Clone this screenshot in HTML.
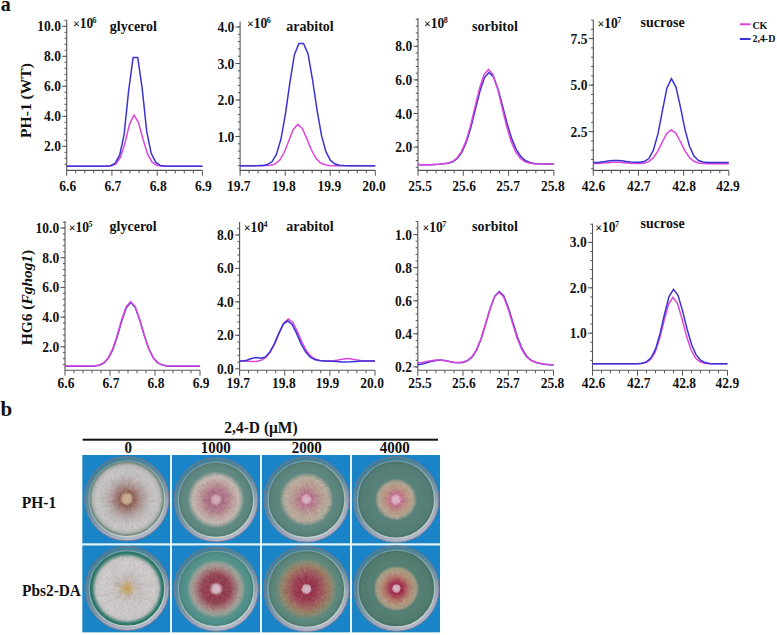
<!DOCTYPE html>
<html><head><meta charset="utf-8"><style>html,body{margin:0;padding:0;background:#fff;width:777px;height:635px;overflow:hidden}</style></head>
<body>
<svg width="777" height="635" viewBox="0 0 777 635" style="position:absolute;left:0;top:0">
<rect width="777" height="635" fill="#fff"/>
<text x="0.8" y="10.6" font-family="Liberation Serif" font-weight="bold" font-size="20" fill="#111">a</text>
<text x="0.6" y="415.9" font-family="Liberation Serif" font-weight="bold" font-size="21" fill="#111">b</text>
<path d="M66.7 20.3V170.4H202.4" stroke="#555" stroke-width="1.1" fill="none"/>
<text x="60.9" y="151.4" transform="matrix(1 0 0 1.08 0 -12.11)" font-family="Liberation Serif" font-weight="bold" font-size="13.5" text-anchor="end" fill="#111">2.0</text>
<text x="60.9" y="121.4" transform="matrix(1 0 0 1.08 0 -9.71)" font-family="Liberation Serif" font-weight="bold" font-size="13.5" text-anchor="end" fill="#111">4.0</text>
<text x="60.9" y="91.4" transform="matrix(1 0 0 1.08 0 -7.31)" font-family="Liberation Serif" font-weight="bold" font-size="13.5" text-anchor="end" fill="#111">6.0</text>
<text x="60.9" y="61.4" transform="matrix(1 0 0 1.08 0 -4.91)" font-family="Liberation Serif" font-weight="bold" font-size="13.5" text-anchor="end" fill="#111">8.0</text>
<text x="60.9" y="31.4" transform="matrix(1 0 0 1.08 0 -2.51)" font-family="Liberation Serif" font-weight="bold" font-size="13.5" text-anchor="end" fill="#111">10.0</text>
<text x="67.7" y="191.0" transform="matrix(1 0 0 1.08 0 -15.28)" font-family="Liberation Serif" font-weight="bold" font-size="13.5" text-anchor="middle" fill="#111">6.6</text>
<text x="112.9" y="191.0" transform="matrix(1 0 0 1.08 0 -15.28)" font-family="Liberation Serif" font-weight="bold" font-size="13.5" text-anchor="middle" fill="#111">6.7</text>
<text x="158.2" y="191.0" transform="matrix(1 0 0 1.08 0 -15.28)" font-family="Liberation Serif" font-weight="bold" font-size="13.5" text-anchor="middle" fill="#111">6.8</text>
<text x="203.4" y="191.0" transform="matrix(1 0 0 1.08 0 -15.28)" font-family="Liberation Serif" font-weight="bold" font-size="13.5" text-anchor="middle" fill="#111">6.9</text>
<path d="M62.1 146.3H66.7 M62.1 116.3H66.7 M62.1 86.3H66.7 M62.1 56.3H66.7 M62.1 26.3H66.7 M64.5 164.3H66.7 M64.5 158.3H66.7 M64.5 152.3H66.7 M64.5 146.3H66.7 M64.5 140.3H66.7 M64.5 134.3H66.7 M64.5 128.3H66.7 M64.5 122.3H66.7 M64.5 116.3H66.7 M64.5 110.3H66.7 M64.5 104.3H66.7 M64.5 98.3H66.7 M64.5 92.3H66.7 M64.5 86.3H66.7 M64.5 80.3H66.7 M64.5 74.3H66.7 M64.5 68.3H66.7 M64.5 62.3H66.7 M64.5 56.3H66.7 M64.5 50.3H66.7 M64.5 44.3H66.7 M64.5 38.3H66.7 M64.5 32.3H66.7 M64.5 26.3H66.7 M64.5 20.3H66.7 M66.7 170.4V175.8 M75.7 170.4V173.4 M84.8 170.4V173.4 M93.8 170.4V173.4 M102.9 170.4V173.4 M111.9 170.4V175.8 M121.0 170.4V173.4 M130.0 170.4V173.4 M139.1 170.4V173.4 M148.1 170.4V173.4 M157.2 170.4V175.8 M166.2 170.4V173.4 M175.3 170.4V173.4 M184.3 170.4V173.4 M193.4 170.4V173.4 M202.4 170.4V175.8" stroke="#555" stroke-width="1" fill="none"/>
<text x="109.8" y="30.6" transform="matrix(1 0 0 1.08 0 -2.45)" font-family="Liberation Serif" font-weight="bold" font-size="14" fill="#111">glycerol</text>
<text x="72.9" y="28.4" transform="matrix(1 0 0 1.08 0 -2.27)" font-family="Liberation Serif" font-weight="bold" font-size="12.5" fill="#111"><tspan font-size="12" dy="-0.8">×</tspan><tspan dy="0.8" dx="-0.1" font-size="13.5">10</tspan><tspan font-size="8" dy="-4.8" dx="-0.5">6</tspan></text>
<polyline points="66.7,166.2 70.7,166.2 75.2,166.2 79.7,166.2 84.2,166.2 88.8,166.2 93.3,166.2 97.8,166.2 102.3,166.2 106.9,166.2 111.4,165.8 115.9,164.0 120.4,157.5 125.0,143.0 129.5,124.3 134.0,115.1 138.5,122.6 143.0,139.2 147.6,154.1 152.1,162.2 156.6,165.3 161.1,166.0 165.7,166.2 170.2,166.2 174.7,166.2 179.2,166.2 183.8,166.2 188.3,166.2 192.8,166.2 197.3,166.2 201.8,166.2 202.4,166.2" fill="none" stroke="#dc46dc" stroke-width="1.5" stroke-linejoin="miter"/>
<polyline points="66.7,166.2 69.8,166.2 74.3,166.2 78.9,166.2 83.4,166.2 87.9,166.2 92.4,166.2 97.0,166.2 101.5,166.2 106.0,166.1 110.5,165.7 115.0,163.4 119.6,155.4 124.1,134.7 128.6,91.0 133.1,57.5 137.7,57.5 142.2,88.5 146.7,131.4 151.2,153.3 155.8,162.4 160.3,165.4 164.8,166.1 169.3,166.2 173.9,166.2 178.4,166.2 182.9,166.2 187.4,166.2 191.9,166.2 196.5,166.2 201.0,166.2 202.4,166.2" fill="none" stroke="#3a32d2" stroke-width="1.5" stroke-linejoin="miter"/>
<path d="M240.1 21.4V170.4H375.3" stroke="#555" stroke-width="1.1" fill="none"/>
<text x="234.3" y="141.6" transform="matrix(1 0 0 1.08 0 -11.33)" font-family="Liberation Serif" font-weight="bold" font-size="13.5" text-anchor="end" fill="#111">1.0</text>
<text x="234.3" y="105.1" transform="matrix(1 0 0 1.08 0 -8.41)" font-family="Liberation Serif" font-weight="bold" font-size="13.5" text-anchor="end" fill="#111">2.0</text>
<text x="234.3" y="68.6" transform="matrix(1 0 0 1.08 0 -5.49)" font-family="Liberation Serif" font-weight="bold" font-size="13.5" text-anchor="end" fill="#111">3.0</text>
<text x="234.3" y="32.1" transform="matrix(1 0 0 1.08 0 -2.57)" font-family="Liberation Serif" font-weight="bold" font-size="13.5" text-anchor="end" fill="#111">4.0</text>
<text x="238.8" y="191.0" transform="matrix(1 0 0 1.08 0 -15.28)" font-family="Liberation Serif" font-weight="bold" font-size="13.5" text-anchor="middle" fill="#111">19.7</text>
<text x="283.9" y="191.0" transform="matrix(1 0 0 1.08 0 -15.28)" font-family="Liberation Serif" font-weight="bold" font-size="13.5" text-anchor="middle" fill="#111">19.8</text>
<text x="329.4" y="191.0" transform="matrix(1 0 0 1.08 0 -15.28)" font-family="Liberation Serif" font-weight="bold" font-size="13.5" text-anchor="middle" fill="#111">19.9</text>
<text x="374.0" y="191.0" transform="matrix(1 0 0 1.08 0 -15.28)" font-family="Liberation Serif" font-weight="bold" font-size="13.5" text-anchor="middle" fill="#111">20.0</text>
<path d="M235.5 136.5H240.1 M235.5 100.0H240.1 M235.5 63.5H240.1 M235.5 27.0H240.1 M237.9 165.7H240.1 M237.9 158.4H240.1 M237.9 151.1H240.1 M237.9 143.8H240.1 M237.9 136.5H240.1 M237.9 129.2H240.1 M237.9 121.9H240.1 M237.9 114.6H240.1 M237.9 107.3H240.1 M237.9 100.0H240.1 M237.9 92.7H240.1 M237.9 85.4H240.1 M237.9 78.1H240.1 M237.9 70.8H240.1 M237.9 63.5H240.1 M237.9 56.2H240.1 M237.9 48.9H240.1 M237.9 41.6H240.1 M237.9 34.3H240.1 M237.9 27.0H240.1 M240.1 170.4V175.8 M249.1 170.4V173.4 M258.1 170.4V173.4 M267.1 170.4V173.4 M276.2 170.4V173.4 M285.2 170.4V175.8 M294.2 170.4V173.4 M303.2 170.4V173.4 M312.2 170.4V173.4 M321.2 170.4V173.4 M330.2 170.4V175.8 M339.2 170.4V173.4 M348.3 170.4V173.4 M357.3 170.4V173.4 M366.3 170.4V173.4 M375.3 170.4V175.8" stroke="#555" stroke-width="1" fill="none"/>
<text x="286.3" y="30.6" transform="matrix(1 0 0 1.08 0 -2.45)" font-family="Liberation Serif" font-weight="bold" font-size="14" fill="#111">arabitol</text>
<text x="247" y="28.4" transform="matrix(1 0 0 1.08 0 -2.27)" font-family="Liberation Serif" font-weight="bold" font-size="12.5" fill="#111"><tspan font-size="12" dy="-0.8">×</tspan><tspan dy="0.8" dx="-0.1" font-size="13.5">10</tspan><tspan font-size="8" dy="-4.8" dx="-0.5">6</tspan></text>
<polyline points="240.1,165.7 243.7,165.7 248.2,165.7 252.7,165.7 257.2,165.7 261.7,165.7 266.3,165.6 270.8,165.2 275.3,163.9 279.8,160.1 284.3,152.3 288.8,140.7 293.3,129.3 297.8,124.4 302.3,128.5 306.8,138.6 311.3,149.8 315.8,158.1 320.3,162.8 324.8,164.8 329.3,165.5 333.9,165.7 338.4,165.7 342.9,165.7 347.4,165.7 351.9,165.7 356.4,165.7 360.9,165.7 365.4,165.7 369.9,165.7 374.4,165.7 375.3,165.7" fill="none" stroke="#dc46dc" stroke-width="1.5" stroke-linejoin="miter"/>
<polyline points="240.1,165.7 240.4,165.7 244.9,165.7 249.4,165.7 253.9,165.7 258.4,165.6 262.9,165.4 267.4,164.6 271.9,161.8 276.4,154.5 280.9,139.3 285.4,114.1 289.9,82.4 294.4,54.7 298.9,43.5 303.5,43.5 308.0,53.7 312.5,79.5 317.0,109.9 321.5,135.4 326.0,151.9 330.5,160.4 335.0,164.0 339.5,165.2 344.0,165.6 348.5,165.7 353.0,165.7 357.5,165.7 362.0,165.7 366.6,165.7 371.1,165.7 375.3,165.7" fill="none" stroke="#3a32d2" stroke-width="1.5" stroke-linejoin="miter"/>
<path d="M418 18.2V170.4H553.9" stroke="#555" stroke-width="1.1" fill="none"/>
<text x="412.2" y="152.2" transform="matrix(1 0 0 1.08 0 -12.18)" font-family="Liberation Serif" font-weight="bold" font-size="13.5" text-anchor="end" fill="#111">2.0</text>
<text x="412.2" y="118.6" transform="matrix(1 0 0 1.08 0 -9.49)" font-family="Liberation Serif" font-weight="bold" font-size="13.5" text-anchor="end" fill="#111">4.0</text>
<text x="412.2" y="85.0" transform="matrix(1 0 0 1.08 0 -6.80)" font-family="Liberation Serif" font-weight="bold" font-size="13.5" text-anchor="end" fill="#111">6.0</text>
<text x="412.2" y="51.4" transform="matrix(1 0 0 1.08 0 -4.11)" font-family="Liberation Serif" font-weight="bold" font-size="13.5" text-anchor="end" fill="#111">8.0</text>
<text x="420.1" y="191.0" transform="matrix(1 0 0 1.08 0 -15.28)" font-family="Liberation Serif" font-weight="bold" font-size="13.5" text-anchor="middle" fill="#111">25.5</text>
<text x="464.1" y="191.0" transform="matrix(1 0 0 1.08 0 -15.28)" font-family="Liberation Serif" font-weight="bold" font-size="13.5" text-anchor="middle" fill="#111">25.6</text>
<text x="508.1" y="191.0" transform="matrix(1 0 0 1.08 0 -15.28)" font-family="Liberation Serif" font-weight="bold" font-size="13.5" text-anchor="middle" fill="#111">25.7</text>
<text x="552.9" y="191.0" transform="matrix(1 0 0 1.08 0 -15.28)" font-family="Liberation Serif" font-weight="bold" font-size="13.5" text-anchor="middle" fill="#111">25.8</text>
<path d="M413.4 147.1H418 M413.4 113.5H418 M413.4 79.9H418 M413.4 46.3H418 M415.8 167.3H418 M415.8 160.5H418 M415.8 153.8H418 M415.8 147.1H418 M415.8 140.4H418 M415.8 133.7H418 M415.8 126.9H418 M415.8 120.2H418 M415.8 113.5H418 M415.8 106.8H418 M415.8 100.1H418 M415.8 93.3H418 M415.8 86.6H418 M415.8 79.9H418 M415.8 73.2H418 M415.8 66.5H418 M415.8 59.7H418 M415.8 53.0H418 M415.8 46.3H418 M415.8 39.6H418 M415.8 32.9H418 M415.8 26.1H418 M415.8 19.4H418 M418.0 170.4V175.8 M427.1 170.4V173.4 M436.1 170.4V173.4 M445.2 170.4V173.4 M454.2 170.4V173.4 M463.3 170.4V175.8 M472.4 170.4V173.4 M481.4 170.4V173.4 M490.5 170.4V173.4 M499.5 170.4V173.4 M508.6 170.4V175.8 M517.7 170.4V173.4 M526.7 170.4V173.4 M535.8 170.4V173.4 M544.8 170.4V173.4 M553.9 170.4V175.8" stroke="#555" stroke-width="1" fill="none"/>
<text x="472" y="30.6" transform="matrix(1 0 0 1.08 0 -2.45)" font-family="Liberation Serif" font-weight="bold" font-size="14" fill="#111">sorbitol</text>
<text x="424" y="28.4" transform="matrix(1 0 0 1.08 0 -2.27)" font-family="Liberation Serif" font-weight="bold" font-size="12.5" fill="#111"><tspan font-size="12" dy="-0.8">×</tspan><tspan dy="0.8" dx="-0.1" font-size="13.5">10</tspan><tspan font-size="8" dy="-4.8" dx="-0.5">8</tspan></text>
<polyline points="418.0,164.6 421.1,164.7 425.6,164.8 430.1,164.7 434.6,164.5 439.2,164.2 443.7,163.8 448.2,163.2 452.8,161.7 457.3,158.4 461.8,152.3 466.4,142.1 470.9,127.3 475.4,109.3 479.9,91.2 484.5,77.6 489.0,72.5 493.5,77.0 498.1,89.4 502.6,106.1 507.1,123.5 511.6,138.4 516.2,149.3 520.7,156.4 525.2,160.5 529.8,162.5 534.3,163.4 538.8,163.8 543.4,163.9 547.9,164.0 552.4,164.0 553.9,164.0" fill="none" stroke="#3a32d2" stroke-width="1.5" stroke-linejoin="miter"/>
<polyline points="418.0,164.6 420.6,164.7 425.1,164.8 429.6,164.7 434.1,164.5 438.7,164.2 443.2,163.8 447.7,163.1 452.3,161.6 456.8,158.3 461.3,151.9 465.9,141.4 470.4,126.1 474.9,107.5 479.4,88.8 484.0,74.7 488.5,69.5 493.0,74.7 497.6,88.8 502.1,107.5 506.6,126.1 511.1,141.4 515.7,151.9 520.2,158.3 524.7,161.6 529.3,163.1 533.8,163.7 538.3,163.9 542.9,164.0 547.4,164.0 551.9,164.0 553.9,164.0" fill="none" stroke="#dc46dc" stroke-width="1.5" stroke-linejoin="miter"/>
<path d="M593.3 20.1V170.4H728.8" stroke="#555" stroke-width="1.1" fill="none"/>
<text x="587.5" y="136.7" transform="matrix(1 0 0 1.08 0 -10.94)" font-family="Liberation Serif" font-weight="bold" font-size="13.5" text-anchor="end" fill="#111">2.5</text>
<text x="587.5" y="90.2" transform="matrix(1 0 0 1.08 0 -7.22)" font-family="Liberation Serif" font-weight="bold" font-size="13.5" text-anchor="end" fill="#111">5.0</text>
<text x="587.5" y="43.7" transform="matrix(1 0 0 1.08 0 -3.50)" font-family="Liberation Serif" font-weight="bold" font-size="13.5" text-anchor="end" fill="#111">7.5</text>
<text x="593.5" y="191.0" transform="matrix(1 0 0 1.08 0 -15.28)" font-family="Liberation Serif" font-weight="bold" font-size="13.5" text-anchor="middle" fill="#111">42.6</text>
<text x="638.7" y="191.0" transform="matrix(1 0 0 1.08 0 -15.28)" font-family="Liberation Serif" font-weight="bold" font-size="13.5" text-anchor="middle" fill="#111">42.7</text>
<text x="684.1" y="191.0" transform="matrix(1 0 0 1.08 0 -15.28)" font-family="Liberation Serif" font-weight="bold" font-size="13.5" text-anchor="middle" fill="#111">42.8</text>
<text x="728.0" y="191.0" transform="matrix(1 0 0 1.08 0 -15.28)" font-family="Liberation Serif" font-weight="bold" font-size="13.5" text-anchor="middle" fill="#111">42.9</text>
<path d="M588.7 131.6H593.3 M588.7 85.1H593.3 M588.7 38.6H593.3 M591.1 168.8H593.3 M591.1 159.5H593.3 M591.1 150.2H593.3 M591.1 140.9H593.3 M591.1 131.6H593.3 M591.1 122.3H593.3 M591.1 113.0H593.3 M591.1 103.7H593.3 M591.1 94.4H593.3 M591.1 85.1H593.3 M591.1 75.8H593.3 M591.1 66.5H593.3 M591.1 57.2H593.3 M591.1 47.9H593.3 M591.1 38.6H593.3 M591.1 29.3H593.3 M591.1 20.0H593.3 M593.3 170.4V175.8 M602.3 170.4V173.4 M611.4 170.4V173.4 M620.4 170.4V173.4 M629.4 170.4V173.4 M638.5 170.4V175.8 M647.5 170.4V173.4 M656.5 170.4V173.4 M665.6 170.4V173.4 M674.6 170.4V173.4 M683.6 170.4V175.8 M692.7 170.4V173.4 M701.7 170.4V173.4 M710.7 170.4V173.4 M719.8 170.4V173.4 M728.8 170.4V175.8" stroke="#555" stroke-width="1" fill="none"/>
<text x="640.6" y="27.4" transform="matrix(1 0 0 1.08 0 -2.19)" font-family="Liberation Serif" font-weight="bold" font-size="14" fill="#111">sucrose</text>
<text x="597.5" y="28.4" transform="matrix(1 0 0 1.08 0 -2.27)" font-family="Liberation Serif" font-weight="bold" font-size="12.5" fill="#111"><tspan font-size="12" dy="-0.8">×</tspan><tspan dy="0.8" dx="-0.1" font-size="13.5">10</tspan><tspan font-size="8" dy="-4.8" dx="-0.5">7</tspan></text>
<polyline points="593.3,163.6 594.5,163.6 599.0,163.4 603.5,163.1 608.1,162.7 612.6,162.3 617.1,162.2 621.6,162.5 626.1,162.9 630.6,163.3 635.2,163.5 639.7,163.5 644.2,163.1 648.7,161.6 653.2,157.9 657.8,151.2 662.3,141.9 666.8,133.4 671.3,129.8 675.8,133.2 680.3,141.5 684.8,150.7 689.4,157.5 693.9,161.3 698.4,163.0 702.9,163.5 707.4,163.7 711.9,163.7 716.5,163.7 721.0,163.7 725.5,163.7 728.8,163.7" fill="none" stroke="#dc46dc" stroke-width="1.5" stroke-linejoin="miter"/>
<polyline points="593.3,162.5 594.6,162.5 599.1,162.2 603.6,161.7 608.2,161.1 612.7,160.5 617.2,160.4 621.7,160.8 626.2,161.4 630.8,162.0 635.3,162.3 639.8,162.3 644.3,161.5 648.8,158.5 653.3,150.4 657.9,134.2 662.4,110.8 666.9,88.2 671.4,78.7 675.9,86.8 680.4,106.8 684.9,129.1 689.5,146.2 694.0,156.0 698.5,160.5 703.0,162.0 707.5,162.5 712.0,162.6 716.6,162.6 721.1,162.6 725.6,162.6 728.8,162.6" fill="none" stroke="#3a32d2" stroke-width="1.5" stroke-linejoin="miter"/>
<path d="M65 221V370.3H200" stroke="#555" stroke-width="1.1" fill="none"/>
<text x="59.2" y="351.9" transform="matrix(1 0 0 1.08 0 -28.15)" font-family="Liberation Serif" font-weight="bold" font-size="13.5" text-anchor="end" fill="#111">2.0</text>
<text x="59.2" y="322.2" transform="matrix(1 0 0 1.08 0 -25.78)" font-family="Liberation Serif" font-weight="bold" font-size="13.5" text-anchor="end" fill="#111">4.0</text>
<text x="59.2" y="292.5" transform="matrix(1 0 0 1.08 0 -23.40)" font-family="Liberation Serif" font-weight="bold" font-size="13.5" text-anchor="end" fill="#111">6.0</text>
<text x="59.2" y="262.8" transform="matrix(1 0 0 1.08 0 -21.02)" font-family="Liberation Serif" font-weight="bold" font-size="13.5" text-anchor="end" fill="#111">8.0</text>
<text x="59.2" y="233.1" transform="matrix(1 0 0 1.08 0 -18.65)" font-family="Liberation Serif" font-weight="bold" font-size="13.5" text-anchor="end" fill="#111">10.0</text>
<text x="66.0" y="387.9" transform="matrix(1 0 0 1.08 0 -31.03)" font-family="Liberation Serif" font-weight="bold" font-size="13.5" text-anchor="middle" fill="#111">6.6</text>
<text x="111.0" y="387.9" transform="matrix(1 0 0 1.08 0 -31.03)" font-family="Liberation Serif" font-weight="bold" font-size="13.5" text-anchor="middle" fill="#111">6.7</text>
<text x="156.0" y="387.9" transform="matrix(1 0 0 1.08 0 -31.03)" font-family="Liberation Serif" font-weight="bold" font-size="13.5" text-anchor="middle" fill="#111">6.8</text>
<text x="201.2" y="387.9" transform="matrix(1 0 0 1.08 0 -31.03)" font-family="Liberation Serif" font-weight="bold" font-size="13.5" text-anchor="middle" fill="#111">6.9</text>
<path d="M60.4 346.8H65 M60.4 317.1H65 M60.4 287.4H65 M60.4 257.7H65 M60.4 228.0H65 M62.8 364.6H65 M62.8 358.7H65 M62.8 352.7H65 M62.8 346.8H65 M62.8 340.9H65 M62.8 334.9H65 M62.8 329.0H65 M62.8 323.0H65 M62.8 317.1H65 M62.8 311.2H65 M62.8 305.2H65 M62.8 299.3H65 M62.8 293.3H65 M62.8 287.4H65 M62.8 281.5H65 M62.8 275.5H65 M62.8 269.6H65 M62.8 263.6H65 M62.8 257.7H65 M62.8 251.8H65 M62.8 245.8H65 M62.8 239.9H65 M62.8 233.9H65 M62.8 228.0H65 M62.8 222.1H65 M65.0 370.3V375.7 M74.0 370.3V373.3 M83.0 370.3V373.3 M92.0 370.3V373.3 M101.0 370.3V373.3 M110.0 370.3V375.7 M119.0 370.3V373.3 M128.0 370.3V373.3 M137.0 370.3V373.3 M146.0 370.3V373.3 M155.0 370.3V375.7 M164.0 370.3V373.3 M173.0 370.3V373.3 M182.0 370.3V373.3 M191.0 370.3V373.3 M200.0 370.3V375.7" stroke="#555" stroke-width="1" fill="none"/>
<text x="109.6" y="231" transform="matrix(1 0 0 1.08 0 -18.48)" font-family="Liberation Serif" font-weight="bold" font-size="14" fill="#111">glycerol</text>
<text x="68.7" y="232.4" transform="matrix(1 0 0 1.08 0 -18.59)" font-family="Liberation Serif" font-weight="bold" font-size="12.5" fill="#111"><tspan font-size="12" dy="-0.8">×</tspan><tspan dy="0.8" dx="-0.1" font-size="13.5">10</tspan><tspan font-size="8" dy="-4.8" dx="-0.5">5</tspan></text>
<polyline points="65.0,366.3 67.8,366.3 72.3,366.3 76.8,366.3 81.3,366.3 85.8,366.3 90.3,366.2 94.8,366.0 99.3,365.2 103.8,363.2 108.3,358.4 112.8,349.6 117.3,336.3 121.8,320.7 126.3,307.7 130.8,302.6 135.3,307.5 139.8,320.2 144.3,335.5 148.8,348.8 153.3,357.8 157.8,362.8 162.3,365.1 166.8,365.9 171.3,366.2 175.8,366.3 180.3,366.3 184.8,366.3 189.3,366.3 193.8,366.3 198.3,366.3 200.0,366.3" fill="none" stroke="#3a32d2" stroke-width="1.5" stroke-linejoin="miter"/>
<polyline points="65.0,366.1 67.6,366.1 72.1,366.1 76.6,366.1 81.1,366.1 85.6,366.1 90.1,366.0 94.6,365.8 99.1,365.0 103.6,362.9 108.1,358.1 112.6,349.2 117.1,335.7 121.6,319.9 126.1,306.8 130.6,301.6 135.1,306.6 139.6,319.4 144.1,334.9 148.6,348.4 153.1,357.5 157.6,362.6 162.1,364.9 166.6,365.7 171.1,366.0 175.6,366.1 180.1,366.1 184.6,366.1 189.1,366.1 193.6,366.1 198.1,366.1 200.0,366.1" fill="none" stroke="#dc46dc" stroke-width="1.5" stroke-linejoin="miter"/>
<path d="M239.6 222.1V370.3H375" stroke="#555" stroke-width="1.1" fill="none"/>
<text x="233.8" y="373.9" transform="matrix(1 0 0 1.08 0 -29.91)" font-family="Liberation Serif" font-weight="bold" font-size="13.5" text-anchor="end" fill="#111">0.0</text>
<text x="233.8" y="340.4" transform="matrix(1 0 0 1.08 0 -27.23)" font-family="Liberation Serif" font-weight="bold" font-size="13.5" text-anchor="end" fill="#111">2.0</text>
<text x="233.8" y="307.0" transform="matrix(1 0 0 1.08 0 -24.56)" font-family="Liberation Serif" font-weight="bold" font-size="13.5" text-anchor="end" fill="#111">4.0</text>
<text x="233.8" y="273.5" transform="matrix(1 0 0 1.08 0 -21.88)" font-family="Liberation Serif" font-weight="bold" font-size="13.5" text-anchor="end" fill="#111">6.0</text>
<text x="233.8" y="240.1" transform="matrix(1 0 0 1.08 0 -19.21)" font-family="Liberation Serif" font-weight="bold" font-size="13.5" text-anchor="end" fill="#111">8.0</text>
<text x="238.2" y="387.9" transform="matrix(1 0 0 1.08 0 -31.03)" font-family="Liberation Serif" font-weight="bold" font-size="13.5" text-anchor="middle" fill="#111">19.7</text>
<text x="283.9" y="387.9" transform="matrix(1 0 0 1.08 0 -31.03)" font-family="Liberation Serif" font-weight="bold" font-size="13.5" text-anchor="middle" fill="#111">19.8</text>
<text x="327.5" y="387.9" transform="matrix(1 0 0 1.08 0 -31.03)" font-family="Liberation Serif" font-weight="bold" font-size="13.5" text-anchor="middle" fill="#111">19.9</text>
<text x="372.2" y="387.9" transform="matrix(1 0 0 1.08 0 -31.03)" font-family="Liberation Serif" font-weight="bold" font-size="13.5" text-anchor="middle" fill="#111">20.0</text>
<path d="M235.0 368.8H239.6 M235.0 335.3H239.6 M235.0 301.9H239.6 M235.0 268.4H239.6 M235.0 235.0H239.6 M237.4 362.1H239.6 M237.4 355.4H239.6 M237.4 348.7H239.6 M237.4 342.0H239.6 M237.4 335.3H239.6 M237.4 328.6H239.6 M237.4 322.0H239.6 M237.4 315.3H239.6 M237.4 308.6H239.6 M237.4 301.9H239.6 M237.4 295.2H239.6 M237.4 288.5H239.6 M237.4 281.8H239.6 M237.4 275.1H239.6 M237.4 268.4H239.6 M237.4 261.7H239.6 M237.4 255.0H239.6 M237.4 248.3H239.6 M237.4 241.7H239.6 M237.4 235.0H239.6 M237.4 228.3H239.6 M239.6 370.3V375.7 M248.6 370.3V373.3 M257.7 370.3V373.3 M266.7 370.3V373.3 M275.7 370.3V373.3 M284.7 370.3V375.7 M293.8 370.3V373.3 M302.8 370.3V373.3 M311.8 370.3V373.3 M320.8 370.3V373.3 M329.9 370.3V375.7 M338.9 370.3V373.3 M347.9 370.3V373.3 M356.9 370.3V373.3 M366.0 370.3V373.3 M375.0 370.3V375.7" stroke="#555" stroke-width="1" fill="none"/>
<text x="286.3" y="231" transform="matrix(1 0 0 1.08 0 -18.48)" font-family="Liberation Serif" font-weight="bold" font-size="14" fill="#111">arabitol</text>
<text x="243.8" y="232.4" transform="matrix(1 0 0 1.08 0 -18.59)" font-family="Liberation Serif" font-weight="bold" font-size="12.5" fill="#111"><tspan font-size="12" dy="-0.8">×</tspan><tspan dy="0.8" dx="-0.1" font-size="13.5">10</tspan><tspan font-size="8" dy="-4.8" dx="-0.5">4</tspan></text>
<polyline points="239.6,361.0 243.2,361.0 247.7,361.2 252.2,361.5 256.7,361.4 261.2,360.2 265.7,357.5 270.2,352.2 274.8,343.6 279.3,332.6 283.8,322.9 288.3,319.0 292.8,322.5 297.3,331.4 301.8,341.9 306.4,350.6 310.9,356.3 315.4,359.2 319.9,360.4 324.4,360.8 328.9,360.9 333.4,360.7 337.9,360.1 342.5,359.2 347.0,358.6 351.5,358.9 356.0,359.8 360.5,360.5 365.0,360.9 369.5,361.0 374.1,361.0 375.0,361.0" fill="none" stroke="#dc46dc" stroke-width="1.5" stroke-linejoin="miter"/>
<polyline points="239.6,361.0 242.5,360.9 247.0,360.3 251.5,358.5 256.0,357.4 260.5,358.3 265.0,357.2 269.5,352.6 274.1,344.3 278.6,333.8 283.1,324.5 287.6,320.8 292.1,324.4 296.6,333.4 301.1,343.8 305.7,352.1 310.2,357.2 314.7,359.6 319.2,360.6 323.7,360.9 328.2,361.1 332.7,361.3 337.2,361.6 341.8,361.9 346.3,362.0 350.8,361.8 355.3,361.4 359.8,361.2 364.3,361.1 368.8,361.0 373.4,361.0 375.0,361.0" fill="none" stroke="#3a32d2" stroke-width="1.5" stroke-linejoin="miter"/>
<path d="M417.8 221.1V370.3H553.5" stroke="#555" stroke-width="1.1" fill="none"/>
<text x="412.0" y="372.0" transform="matrix(1 0 0 1.08 0 -29.76)" font-family="Liberation Serif" font-weight="bold" font-size="13.5" text-anchor="end" fill="#111">0.2</text>
<text x="412.0" y="338.9" transform="matrix(1 0 0 1.08 0 -27.11)" font-family="Liberation Serif" font-weight="bold" font-size="13.5" text-anchor="end" fill="#111">0.4</text>
<text x="412.0" y="305.9" transform="matrix(1 0 0 1.08 0 -24.47)" font-family="Liberation Serif" font-weight="bold" font-size="13.5" text-anchor="end" fill="#111">0.6</text>
<text x="412.0" y="272.8" transform="matrix(1 0 0 1.08 0 -21.82)" font-family="Liberation Serif" font-weight="bold" font-size="13.5" text-anchor="end" fill="#111">0.8</text>
<text x="412.0" y="239.7" transform="matrix(1 0 0 1.08 0 -19.18)" font-family="Liberation Serif" font-weight="bold" font-size="13.5" text-anchor="end" fill="#111">1.0</text>
<text x="420.0" y="387.9" transform="matrix(1 0 0 1.08 0 -31.03)" font-family="Liberation Serif" font-weight="bold" font-size="13.5" text-anchor="middle" fill="#111">25.5</text>
<text x="463.9" y="387.9" transform="matrix(1 0 0 1.08 0 -31.03)" font-family="Liberation Serif" font-weight="bold" font-size="13.5" text-anchor="middle" fill="#111">25.6</text>
<text x="508.0" y="387.9" transform="matrix(1 0 0 1.08 0 -31.03)" font-family="Liberation Serif" font-weight="bold" font-size="13.5" text-anchor="middle" fill="#111">25.7</text>
<text x="552.5" y="387.9" transform="matrix(1 0 0 1.08 0 -31.03)" font-family="Liberation Serif" font-weight="bold" font-size="13.5" text-anchor="middle" fill="#111">25.8</text>
<path d="M413.2 366.9H417.8 M413.2 333.8H417.8 M413.2 300.8H417.8 M413.2 267.7H417.8 M413.2 234.6H417.8 M415.6 366.9H417.8 M415.6 360.3H417.8 M415.6 353.7H417.8 M415.6 347.1H417.8 M415.6 340.5H417.8 M415.6 333.8H417.8 M415.6 327.2H417.8 M415.6 320.6H417.8 M415.6 314.0H417.8 M415.6 307.4H417.8 M415.6 300.8H417.8 M415.6 294.1H417.8 M415.6 287.5H417.8 M415.6 280.9H417.8 M415.6 274.3H417.8 M415.6 267.7H417.8 M415.6 261.1H417.8 M415.6 254.4H417.8 M415.6 247.8H417.8 M415.6 241.2H417.8 M415.6 234.6H417.8 M415.6 228.0H417.8 M415.6 221.4H417.8 M417.8 370.3V375.7 M426.8 370.3V373.3 M435.9 370.3V373.3 M444.9 370.3V373.3 M454.0 370.3V373.3 M463.0 370.3V375.7 M472.1 370.3V373.3 M481.1 370.3V373.3 M490.2 370.3V373.3 M499.2 370.3V373.3 M508.3 370.3V375.7 M517.3 370.3V373.3 M526.4 370.3V373.3 M535.4 370.3V373.3 M544.5 370.3V373.3 M553.5 370.3V375.7" stroke="#555" stroke-width="1" fill="none"/>
<text x="472" y="231" transform="matrix(1 0 0 1.08 0 -18.48)" font-family="Liberation Serif" font-weight="bold" font-size="14" fill="#111">sorbitol</text>
<text x="422.5" y="232.4" transform="matrix(1 0 0 1.08 0 -18.59)" font-family="Liberation Serif" font-weight="bold" font-size="12.5" fill="#111"><tspan font-size="12" dy="-0.8">×</tspan><tspan dy="0.8" dx="-0.1" font-size="13.5">10</tspan><tspan font-size="8" dy="-4.8" dx="-0.5">7</tspan></text>
<polyline points="417.8,364.8 417.9,364.8 422.4,364.1 426.9,362.8 431.5,361.4 436.0,360.4 440.5,360.0 445.0,360.5 449.5,361.5 454.1,362.4 458.6,362.8 463.1,362.4 467.6,360.7 472.2,356.9 476.7,349.9 481.2,338.7 485.7,323.9 490.3,308.3 494.8,296.1 499.3,291.5 503.8,295.9 508.3,307.4 512.9,322.5 517.4,337.0 521.9,348.4 526.4,355.9 531.0,360.2 535.5,362.3 540.0,363.4 544.5,364.2 549.1,364.8 553.5,365.0" fill="none" stroke="#3a32d2" stroke-width="1.5" stroke-linejoin="miter"/>
<polyline points="417.8,362.9 422.1,362.4 426.6,361.6 431.1,360.7 435.7,360.1 440.2,360.1 444.7,360.7 449.2,361.5 453.8,362.3 458.3,362.6 462.8,362.1 467.3,360.5 471.9,356.8 476.4,349.8 480.9,338.8 485.4,324.2 490.0,308.8 494.5,296.8 499.0,292.2 503.5,296.6 508.0,308.4 512.6,323.5 517.1,337.9 521.6,349.1 526.1,356.3 530.7,360.3 535.2,362.3 539.7,363.3 544.2,364.0 548.8,364.6 553.3,364.8 553.5,364.8" fill="none" stroke="#dc46dc" stroke-width="1.5" stroke-linejoin="miter"/>
<path d="M592.5 223.7V370.3H727.5" stroke="#555" stroke-width="1.1" fill="none"/>
<text x="586.7" y="338.3" transform="matrix(1 0 0 1.08 0 -27.06)" font-family="Liberation Serif" font-weight="bold" font-size="13.5" text-anchor="end" fill="#111">1.0</text>
<text x="586.7" y="292.9" transform="matrix(1 0 0 1.08 0 -23.43)" font-family="Liberation Serif" font-weight="bold" font-size="13.5" text-anchor="end" fill="#111">2.0</text>
<text x="586.7" y="247.5" transform="matrix(1 0 0 1.08 0 -19.80)" font-family="Liberation Serif" font-weight="bold" font-size="13.5" text-anchor="end" fill="#111">3.0</text>
<text x="593.5" y="387.9" transform="matrix(1 0 0 1.08 0 -31.03)" font-family="Liberation Serif" font-weight="bold" font-size="13.5" text-anchor="middle" fill="#111">42.6</text>
<text x="638.7" y="387.9" transform="matrix(1 0 0 1.08 0 -31.03)" font-family="Liberation Serif" font-weight="bold" font-size="13.5" text-anchor="middle" fill="#111">42.7</text>
<text x="684.2" y="387.9" transform="matrix(1 0 0 1.08 0 -31.03)" font-family="Liberation Serif" font-weight="bold" font-size="13.5" text-anchor="middle" fill="#111">42.8</text>
<text x="727.4" y="387.9" transform="matrix(1 0 0 1.08 0 -31.03)" font-family="Liberation Serif" font-weight="bold" font-size="13.5" text-anchor="middle" fill="#111">42.9</text>
<path d="M587.9 333.2H592.5 M587.9 287.8H592.5 M587.9 242.4H592.5 M590.3 360.4H592.5 M590.3 351.4H592.5 M590.3 342.3H592.5 M590.3 333.2H592.5 M590.3 324.1H592.5 M590.3 315.0H592.5 M590.3 306.0H592.5 M590.3 296.9H592.5 M590.3 287.8H592.5 M590.3 278.7H592.5 M590.3 269.6H592.5 M590.3 260.6H592.5 M590.3 251.5H592.5 M590.3 242.4H592.5 M590.3 233.3H592.5 M590.3 224.2H592.5 M592.5 370.3V375.7 M601.5 370.3V373.3 M610.5 370.3V373.3 M619.5 370.3V373.3 M628.5 370.3V373.3 M637.5 370.3V375.7 M646.5 370.3V373.3 M655.5 370.3V373.3 M664.5 370.3V373.3 M673.5 370.3V373.3 M682.5 370.3V375.7 M691.5 370.3V373.3 M700.5 370.3V373.3 M709.5 370.3V373.3 M718.5 370.3V373.3 M727.5 370.3V375.7" stroke="#555" stroke-width="1" fill="none"/>
<text x="640.6" y="228.2" transform="matrix(1 0 0 1.08 0 -18.26)" font-family="Liberation Serif" font-weight="bold" font-size="14" fill="#111">sucrose</text>
<text x="595.3" y="232.4" transform="matrix(1 0 0 1.08 0 -18.59)" font-family="Liberation Serif" font-weight="bold" font-size="12.5" fill="#111"><tspan font-size="12" dy="-0.8">×</tspan><tspan dy="0.8" dx="-0.1" font-size="13.5">10</tspan><tspan font-size="8" dy="-4.8" dx="-0.5">7</tspan></text>
<polyline points="592.5,363.8 596.5,363.8 601.0,363.8 605.5,363.8 610.0,363.8 614.5,363.8 619.0,363.8 623.5,363.8 628.0,363.8 632.5,363.8 637.0,363.7 641.5,363.5 646.0,362.5 650.5,359.5 655.0,352.4 659.5,339.1 664.0,321.0 668.5,304.3 673.0,297.4 677.5,303.6 682.0,318.8 686.5,336.1 691.0,349.8 695.5,358.0 700.0,361.8 704.5,363.2 709.0,363.7 713.5,363.8 718.0,363.8 722.5,363.8 727.0,363.8 727.5,363.8" fill="none" stroke="#dc46dc" stroke-width="1.5" stroke-linejoin="miter"/>
<polyline points="592.5,363.8 597.0,363.8 601.5,363.8 606.0,363.8 610.5,363.8 615.0,363.8 619.5,363.8 624.0,363.8 628.5,363.8 633.0,363.8 637.5,363.7 642.0,363.3 646.5,361.9 651.0,357.9 655.5,349.1 660.0,333.9 664.5,314.2 669.0,296.6 673.5,289.4 678.0,295.4 682.5,310.6 687.0,328.8 691.5,344.3 696.0,354.6 700.5,360.1 705.0,362.6 709.5,363.4 714.0,363.7 718.5,363.8 723.0,363.8 727.5,363.8" fill="none" stroke="#3a32d2" stroke-width="1.5" stroke-linejoin="miter"/>
<text transform="translate(31.2,100.5) rotate(-90)" font-family="Liberation Serif" font-weight="bold" font-size="15.6" text-anchor="middle" fill="#111">PH-1 (WT)</text>
<text transform="translate(32.4,297.5) rotate(-90)" font-family="Liberation Serif" font-weight="bold" font-size="15.4" text-anchor="middle" fill="#111">HG6 (<tspan font-style="italic">Fghog1</tspan>)</text>
<path d="M739.8 24.3H750.6" stroke="#dc46dc" stroke-width="2"/><path d="M739.8 39H750.6" stroke="#3a32d2" stroke-width="2"/>
<text x="752.4" y="28.6" transform="matrix(1 0 0 1.08 0 -2.29)" font-family="Liberation Serif" font-weight="bold" font-size="10" fill="#111">CK</text>
<text x="752.4" y="42.4" transform="matrix(1 0 0 1.08 0 -3.39)" font-family="Liberation Serif" font-weight="bold" font-size="10" fill="#111">2,4-D</text>
<text x="261" y="433" transform="matrix(1 0 0 1.08 0 -34.64)" font-family="Liberation Serif" font-weight="bold" font-size="15.5" text-anchor="middle" fill="#111">2,4-D (μM)</text>
<rect x="82.6" y="438.7" width="355.4" height="2" fill="#111"/>
<text x="128.3" y="452.8" transform="matrix(1 0 0 1.08 0 -36.22)" font-family="Liberation Serif" font-weight="bold" font-size="15" text-anchor="middle" fill="#111">0</text>
<text x="215.8" y="452.8" transform="matrix(1 0 0 1.08 0 -36.22)" font-family="Liberation Serif" font-weight="bold" font-size="15" text-anchor="middle" fill="#111">1000</text>
<text x="306.8" y="452.8" transform="matrix(1 0 0 1.08 0 -36.22)" font-family="Liberation Serif" font-weight="bold" font-size="15" text-anchor="middle" fill="#111">2000</text>
<text x="394.8" y="452.8" transform="matrix(1 0 0 1.08 0 -36.22)" font-family="Liberation Serif" font-weight="bold" font-size="15" text-anchor="middle" fill="#111">4000</text>
<text x="21.8" y="508" transform="matrix(1 0 0 1.08 0 -40.64)" font-family="Liberation Serif" font-weight="bold" font-size="15.5" fill="#111">PH-1</text>
<text x="22" y="595.8" transform="matrix(1 0 0 1.08 0 -47.66)" font-family="Liberation Serif" font-weight="bold" font-size="15.4" fill="#111">Pbs2-DA</text>
<rect x="82.2" y="455" width="357.8" height="177.6" fill="#e4f4f4"/>
<defs><filter id="soft" x="-10%" y="-10%" width="120%" height="120%"><feGaussianBlur stdDeviation="0.45"/></filter></defs>
<svg x="82.2" y="455" width="87.8" height="88.6" overflow="hidden">
<rect width="100%" height="100%" fill="rgb(25,133,200)"/>
<g filter="url(#soft)">
<radialGradient id="ag0" gradientUnits="userSpaceOnUse" cx="44.6" cy="43.8" r="42.5"><stop offset="0" stop-color="rgb(95,123,114)"/><stop offset="0.906" stop-color="rgb(91,120,111)"/><stop offset="0.812" stop-color="rgb(85,115,105)"/><stop offset="0.878" stop-color="rgb(76,103,94)"/><stop offset="1" stop-color="rgb(76,103,94)"/></radialGradient>
<linearGradient id="rg0" gradientUnits="userSpaceOnUse" x1="23.3" y1="1.3" x2="65.8" y2="86.3"><stop offset="0" stop-color="rgb(60,125,150)"/><stop offset="0.45" stop-color="rgb(95,140,160)"/><stop offset="0.75" stop-color="rgb(160,168,188)"/><stop offset="1" stop-color="rgb(185,188,205)"/></linearGradient>
<linearGradient id="lg0" gradientUnits="userSpaceOnUse" x1="23.3" y1="1.3" x2="65.8" y2="86.3"><stop offset="0" stop-color="rgb(100,145,158)"/><stop offset="0.5" stop-color="rgb(150,175,175)"/><stop offset="1" stop-color="rgb(215,222,215)"/></linearGradient>
<circle cx="44.6" cy="43.8" r="42.5" fill="url(#ag0)"/>
<circle cx="44.6" cy="43.8" r="40.20" fill="none" stroke="url(#rg0)" stroke-width="4.2"/>
<circle cx="44.6" cy="43.8" r="37.90" fill="none" stroke="url(#lg0)" stroke-width="1.4"/>
<circle cx="44.6" cy="43.8" r="42.15" fill="none" stroke="rgb(110,118,155)" stroke-width="0.8"/>
<radialGradient id="cg0" gradientUnits="userSpaceOnUse" cx="44.6" cy="43.8" r="37.63"><stop offset="0.000" stop-color="rgb(205,180,150)"/><stop offset="0.123" stop-color="rgb(195,165,140)"/><stop offset="0.189" stop-color="rgb(140,95,85)"/><stop offset="0.283" stop-color="rgb(160,125,120)"/><stop offset="0.425" stop-color="rgb(175,160,158)"/><stop offset="0.613" stop-color="rgb(192,187,187)"/><stop offset="0.802" stop-color="rgb(198,195,195)"/><stop offset="0.896" stop-color="rgb(180,182,178)"/><stop offset="1" stop-color="rgb(180,182,178)" stop-opacity="0"/></radialGradient>
<circle cx="44.6" cy="43.8" r="37.63" fill="url(#cg0)"/>
<path d="M40.6 51.8L37.6 57.9M49.5 50.1L52.4 53.8M35.5 39.4L32.4 37.9M43.5 36.4L42.4 29.1M38.9 35.1L36.9 32.0M50.5 49.1L54.5 52.7M37.8 45.6L30.4 47.5M36.0 38.4L32.6 36.3M38.6 37.5L35.7 34.5M37.8 48.1L34.6 50.1M37.7 36.6L35.3 34.0" stroke="rgb(144,108,108)" stroke-opacity="0.45" stroke-width="0.7"/>
<path d="M63.3 56.3L70.2 61.0M25.4 35.2L17.6 31.7M27.9 19.8L25.9 17.1M48.5 20.9L49.7 13.4M39.8 71.8L38.8 77.6M59.6 65.8L63.5 71.4M72.3 50.8L76.7 51.9M63.9 33.1L70.1 29.6M73.8 44.4L79.7 44.5M70.4 52.1L75.7 53.8M24.6 65.6L21.9 68.5M20.7 43.3L12.6 43.1M67.2 47.2L72.5 48.0M19.5 59.5L14.8 62.5M16.0 50.4L12.9 51.1M20.3 27.2L15.6 23.9M53.5 17.9L56.0 10.6M31.9 19.3L28.5 12.6M42.8 72.3L42.4 78.9M38.6 18.8L36.6 10.8M41.6 15.4L41.0 9.5M44.5 17.8L44.5 9.9M60.7 68.8L63.6 73.3M60.5 60.1L65.4 65.1M18.3 54.5L12.4 56.8M40.7 21.0L39.9 16.2M20.6 43.7L14.9 43.7M49.9 69.9L51.6 78.2M60.7 54.6L66.9 58.7M64.3 31.3L69.9 27.7M69.7 45.3L78.5 45.8M69.1 46.1L76.8 46.8M62.5 66.8L65.6 70.8M68.0 25.9L71.6 23.1M39.1 65.4L37.8 70.3M69.5 54.7L74.3 56.8M63.5 38.2L69.2 36.5M22.6 48.7L15.3 50.4M71.2 33.5L75.8 31.8M23.4 55.1L18.9 57.5M27.5 66.1L23.9 70.8M15.2 39.3L11.1 38.7M69.8 28.6L74.7 25.7M66.9 57.2L71.3 59.9M62.2 63.4L66.5 68.2" stroke="rgb(180,180,180)" stroke-opacity="0.45" stroke-width="0.7"/>
<path d="M38.7 46.4L35.6 47.8M42.6 38.5L41.2 34.8M39.4 47.5L35.4 50.5M49.2 40.6L54.2 37.1M50.5 41.8L54.3 40.5M39.3 41.8L34.0 39.8" stroke="rgb(156,120,108)" stroke-opacity="0.45" stroke-width="0.7"/>
<path d="M13.6 30.3L12.4 29.8M26.3 71.8L25.4 73.2M44.8 60.3L45.0 68.4M9.8 47.6L9.7 47.6M32.0 61.1L29.8 64.0M24.6 50.0L19.1 51.7M68.7 20.2L69.7 19.2M9.5 46.6L9.6 46.6M56.3 10.5L56.2 10.6M61.0 16.2L62.5 13.6M45.0 21.8L45.1 14.0M69.6 54.8L73.6 56.6M30.4 56.7L25.2 61.4M19.7 65.3L18.0 66.7M57.6 59.8L63.0 66.5M28.1 15.0L27.2 13.3M19.4 52.0L14.9 53.5M27.6 56.9L22.3 61.0M67.9 17.1L67.7 17.3M16.7 62.7L15.5 63.6M56.2 11.4L56.5 10.7M39.5 11.9L39.1 9.1M22.3 51.5L15.0 54.1M64.1 28.7L70.0 24.0M38.7 23.6L37.5 19.6M35.7 14.5L34.6 10.9M10.7 53.2L10.7 53.2M63.3 70.4L64.8 72.6M56.4 63.6L60.1 69.8M68.7 68.7L69.0 69.0M35.4 27.7L31.6 21.3M58.4 56.9L61.6 60.0M43.4 10.7L43.3 8.7M63.2 54.8L69.7 58.7M38.5 9.4L38.5 9.2M52.1 76.1L52.6 78.0M15.2 32.7L11.7 31.4M76.0 31.7L77.4 31.2M72.2 27.3L74.8 25.8M19.9 31.6L16.4 29.9M31.3 55.0L25.2 60.1M26.3 52.0L23.6 53.2M16.3 65.1L16.6 65.0M16.4 25.9L15.0 24.9M63.8 32.5L67.7 30.2M40.3 61.7L38.7 68.6M72.7 61.1L74.5 62.2M30.3 61.6L27.2 65.5M65.0 51.9L68.2 53.2M23.1 44.1L18.6 44.1M17.8 62.4L15.7 63.8M60.5 27.9L65.5 22.9M53.1 24.2L56.1 17.4M37.4 9.7L37.4 9.4" stroke="rgb(168,168,168)" stroke-opacity="0.45" stroke-width="0.7"/>
<path d="M16.9 64.8L16.6 65.0M55.6 73.8L56.7 76.8M62.3 71.4L63.6 73.4M73.6 29.8L76.3 28.6M29.9 71.9L28.3 74.9M57.5 76.0L57.7 76.4M64.9 68.6L66.9 71.0M23.5 18.3L22.2 16.7M14.0 53.4L11.1 54.4M12.5 32.2L11.6 31.8" stroke="rgb(168,180,168)" stroke-opacity="0.45" stroke-width="0.7"/>
<path d="M30.1 30.4L25.7 26.2M28.4 34.9L21.4 31.1M41.5 60.8L40.6 65.7M16.5 43.6L11.7 43.6M70.0 54.0L77.2 56.9M59.5 23.2L64.5 16.3M17.4 38.7L10.7 37.5M36.3 21.6L35.0 18.2M32.3 71.7L31.1 74.3M33.2 69.8L30.5 76.0M44.9 24.0L44.9 17.7M57.6 34.0L62.9 29.9M40.3 19.7L39.0 12.4M51.9 28.5L55.3 21.1M24.3 32.9L19.0 30.1M64.7 37.9L71.3 36.0M40.5 61.2L39.1 67.0M28.2 52.3L22.4 55.4M38.7 64.4L37.7 67.8M36.3 26.4L32.9 19.5M26.4 37.0L18.7 34.1M23.2 48.2L16.5 49.5M25.5 53.9L18.6 57.6M28.2 19.9L25.5 15.9M57.3 17.9L60.0 12.3M22.3 34.2L14.4 30.8M61.7 65.8L66.2 71.5M21.6 52.7L16.3 54.7M61.3 69.0L63.1 71.8M24.5 26.7L18.7 21.7M36.2 66.8L35.0 70.2M17.4 40.8L10.2 39.9M65.0 43.6L71.0 43.5M68.5 26.1L72.3 23.4M63.0 32.6L67.4 29.9M59.4 68.3L61.6 72.0" stroke="rgb(204,204,204)" stroke-opacity="0.45" stroke-width="0.7"/>
<path d="M58.4 36.6L62.2 34.6M43.5 59.5L43.2 63.3M54.5 38.2L61.6 34.2M58.2 40.8L63.1 39.7M55.8 50.3L61.7 53.7M33.9 52.2L28.7 56.3M41.5 28.5L40.5 23.4M41.7 30.0L40.7 25.6M37.9 56.4L35.6 60.8M54.6 35.1L60.4 30.0M57.0 43.5L63.7 43.4M36.5 32.0L33.3 27.3M58.1 42.7L65.5 42.2M57.7 41.4L63.9 40.3M59.0 49.4L63.9 51.4" stroke="rgb(156,144,144)" stroke-opacity="0.45" stroke-width="0.7"/>
<path d="M45.4 66.0L45.6 72.0M18.1 48.3L11.9 49.3M38.1 20.6L36.7 15.5M68.1 52.3L73.0 54.1M67.9 50.1L76.3 52.3M47.3 71.6L47.7 75.8M48.4 66.5L48.9 69.4M46.5 62.8L47.4 71.4M59.9 55.2L66.1 59.9M51.9 65.9L53.7 71.5M47.4 20.9L48.1 15.2M59.8 63.7L64.6 70.0M67.5 48.0L74.4 49.2M65.2 55.9L71.4 59.5M35.8 65.1L32.5 73.0M59.6 27.4L65.2 21.3M52.6 69.0L54.3 74.4M28.2 26.2L23.4 21.0M22.5 52.5L14.3 55.8M65.9 32.0L71.7 28.8M68.9 56.8L71.6 58.2" stroke="rgb(216,216,216)" stroke-opacity="0.45" stroke-width="0.7"/>
<path d="M36.4 77.7L36.3 78.0M25.1 21.9L22.9 19.4M41.7 78.0L41.7 78.8M68.8 66.5L70.2 67.9M31.4 11.6L31.3 11.3M65.4 26.4L71.1 21.7M11.5 34.0L10.9 33.8M57.3 75.4L57.7 76.4" stroke="rgb(192,192,180)" stroke-opacity="0.45" stroke-width="0.7"/>
<path d="M16.3 29.8L13.1 28.2M68.0 19.2L68.8 18.3M65.4 22.1L68.3 19.1M47.1 14.5L47.6 8.8M18.8 64.7L17.3 65.9M69.1 67.9L69.7 68.4M27.0 39.1L22.4 37.9M70.0 28.4L73.2 26.6M74.2 53.1L78.1 54.4M16.7 28.5L13.8 26.9M64.4 17.3L65.6 15.6M60.3 13.1L60.6 12.5M27.9 17.1L26.0 14.0M25.3 20.7L22.1 16.8M14.7 60.5L13.9 61.0M14.9 39.6L9.8 38.9M30.9 74.8L30.4 75.9M62.1 20.1L65.5 15.5M16.3 28.3L13.8 26.9M72.2 52.2L78.2 54.0M52.9 11.1L53.2 9.7M12.3 30.3L12.2 30.2M38.0 14.8L36.8 9.5M38.0 13.9L37.0 9.5M68.4 22.6L70.7 20.6M43.3 76.0L43.2 78.9M59.7 12.0L59.7 12.1M74.7 59.4L75.8 60.0M10.7 44.7L9.5 44.8M70.5 60.6L74.1 62.9M14.8 28.5L13.3 27.8M73.2 61.9L74.3 62.6M42.4 13.7L42.1 8.7M64.2 72.6L64.4 72.8" stroke="rgb(192,192,192)" stroke-opacity="0.45" stroke-width="0.7"/>
<path d="M41.4 38.5L37.8 32.4M40.4 38.6L38.1 35.7M49.8 48.0L52.4 50.1M44.1 37.5L43.5 31.1M44.3 39.4L44.0 35.1M43.9 39.1L43.3 35.4M39.0 39.3L35.8 36.8M49.4 40.1L55.2 35.7M45.0 49.1L45.6 56.0" stroke="rgb(168,132,120)" stroke-opacity="0.45" stroke-width="0.7"/>
<path d="M25.7 60.3L23.4 62.3M56.0 18.9L57.7 15.1M28.8 33.6L23.1 30.0M56.6 29.8L59.8 26.1M52.1 27.7L54.5 22.4M41.6 68.9L40.8 75.8M31.9 23.3L30.0 20.1M28.0 27.5L22.1 21.7M41.5 24.9L40.5 18.8M28.4 23.5L24.7 18.9M62.5 57.0L67.4 60.6M26.4 27.9L23.1 25.1M37.3 24.3L34.7 17.4M39.9 20.5L38.9 15.7M48.4 22.6L49.9 14.4M69.4 42.7L73.2 42.6M62.0 34.6L69.1 30.8M20.9 58.9L17.9 60.9M53.9 25.8L55.5 22.7M67.5 43.5L73.0 43.4M70.5 47.9L76.1 48.8M47.4 63.4L48.2 69.3M61.3 63.3L65.1 67.7M45.7 64.1L45.9 69.7" stroke="rgb(216,204,204)" stroke-opacity="0.45" stroke-width="0.7"/>
<path d="M29.5 31.2L26.3 28.5M48.8 59.3L50.5 65.7M37.3 24.7L35.9 20.9M32.7 34.6L26.6 29.8M61.5 43.2L66.8 43.0M37.5 28.4L34.5 21.8M29.9 52.8L24.8 55.9M64.0 47.7L69.6 48.8M37.2 58.5L34.7 63.5M30.7 42.4L22.1 41.5M44.0 25.0L43.8 17.7M27.7 37.9L20.6 35.4M34.9 31.2L32.1 27.5M58.7 31.4L60.9 29.5M61.9 45.2L67.2 45.7M31.4 38.1L23.5 34.7M29.9 44.4L21.2 44.7M28.6 38.1L22.7 36.0M60.5 34.9L63.0 33.5M54.3 60.8L56.6 65.0M32.7 34.5L27.3 30.3M35.4 56.0L31.8 60.8M51.6 57.9L55.0 64.7M58.4 47.1L65.8 48.8M63.4 38.6L70.7 36.5" stroke="rgb(204,192,192)" stroke-opacity="0.45" stroke-width="0.7"/>
<path d="M34.1 51.3L31.1 53.4M40.8 29.1L40.0 26.1M55.5 35.4L58.3 33.3" stroke="rgb(192,180,168)" stroke-opacity="0.45" stroke-width="0.7"/>
<path d="M50.3 51.7L52.8 55.2M47.0 52.8L48.2 57.5M37.5 48.6L32.2 52.2" stroke="rgb(156,120,120)" stroke-opacity="0.45" stroke-width="0.7"/>
<path d="M49.5 35.1L51.7 31.1M34.8 48.5L30.6 50.6M40.7 54.1L39.2 58.0M52.1 38.0L58.1 33.3M54.0 38.0L59.4 34.7M33.2 42.2L29.4 41.7M45.5 56.6L45.8 59.7" stroke="rgb(144,120,120)" stroke-opacity="0.45" stroke-width="0.7"/>
<path d="M29.6 59.9L23.8 66.2M29.4 55.7L25.3 59.0M25.6 40.1L18.2 38.6M56.9 58.1L61.7 63.7M29.3 57.4L25.9 60.4M41.0 24.4L40.2 20.0M22.3 35.2L16.1 32.8M31.3 39.6L28.1 38.5M35.8 34.2L33.4 31.6M53.7 21.6L56.9 13.9M46.0 63.1L46.5 70.0M43.2 23.8L43.0 19.7M25.7 51.0L22.8 52.1M42.6 32.8L41.2 25.1M63.4 39.5L69.6 38.1M36.4 33.1L33.5 29.2M63.2 59.2L65.8 61.3M23.7 31.0L16.9 26.9M29.6 56.4L23.0 62.0M61.1 53.3L68.2 57.4M57.2 23.2L60.1 18.4M27.5 27.1L22.0 21.7M44.5 64.3L44.5 69.8M49.6 60.7L51.9 68.7" stroke="rgb(180,168,168)" stroke-opacity="0.45" stroke-width="0.7"/>
<path d="M36.8 45.1L31.1 46.0M40.0 38.5L34.4 32.1M41.9 51.6L40.4 55.7M49.7 52.0L51.4 54.7M36.8 48.6L33.0 51.0M48.7 36.9L52.5 30.6M40.4 36.3L38.4 32.7M52.8 39.9L56.4 38.1" stroke="rgb(180,144,144)" stroke-opacity="0.45" stroke-width="0.7"/>
<path d="M41.3 51.9L38.5 58.7M49.5 33.4L51.3 29.6M44.4 32.6L44.3 28.0M40.4 51.9L36.7 58.9M43.8 55.5L43.4 59.8M40.3 54.3L39.0 57.6" stroke="rgb(180,156,156)" stroke-opacity="0.45" stroke-width="0.7"/>
<path d="M39.7 42.4L33.9 40.8M47.1 48.5L48.8 51.6" stroke="rgb(120,84,72)" stroke-opacity="0.45" stroke-width="0.7"/>
<path d="M47.2 29.5L48.0 25.4M33.0 49.4L30.2 50.8" stroke="rgb(156,144,132)" stroke-opacity="0.45" stroke-width="0.7"/>
<path d="M49.6 44.7L54.1 45.5" stroke="rgb(156,108,96)" stroke-opacity="0.45" stroke-width="0.7"/>
<path d="M37.2 52.2L34.5 55.3M34.1 41.7L28.7 40.7M43.6 52.9L42.6 61.3M55.6 41.5L59.5 40.7" stroke="rgb(156,132,120)" stroke-opacity="0.45" stroke-width="0.7"/>
<path d="M50.2 16.7L51.3 11.1M30.6 48.1L23.5 50.2M41.1 56.3L39.8 60.6M51.7 28.3L53.9 23.7M34.4 51.4L27.4 56.7M71.7 43.1L79.5 43.0M59.9 44.1L63.4 44.1M32.9 50.9L29.8 52.8M32.4 38.3L29.4 37.0M58.3 39.5L62.9 38.1M32.0 33.7L27.7 30.3M50.1 56.4L51.6 59.8M29.8 35.1L25.3 32.4M59.8 66.5L63.2 71.6M55.5 53.2L59.8 56.9M41.9 30.1L40.6 23.7" stroke="rgb(192,180,180)" stroke-opacity="0.45" stroke-width="0.7"/>
<path d="M44.3 36.9L44.2 33.1M47.1 50.4L48.8 55.0M50.6 43.0L58.7 41.9" stroke="rgb(144,96,96)" stroke-opacity="0.45" stroke-width="0.7"/>
<path d="M50.6 38.0L53.3 35.4M49.5 48.0L54.1 51.9M42.9 35.2L42.3 32.3" stroke="rgb(132,96,96)" stroke-opacity="0.45" stroke-width="0.7"/>
<path d="M60.0 34.3L65.6 30.9M25.9 41.9L20.3 41.3M59.7 50.3L67.1 53.5M33.2 32.8L29.0 28.7M33.5 55.4L30.0 59.0M46.3 25.8L46.6 21.9M61.4 47.1L66.8 48.2M34.3 57.0L31.0 61.1M42.7 26.1L42.3 22.0M33.0 29.5L30.0 25.8M62.7 39.2L66.5 38.3M32.0 29.7L27.9 25.0M56.5 31.0L58.8 28.5M53.9 31.0L56.4 27.5M58.3 57.4L61.1 60.1M31.9 30.5L28.5 27.0M54.3 31.8L59.6 25.2M47.7 60.1L49.1 67.5M54.8 33.1L59.5 28.2M41.8 28.0L40.4 19.5" stroke="rgb(168,156,156)" stroke-opacity="0.45" stroke-width="0.7"/>
<path d="M49.8 49.9L53.4 54.1M43.3 49.4L41.4 57.7M40.2 42.9L37.3 42.4M45.0 52.1L45.2 56.1" stroke="rgb(144,108,96)" stroke-opacity="0.45" stroke-width="0.7"/>
<path d="M43.8 39.0L42.7 32.9M40.0 45.7L33.9 48.2M49.2 44.2L57.7 45.0M48.0 38.9L51.4 34.1M49.3 38.6L51.9 35.8" stroke="rgb(168,120,120)" stroke-opacity="0.45" stroke-width="0.7"/>
<path d="M47.7 34.3L50.2 26.4M56.8 41.4L60.7 40.7M57.1 44.2L60.5 44.3M33.4 50.5L29.6 52.7M50.3 52.9L54.6 60.0M45.7 55.7L46.6 64.3M57.8 37.7L61.4 36.1M40.3 55.0L38.4 59.9M56.4 42.0L61.5 41.3M37.1 54.5L33.2 60.0" stroke="rgb(192,168,168)" stroke-opacity="0.45" stroke-width="0.7"/>
<path d="M43.7 52.0L43.0 58.0" stroke="rgb(132,108,96)" stroke-opacity="0.45" stroke-width="0.7"/>
<path d="M34.9 40.6L29.5 38.8M54.1 42.1L57.7 41.5M54.3 46.1L58.0 47.0M46.7 34.9L48.2 28.6" stroke="rgb(180,156,144)" stroke-opacity="0.45" stroke-width="0.7"/>
<path d="M47.0 39.8L50.5 34.1M38.6 45.7L35.1 46.8M44.2 48.4L43.6 55.1M49.0 43.2L54.7 42.4" stroke="rgb(168,120,108)" stroke-opacity="0.45" stroke-width="0.7"/>
<path d="M16.8 27.6L14.2 26.1M62.9 18.1L64.6 15.7M69.8 26.6L73.2 24.3M23.0 69.1L21.8 70.5M69.9 22.9L71.7 21.4M25.9 73.8L26.0 73.6M69.7 62.7L72.7 65.0" stroke="rgb(180,180,168)" stroke-opacity="0.45" stroke-width="0.7"/>
<path d="M15.7 51.4L10.6 52.8M34.0 71.2L32.8 74.3M70.7 52.5L77.9 54.9M30.4 51.8L23.8 55.6M56.2 57.8L58.4 60.5M72.8 44.6L79.1 44.7M72.1 45.0L79.7 45.3M16.1 49.8L11.9 50.7" stroke="rgb(204,204,192)" stroke-opacity="0.45" stroke-width="0.7"/>
<path d="M60.2 32.1L62.6 30.4M28.5 43.7L20.3 43.6" stroke="rgb(156,156,156)" stroke-opacity="0.45" stroke-width="0.7"/>
<path d="M44.7 51.5L44.7 55.2M46.7 51.3L47.6 54.2M38.7 48.2L36.4 50.0" stroke="rgb(132,96,84)" stroke-opacity="0.45" stroke-width="0.7"/>
<path d="M45.3 39.6L45.9 36.0" stroke="rgb(144,108,84)" stroke-opacity="0.45" stroke-width="0.7"/>
<path d="M42.1 57.7L40.7 65.5M56.5 35.0L60.1 32.3" stroke="rgb(168,156,144)" stroke-opacity="0.45" stroke-width="0.7"/>
<path d="M27.4 14.6L26.8 13.5M76.2 52.6L78.4 53.3" stroke="rgb(180,192,180)" stroke-opacity="0.45" stroke-width="0.7"/>
<path d="M36.4 30.0L33.8 25.6M44.0 56.9L43.7 64.0" stroke="rgb(204,192,180)" stroke-opacity="0.45" stroke-width="0.7"/>
<path d="M37.4 49.6L33.3 53.0M49.5 34.7L51.0 31.8M53.1 40.4L57.7 38.5M36.2 45.1L27.8 46.5M34.1 46.1L29.9 47.1" stroke="rgb(144,120,108)" stroke-opacity="0.45" stroke-width="0.7"/>
<path d="M35.7 41.2L30.5 39.7" stroke="rgb(132,108,108)" stroke-opacity="0.45" stroke-width="0.7"/>
<path d="M44.0 50.7L43.6 54.1" stroke="rgb(180,132,120)" stroke-opacity="0.45" stroke-width="0.7"/>
<path d="M48.4 55.2L49.7 59.3M57.6 47.2L61.1 48.1M48.1 55.5L49.9 61.7M36.8 36.9L32.5 33.2M40.7 54.0L38.4 60.1M55.2 52.5L59.3 55.8M35.8 35.5L33.6 33.4M46.5 32.5L47.1 28.5M39.8 34.2L36.8 28.0M41.7 53.4L39.8 59.8" stroke="rgb(156,132,132)" stroke-opacity="0.45" stroke-width="0.7"/>
<path d="M53.1 38.2L55.8 36.5" stroke="rgb(192,156,156)" stroke-opacity="0.45" stroke-width="0.7"/>
<path d="M33.1 43.3L25.4 42.9M52.1 33.6L55.1 29.5" stroke="rgb(204,180,180)" stroke-opacity="0.45" stroke-width="0.7"/>
<path d="M48.6 48.1L51.2 50.8M46.8 38.0L47.8 35.3" stroke="rgb(156,108,108)" stroke-opacity="0.45" stroke-width="0.7"/>
<path d="M54.8 36.0L61.0 31.3M30.9 46.5L26.7 47.3M54.6 52.6L58.4 55.9" stroke="rgb(168,144,144)" stroke-opacity="0.45" stroke-width="0.7"/>
<path d="M40.8 48.1L37.0 52.5" stroke="rgb(144,96,84)" stroke-opacity="0.45" stroke-width="0.7"/>
<path d="M50.9 56.2L53.1 60.3M35.6 34.1L33.3 31.5" stroke="rgb(144,132,132)" stroke-opacity="0.45" stroke-width="0.7"/>
<path d="M47.8 47.8L49.8 50.2M46.7 48.7L47.9 51.4" stroke="rgb(132,84,72)" stroke-opacity="0.45" stroke-width="0.7"/>
<path d="M45.4 60.5L45.7 67.7M33.1 29.9L29.3 25.3M28.0 55.2L25.0 57.3" stroke="rgb(168,168,156)" stroke-opacity="0.45" stroke-width="0.7"/>
<path d="M51.6 49.0L55.0 51.5M37.3 42.6L32.3 41.8M44.4 36.7L44.3 31.6" stroke="rgb(180,144,132)" stroke-opacity="0.45" stroke-width="0.7"/>
<path d="M54.8 44.2L63.2 44.5M34.1 45.4L26.1 46.6" stroke="rgb(144,132,120)" stroke-opacity="0.45" stroke-width="0.7"/>
<path d="M47.8 14.1L48.4 8.9" stroke="rgb(192,204,192)" stroke-opacity="0.45" stroke-width="0.7"/>
<path d="M53.5 43.4L61.5 43.0" stroke="rgb(192,168,156)" stroke-opacity="0.45" stroke-width="0.7"/>
<path d="M48.9 44.1L56.0 44.6M49.9 45.2L53.6 46.1" stroke="rgb(120,72,72)" stroke-opacity="0.45" stroke-width="0.7"/>
<path d="M31.2 72.3h.1M17.1 57.7h.1M18.6 32.0h.1M76.4 38.6h.1M73.6 55.3h.1M25.8 33.4h.1M44.4 69.2h.1M21.7 37.7h.1M10.8 40.6h.1M64.5 66.9h.1M74.3 46.0h.1M17.7 27.1h.1M54.9 16.8h.1M61.7 64.2h.1M10.4 47.8h.1M68.5 33.9h.1M73.6 37.0h.1M75.1 41.5h.1M76.9 55.7h.1M32.8 61.4h.1M40.8 68.9h.1M31.1 23.8h.1M55.4 67.5h.1M71.5 24.5h.1M75.8 32.5h.1M52.7 75.3h.1M35.4 64.0h.1M43.6 77.1h.1M51.3 12.7h.1M17.3 51.6h.1M65.4 17.3h.1M65.3 49.6h.1M17.8 55.2h.1M29.5 16.2h.1M54.4 73.7h.1M26.9 63.7h.1M36.3 14.0h.1M66.1 58.1h.1M11.5 38.3h.1M23.9 46.3h.1M19.2 26.4h.1M41.7 14.3h.1M28.1 73.1h.1M11.1 46.2h.1M56.0 17.2h.1M53.3 70.2h.1M26.5 55.1h.1M55.5 61.6h.1M43.6 10.9h.1M55.1 23.2h.1M52.5 10.7h.1M46.6 75.7h.1M24.2 56.6h.1M68.0 48.7h.1M19.4 22.9h.1M61.2 70.7h.1M41.3 9.6h.1M68.9 44.9h.1M24.3 16.3h.1M50.4 10.2h.1M22.4 43.8h.1M64.9 33.8h.1M45.3 15.3h.1M36.8 11.9h.1M70.7 56.5h.1M46.7 20.2h.1M74.1 27.5h.1M39.0 12.1h.1M53.8 12.0h.1M64.7 16.1h.1M56.3 75.2h.1M13.0 57.1h.1M75.1 32.8h.1M17.2 30.9h.1M37.5 10.1h.1M18.3 51.1h.1M25.2 15.6h.1M76.3 42.7h.1M28.6 64.0h.1M58.3 67.4h.1M21.1 28.7h.1M40.4 72.3h.1M44.3 74.6h.1M47.2 11.3h.1M72.7 25.9h.1" stroke="rgb(210,210,210)" stroke-opacity="0.5" stroke-width="1.1" stroke-linecap="round"/>
<path d="M62.0 15.5h.1M11.9 53.7h.1" stroke="rgb(195,210,195)" stroke-opacity="0.5" stroke-width="1.1" stroke-linecap="round"/>
<path d="M36.8 40.3h.1M48.8 51.5h.1M51.3 38.2h.1M37.7 37.4h.1M54.7 44.7h.1" stroke="rgb(180,135,135)" stroke-opacity="0.5" stroke-width="1.1" stroke-linecap="round"/>
<path d="M16.2 63.6h.1M11.8 52.3h.1M61.1 32.3h.1M13.4 32.3h.1M67.3 65.7h.1M26.1 51.4h.1M65.6 41.2h.1M32.8 76.2h.1M55.0 58.8h.1" stroke="rgb(150,150,150)" stroke-opacity="0.5" stroke-width="1.1" stroke-linecap="round"/>
<path d="M20.0 43.9h.1M23.3 30.6h.1M55.1 63.2h.1M47.7 21.9h.1M25.7 43.6h.1M21.3 47.0h.1M36.2 60.5h.1M68.2 31.7h.1M50.0 61.1h.1M41.5 21.6h.1M61.3 55.7h.1M68.9 46.3h.1M56.5 60.4h.1M20.9 31.4h.1M25.4 34.9h.1M63.5 57.9h.1M57.4 31.9h.1M29.4 53.1h.1M43.0 63.5h.1M46.6 22.2h.1" stroke="rgb(165,150,150)" stroke-opacity="0.5" stroke-width="1.1" stroke-linecap="round"/>
<path d="M25.7 24.5h.1M33.8 15.9h.1M53.5 16.6h.1M38.9 18.5h.1M43.8 72.4h.1M19.8 23.0h.1M35.1 67.3h.1M24.3 45.9h.1M68.3 41.8h.1M48.0 17.9h.1M46.9 74.6h.1M39.4 15.4h.1M23.4 22.2h.1M62.1 70.2h.1M22.2 59.9h.1M63.5 28.4h.1M70.8 36.5h.1M64.6 20.6h.1M78.1 50.8h.1M72.0 46.5h.1M14.8 43.7h.1M75.2 35.4h.1M24.8 69.3h.1M16.6 28.4h.1M15.8 30.0h.1M22.7 55.8h.1M29.7 73.3h.1M26.0 15.8h.1M70.5 41.8h.1M32.4 66.0h.1M45.9 69.4h.1M70.1 63.2h.1M44.6 14.1h.1M71.1 31.3h.1M25.2 28.2h.1M48.6 70.2h.1M20.6 21.9h.1M19.2 57.6h.1M43.8 17.6h.1M73.6 50.9h.1M72.0 58.3h.1M73.4 62.0h.1M73.9 41.9h.1M39.7 71.9h.1M24.3 38.3h.1M41.9 76.4h.1M20.6 45.7h.1" stroke="rgb(165,165,165)" stroke-opacity="0.5" stroke-width="1.1" stroke-linecap="round"/>
<path d="M30.8 48.9h.1M49.8 56.4h.1M57.0 37.7h.1M54.5 34.5h.1M58.1 48.8h.1M44.9 30.3h.1M35.2 36.7h.1M56.2 34.9h.1M30.9 41.3h.1M47.4 31.9h.1M40.7 55.1h.1" stroke="rgb(195,165,165)" stroke-opacity="0.5" stroke-width="1.1" stroke-linecap="round"/>
<path d="M36.7 46.9h.1M50.3 42.2h.1M41.7 49.7h.1M45.9 37.1h.1M44.3 52.4h.1" stroke="rgb(135,90,75)" stroke-opacity="0.5" stroke-width="1.1" stroke-linecap="round"/>
<path d="M65.7 48.1h.1M25.1 48.7h.1M42.9 22.4h.1M63.0 67.0h.1M42.7 68.5h.1M66.3 50.2h.1M68.4 45.8h.1M30.3 22.1h.1M64.4 62.9h.1M31.6 69.7h.1M62.8 19.9h.1M16.6 39.8h.1M24.3 24.1h.1M67.5 32.2h.1M70.2 32.2h.1M71.4 33.5h.1M36.5 63.8h.1M68.8 39.9h.1M45.1 15.3h.1M15.8 31.0h.1M56.8 25.1h.1M24.6 33.8h.1M60.5 29.7h.1M50.9 67.9h.1M59.7 62.5h.1M61.7 60.3h.1M64.7 59.4h.1M67.3 23.9h.1" stroke="rgb(225,210,210)" stroke-opacity="0.5" stroke-width="1.1" stroke-linecap="round"/>
<path d="M42.3 34.6h.1M44.8 35.2h.1M35.8 47.7h.1M49.5 35.5h.1" stroke="rgb(165,135,120)" stroke-opacity="0.5" stroke-width="1.1" stroke-linecap="round"/>
<path d="M40.4 58.0h.1M56.5 34.0h.1M44.2 28.9h.1M37.5 55.9h.1M48.2 28.9h.1M55.4 32.5h.1" stroke="rgb(210,180,180)" stroke-opacity="0.5" stroke-width="1.1" stroke-linecap="round"/>
<path d="M18.7 32.6h.1M30.0 24.4h.1M62.1 29.1h.1M38.1 69.0h.1M31.2 15.5h.1M26.2 23.1h.1M71.1 41.7h.1M14.5 38.3h.1M14.1 48.2h.1M30.5 19.8h.1M73.3 40.6h.1M25.8 61.5h.1M25.4 27.3h.1M42.0 70.9h.1M21.7 40.1h.1M19.3 44.3h.1M54.1 16.1h.1M33.2 21.9h.1M43.3 72.0h.1M75.4 39.9h.1M69.6 26.6h.1M16.2 52.0h.1M47.3 70.2h.1M63.0 68.5h.1M64.4 66.3h.1M44.4 75.0h.1M16.5 45.0h.1M73.5 55.6h.1M21.3 61.8h.1M47.7 69.0h.1M60.7 61.8h.1M26.5 25.1h.1M27.7 71.1h.1M27.1 23.6h.1M25.2 57.9h.1M74.2 48.3h.1M72.9 40.8h.1M51.0 69.4h.1M44.1 73.0h.1M46.7 74.2h.1M24.2 18.8h.1M40.1 18.1h.1" stroke="rgb(225,225,225)" stroke-opacity="0.5" stroke-width="1.1" stroke-linecap="round"/>
<path d="M27.6 24.9h.1M57.3 38.4h.1M27.7 63.6h.1M66.2 46.2h.1M43.4 70.9h.1M59.0 63.3h.1M32.6 62.2h.1M34.1 65.1h.1M64.3 23.4h.1M59.2 19.5h.1M69.0 60.1h.1" stroke="rgb(180,165,165)" stroke-opacity="0.5" stroke-width="1.1" stroke-linecap="round"/>
<path d="M28.3 50.1h.1M53.4 29.4h.1M42.0 30.1h.1M58.6 36.6h.1M50.8 56.5h.1M62.1 41.9h.1M45.6 29.6h.1M52.5 58.0h.1M29.5 40.0h.1M31.8 35.7h.1M38.9 58.4h.1M58.3 35.0h.1M53.4 29.9h.1M60.7 43.9h.1M30.2 41.0h.1" stroke="rgb(195,180,180)" stroke-opacity="0.5" stroke-width="1.1" stroke-linecap="round"/>
<path d="M32.5 56.3h.1M31.1 53.7h.1M64.0 43.1h.1M29.0 51.1h.1M60.9 40.4h.1M58.2 52.6h.1M40.0 28.4h.1M60.5 36.4h.1" stroke="rgb(150,135,135)" stroke-opacity="0.5" stroke-width="1.1" stroke-linecap="round"/>
<path d="M56.7 54.5h.1M56.6 60.6h.1M24.7 47.8h.1M46.2 24.3h.1M38.8 24.2h.1M53.6 61.6h.1M44.5 23.6h.1M47.5 64.5h.1M49.6 60.3h.1M27.0 32.7h.1M29.3 34.0h.1M62.9 52.5h.1M44.0 63.6h.1M31.6 56.0h.1M55.9 60.6h.1M38.5 61.6h.1M54.6 58.1h.1M62.6 47.3h.1M27.2 44.6h.1M49.2 63.7h.1M39.0 26.1h.1M58.8 29.8h.1M38.0 61.9h.1M23.2 40.8h.1M54.4 59.7h.1M35.6 63.0h.1M56.6 62.7h.1M26.3 39.6h.1M63.1 47.7h.1M33.2 28.6h.1M32.9 31.5h.1M45.2 27.7h.1M32.1 54.8h.1M59.9 35.0h.1" stroke="rgb(210,195,195)" stroke-opacity="0.5" stroke-width="1.1" stroke-linecap="round"/>
<path d="M37.7 38.5h.1M48.7 37.1h.1M48.4 36.1h.1" stroke="rgb(120,90,75)" stroke-opacity="0.5" stroke-width="1.1" stroke-linecap="round"/>
<path d="M28.5 31.6h.1M47.1 26.4h.1M63.4 51.9h.1" stroke="rgb(150,150,135)" stroke-opacity="0.5" stroke-width="1.1" stroke-linecap="round"/>
<path d="M51.7 43.3h.1M50.0 48.3h.1M36.9 41.9h.1M40.6 49.1h.1" stroke="rgb(165,120,105)" stroke-opacity="0.5" stroke-width="1.1" stroke-linecap="round"/>
<path d="M32.6 11.9h.1" stroke="rgb(210,210,195)" stroke-opacity="0.5" stroke-width="1.1" stroke-linecap="round"/>
<path d="M45.6 75.8h.1" stroke="rgb(225,225,210)" stroke-opacity="0.5" stroke-width="1.1" stroke-linecap="round"/>
<path d="M75.8 43.1h.1" stroke="rgb(180,180,165)" stroke-opacity="0.5" stroke-width="1.1" stroke-linecap="round"/>
<path d="M48.6 39.6h.1" stroke="rgb(195,150,135)" stroke-opacity="0.5" stroke-width="1.1" stroke-linecap="round"/>
<path d="M48.9 34.2h.1M47.7 33.8h.1M41.2 35.0h.1M43.4 37.4h.1M39.9 36.0h.1M37.0 36.3h.1M35.4 47.1h.1M36.4 40.8h.1" stroke="rgb(180,150,135)" stroke-opacity="0.5" stroke-width="1.1" stroke-linecap="round"/>
<path d="M53.1 18.0h.1M48.4 13.6h.1M14.3 37.1h.1M46.3 69.3h.1M48.3 72.4h.1M55.1 21.1h.1M19.3 27.3h.1M61.9 20.9h.1M29.0 25.1h.1M29.1 64.4h.1M71.5 40.2h.1" stroke="rgb(180,180,180)" stroke-opacity="0.5" stroke-width="1.1" stroke-linecap="round"/>
<path d="M46.1 30.0h.1M40.4 56.7h.1M56.9 41.8h.1M44.5 58.1h.1M33.4 38.5h.1M38.9 57.7h.1M32.3 47.8h.1" stroke="rgb(150,120,120)" stroke-opacity="0.5" stroke-width="1.1" stroke-linecap="round"/>
<path d="M32.0 32.2h.1M37.8 61.1h.1" stroke="rgb(195,195,180)" stroke-opacity="0.5" stroke-width="1.1" stroke-linecap="round"/>
<path d="M39.9 37.5h.1M46.9 37.6h.1M36.4 46.3h.1M38.4 39.7h.1M37.2 39.8h.1M46.0 50.0h.1M41.3 36.7h.1" stroke="rgb(180,135,120)" stroke-opacity="0.5" stroke-width="1.1" stroke-linecap="round"/>
<path d="M52.4 44.8h.1M38.2 49.7h.1M46.1 51.8h.1" stroke="rgb(165,120,120)" stroke-opacity="0.5" stroke-width="1.1" stroke-linecap="round"/>
<path d="M25.1 43.5h.1M52.8 60.5h.1M60.3 13.2h.1M16.0 61.4h.1M53.5 10.4h.1M11.3 37.1h.1M15.1 58.5h.1M21.9 18.4h.1M63.4 52.1h.1M31.6 56.9h.1M28.4 73.6h.1M46.6 10.0h.1" stroke="rgb(195,195,195)" stroke-opacity="0.5" stroke-width="1.1" stroke-linecap="round"/>
<path d="M38.5 30.2h.1M36.7 55.6h.1" stroke="rgb(150,135,120)" stroke-opacity="0.5" stroke-width="1.1" stroke-linecap="round"/>
<path d="M51.7 38.2h.1M38.1 39.2h.1" stroke="rgb(120,75,75)" stroke-opacity="0.5" stroke-width="1.1" stroke-linecap="round"/>
<path d="M31.7 44.8h.1M33.1 51.4h.1M32.1 46.4h.1" stroke="rgb(135,120,105)" stroke-opacity="0.5" stroke-width="1.1" stroke-linecap="round"/>
<path d="M45.5 49.0h.1M35.6 50.7h.1M51.9 52.5h.1" stroke="rgb(195,165,150)" stroke-opacity="0.5" stroke-width="1.1" stroke-linecap="round"/>
<path d="M55.8 75.9h.1M22.9 19.2h.1" stroke="rgb(150,165,150)" stroke-opacity="0.5" stroke-width="1.1" stroke-linecap="round"/>
<path d="M51.2 30.2h.1M38.6 31.0h.1M36.9 57.2h.1" stroke="rgb(195,180,165)" stroke-opacity="0.5" stroke-width="1.1" stroke-linecap="round"/>
<path d="M30.3 51.3h.1M31.7 52.8h.1" stroke="rgb(210,195,180)" stroke-opacity="0.5" stroke-width="1.1" stroke-linecap="round"/>
<path d="M36.5 49.8h.1M35.7 42.0h.1M55.4 45.3h.1" stroke="rgb(135,90,90)" stroke-opacity="0.5" stroke-width="1.1" stroke-linecap="round"/>
<path d="M44.8 32.5h.1M53.3 51.2h.1M53.5 49.4h.1M56.3 42.5h.1" stroke="rgb(180,150,150)" stroke-opacity="0.5" stroke-width="1.1" stroke-linecap="round"/>
<path d="M50.0 46.2h.1" stroke="rgb(195,165,135)" stroke-opacity="0.5" stroke-width="1.1" stroke-linecap="round"/>
<path d="M53.5 75.8h.1M49.3 75.0h.1" stroke="rgb(165,165,150)" stroke-opacity="0.5" stroke-width="1.1" stroke-linecap="round"/>
<path d="M30.8 48.6h.1M59.7 42.8h.1" stroke="rgb(135,120,120)" stroke-opacity="0.5" stroke-width="1.1" stroke-linecap="round"/>
<path d="M32.8 37.5h.1" stroke="rgb(180,165,150)" stroke-opacity="0.5" stroke-width="1.1" stroke-linecap="round"/>
<path d="M31.6 13.1h.1" stroke="rgb(210,225,210)" stroke-opacity="0.5" stroke-width="1.1" stroke-linecap="round"/>
<path d="M38.1 34.6h.1M34.2 39.6h.1M52.6 50.8h.1" stroke="rgb(195,150,150)" stroke-opacity="0.5" stroke-width="1.1" stroke-linecap="round"/>
<path d="M39.8 41.4h.1" stroke="rgb(150,120,90)" stroke-opacity="0.5" stroke-width="1.1" stroke-linecap="round"/>
<path d="M46.0 36.1h.1M47.5 36.8h.1M39.0 49.0h.1M48.5 38.6h.1" stroke="rgb(120,75,60)" stroke-opacity="0.5" stroke-width="1.1" stroke-linecap="round"/>
<path d="M53.2 37.4h.1" stroke="rgb(135,105,90)" stroke-opacity="0.5" stroke-width="1.1" stroke-linecap="round"/>
<path d="M34.7 56.7h.1" stroke="rgb(165,150,135)" stroke-opacity="0.5" stroke-width="1.1" stroke-linecap="round"/>
<path d="M45.3 53.7h.1M36.7 50.3h.1" stroke="rgb(135,105,105)" stroke-opacity="0.5" stroke-width="1.1" stroke-linecap="round"/>
<path d="M47.7 39.6h.1" stroke="rgb(210,180,150)" stroke-opacity="0.5" stroke-width="1.1" stroke-linecap="round"/>
<path d="M34.8 38.1h.1" stroke="rgb(150,120,105)" stroke-opacity="0.5" stroke-width="1.1" stroke-linecap="round"/>
</g>
</svg>
<svg x="172" y="455" width="88.0" height="88.6" overflow="hidden">
<rect width="100%" height="100%" fill="rgb(25,133,200)"/>
<g filter="url(#soft)">
<radialGradient id="ag1" gradientUnits="userSpaceOnUse" cx="44.0" cy="44.8" r="42.3"><stop offset="0" stop-color="rgb(99,140,132)"/><stop offset="0.709" stop-color="rgb(96,137,130)"/><stop offset="0.811" stop-color="rgb(90,133,125)"/><stop offset="0.877" stop-color="rgb(81,119,112)"/><stop offset="1" stop-color="rgb(81,119,112)"/></radialGradient>
<linearGradient id="rg1" gradientUnits="userSpaceOnUse" x1="22.9" y1="2.5" x2="65.2" y2="87.1"><stop offset="0" stop-color="rgb(60,125,150)"/><stop offset="0.45" stop-color="rgb(95,140,160)"/><stop offset="0.75" stop-color="rgb(160,168,188)"/><stop offset="1" stop-color="rgb(185,188,205)"/></linearGradient>
<linearGradient id="lg1" gradientUnits="userSpaceOnUse" x1="22.9" y1="2.5" x2="65.2" y2="87.1"><stop offset="0" stop-color="rgb(100,145,158)"/><stop offset="0.5" stop-color="rgb(150,175,175)"/><stop offset="1" stop-color="rgb(215,222,215)"/></linearGradient>
<circle cx="44.0" cy="44.8" r="42.3" fill="url(#ag1)"/>
<circle cx="44.0" cy="44.8" r="40.00" fill="none" stroke="url(#rg1)" stroke-width="4.2"/>
<circle cx="44.0" cy="44.8" r="37.70" fill="none" stroke="url(#lg1)" stroke-width="1.4"/>
<circle cx="44.0" cy="44.8" r="41.95" fill="none" stroke="rgb(110,118,155)" stroke-width="0.8"/>
<radialGradient id="cg1" gradientUnits="userSpaceOnUse" cx="44.0" cy="44.8" r="28.62"><stop offset="0.000" stop-color="rgb(212,176,190)"/><stop offset="0.132" stop-color="rgb(205,165,182)"/><stop offset="0.226" stop-color="rgb(172,112,132)"/><stop offset="0.425" stop-color="rgb(178,130,142)"/><stop offset="0.613" stop-color="rgb(188,160,158)"/><stop offset="0.802" stop-color="rgb(195,182,175)"/><stop offset="1" stop-color="rgb(195,182,175)" stop-opacity="0"/></radialGradient>
<circle cx="44.0" cy="44.8" r="28.62" fill="url(#cg1)"/>
<path d="M47.6 48.1L50.4 50.7M40.7 41.0L38.0 37.9M42.0 48.9L39.9 53.2M51.2 44.0L55.7 43.5M38.5 44.5L34.0 44.2M46.9 48.2L49.5 51.3" stroke="rgb(192,132,144)" stroke-opacity="0.45" stroke-width="0.7"/>
<path d="M41.6 48.7L39.2 52.5M50.6 40.1L53.5 38.0M49.9 40.7L54.6 37.4M38.0 49.6L33.6 53.2M49.1 49.6L51.6 52.1M43.5 39.5L43.2 36.4M48.3 39.7L51.8 35.6M40.6 40.3L38.0 37.0M45.0 48.8L46.5 54.2M46.7 38.4L48.4 34.1" stroke="rgb(192,132,156)" stroke-opacity="0.45" stroke-width="0.7"/>
<path d="M21.9 35.6L19.3 34.5M52.5 20.5L52.8 19.6M49.8 68.9L50.3 70.8M45.7 67.9L45.9 70.7M36.7 19.6L36.5 19.1M31.4 66.7L30.7 68.0M29.9 30.9L27.5 28.5M59.3 24.4L60.0 23.4M63.2 53.6L68.3 56.0M50.5 65.8L52.0 70.3M51.8 26.6L54.4 20.5M41.0 21.6L40.5 18.3M41.1 23.8L40.3 18.3M48.8 21.4L49.4 18.6M27.5 26.7L26.0 25.1M68.5 44.5L70.7 44.4M43.3 22.5L43.2 19.4M39.2 18.3L39.3 18.5M19.2 39.7L17.8 39.5M32.7 64.6L31.3 67.1M51.4 64.5L53.4 69.8M29.1 32.6L24.0 28.4M62.1 60.5L64.2 62.3M37.4 27.4L36.2 24.2M24.6 30.6L22.6 29.1M21.8 50.0L18.0 50.9M29.2 60.7L25.8 64.3M24.0 62.6L24.0 62.6M61.0 59.0L63.2 60.7M42.7 66.4L42.4 71.5M53.4 61.5L55.5 65.1M42.0 63.9L41.7 67.0M69.1 43.3L70.7 43.2M64.5 59.5L65.7 60.4M27.4 54.1L24.8 55.6M57.9 25.4L59.6 23.1M54.5 60.0L57.6 64.5M59.3 25.2L60.4 23.7M17.5 48.3L17.5 48.3M43.7 19.3L43.7 18.1M29.1 31.1L24.6 27.0M21.4 57.7L20.8 58.1M43.3 21.8L43.1 18.5M58.3 28.2L61.4 24.5M55.5 66.5L56.5 68.4M22.8 30.5L21.8 29.8M21.3 43.9L17.3 43.8M28.8 57.0L26.4 59.0M41.6 66.6L41.1 70.9M60.6 61.3L62.2 62.9M63.9 34.2L67.6 32.2M66.9 48.7L70.4 49.3M66.6 39.9L70.1 39.1" stroke="rgb(204,192,180)" stroke-opacity="0.45" stroke-width="0.7"/>
<path d="M58.7 39.4L61.8 38.2M30.1 52.4L24.8 55.3M57.5 57.0L60.1 59.4M50.5 31.9L52.4 28.2M58.7 49.5L61.4 50.4M26.3 49.8L23.0 50.8M59.5 39.1L61.8 38.2M46.1 28.2L46.9 21.9M58.3 50.0L64.2 52.1M47.8 62.6L48.3 64.9M29.2 37.3L25.6 35.5M30.0 57.9L28.4 59.4M30.0 38.1L24.6 35.4M37.2 31.4L35.3 27.5M53.8 55.8L57.1 59.5M53.4 35.8L57.5 31.9" stroke="rgb(168,144,144)" stroke-opacity="0.45" stroke-width="0.7"/>
<path d="M41.7 50.0L40.0 53.9M37.1 47.7L34.5 48.7M37.4 43.8L32.8 43.1" stroke="rgb(204,144,156)" stroke-opacity="0.45" stroke-width="0.7"/>
<path d="M24.0 49.8L21.6 50.4M57.4 32.9L61.2 29.5M57.9 31.8L60.2 29.7M26.2 49.4L19.6 51.1M31.1 60.1L29.1 62.4M35.2 59.2L32.8 63.2M45.2 28.0L45.6 21.7M56.4 56.7L60.4 60.5M49.8 64.5L50.6 67.1M34.9 60.1L32.4 64.2M46.4 26.1L47.2 20.0M33.6 29.1L32.3 27.2M60.9 37.0L65.6 34.9" stroke="rgb(216,192,192)" stroke-opacity="0.45" stroke-width="0.7"/>
<path d="M52.1 50.5L56.8 53.9M51.2 53.0L54.9 57.2M45.2 54.3L45.9 59.6M47.8 54.9L49.3 59.1M45.2 56.3L45.7 60.2M46.1 35.8L47.5 29.7M41.7 55.7L40.8 60.4M33.2 42.6L29.6 41.9M48.2 38.7L51.6 33.7M52.8 41.5L58.3 39.5" stroke="rgb(168,120,132)" stroke-opacity="0.45" stroke-width="0.7"/>
<path d="M58.6 43.3L61.6 43.0M51.0 33.5L52.9 30.6M37.7 56.9L36.1 60.1M48.8 31.9L50.0 28.7M32.7 38.0L30.0 36.3M30.9 51.1L28.7 52.1M52.2 53.7L56.5 58.4M60.1 41.8L62.3 41.4M49.7 32.9L51.1 30.0M34.1 32.5L31.5 29.3M31.4 45.5L26.3 45.7" stroke="rgb(168,132,132)" stroke-opacity="0.45" stroke-width="0.7"/>
<path d="M53.3 21.9L54.1 20.0M62.9 62.7L63.4 63.2M32.2 68.3L32.0 68.7M38.1 23.2L37.0 19.0M56.2 60.4L59.5 64.7M32.3 64.3L30.3 67.5M34.9 67.0L33.9 69.6M21.5 49.8L17.9 50.6M32.2 61.1L29.5 64.8M64.7 33.7L67.6 32.2M52.5 22.4L53.4 19.8M69.2 47.5L70.6 47.6M23.7 58.4L21.8 59.6M23.2 57.6L21.2 58.8M38.0 70.4L37.9 70.8M23.2 52.2L18.8 53.8" stroke="rgb(180,168,168)" stroke-opacity="0.45" stroke-width="0.7"/>
<path d="M45.5 59.8L46.0 64.7M57.2 50.2L60.6 51.6M35.9 55.4L33.6 58.4M42.4 33.2L41.7 28.2M51.3 54.2L55.0 59.0M39.0 34.6L36.1 28.8M55.6 36.3L60.8 32.4M57.7 37.9L61.2 36.1M47.2 58.4L48.1 62.1M57.0 45.2L61.2 45.3M55.4 49.2L61.2 51.4M54.6 36.1L59.2 32.3M54.5 54.4L57.8 57.4M41.1 32.9L40.0 28.5M58.0 46.7L61.6 47.2M31.1 46.4L24.6 47.2" stroke="rgb(204,168,168)" stroke-opacity="0.45" stroke-width="0.7"/>
<path d="M32.4 28.7L31.1 26.9M25.1 53.4L22.1 54.7M61.3 34.8L65.6 32.3M48.9 63.3L49.6 66.2M65.2 43.0L67.5 42.8" stroke="rgb(216,204,192)" stroke-opacity="0.45" stroke-width="0.7"/>
<path d="M51.3 48.9L53.3 50.1M36.3 41.2L33.7 39.9M45.9 41.3L47.5 38.4M50.0 50.6L52.5 53.1M37.3 40.8L32.9 38.1" stroke="rgb(204,144,168)" stroke-opacity="0.45" stroke-width="0.7"/>
<path d="M49.6 35.9L51.5 32.9M53.0 42.3L58.7 40.7M45.4 53.0L46.0 56.4M36.3 45.2L29.9 45.5M33.5 46.4L31.0 46.7M49.6 47.2L55.3 49.6M43.0 39.0L42.2 34.8M36.2 46.2L31.4 47.1M42.6 51.1L41.2 57.3M37.1 51.5L32.6 56.0M49.1 45.6L54.8 46.6M49.0 36.8L50.5 34.3M51.2 41.4L57.1 38.6M40.0 39.0L36.8 34.5M44.6 51.4L45.1 57.7M49.9 53.5L52.0 56.5M36.7 40.3L33.8 38.5M37.4 51.9L34.4 55.1M41.5 52.4L39.4 58.7M35.3 43.7L32.9 43.4M42.2 35.1L41.4 30.8M48.8 39.2L51.0 36.7M41.2 37.9L40.2 35.5M37.0 51.1L33.2 54.5" stroke="rgb(156,108,120)" stroke-opacity="0.45" stroke-width="0.7"/>
<path d="M28.2 56.0L26.4 57.3M52.5 59.7L54.6 63.4M59.8 38.8L63.4 37.5M28.2 49.1L25.7 49.7M60.9 40.0L64.3 39.1M28.4 52.9L25.5 54.4M43.5 62.5L43.4 67.3M56.9 32.9L59.6 30.4M61.2 45.3L64.0 45.3M40.0 60.4L39.2 63.5M30.3 36.7L25.5 33.9M60.2 41.1L66.7 39.6M55.5 54.9L58.9 57.9M46.7 58.9L47.5 63.0M28.7 44.7L26.4 44.7M30.1 51.1L28.1 52.0" stroke="rgb(204,180,180)" stroke-opacity="0.45" stroke-width="0.7"/>
<path d="M28.8 47.0L22.3 47.9M59.1 38.0L61.7 36.8M27.8 42.8L24.3 42.3M57.5 47.7L63.7 49.1M30.6 49.6L25.3 51.5" stroke="rgb(216,180,180)" stroke-opacity="0.45" stroke-width="0.7"/>
<path d="M58.1 44.8L61.3 44.8M48.4 34.4L49.7 31.4M42.8 56.7L42.4 60.5M40.0 33.5L38.2 28.4" stroke="rgb(192,156,168)" stroke-opacity="0.45" stroke-width="0.7"/>
<path d="M49.7 56.5L52.1 61.4" stroke="rgb(204,168,180)" stroke-opacity="0.45" stroke-width="0.7"/>
<path d="M27.9 47.3L24.1 48.0M59.9 46.3L65.3 46.8M57.8 36.1L62.6 33.0M30.6 53.5L27.7 55.4M35.5 56.8L32.6 61.0M52.1 57.5L55.5 62.8" stroke="rgb(204,180,168)" stroke-opacity="0.45" stroke-width="0.7"/>
<path d="M42.7 39.5L41.7 35.4M42.8 49.8L42.0 52.9" stroke="rgb(144,84,108)" stroke-opacity="0.45" stroke-width="0.7"/>
<path d="M48.0 42.0L52.7 38.8M48.4 46.9L53.4 49.3M37.5 47.9L35.4 48.9" stroke="rgb(144,96,108)" stroke-opacity="0.45" stroke-width="0.7"/>
<path d="M28.2 44.8L22.9 44.9M53.3 58.7L55.1 61.3" stroke="rgb(216,192,180)" stroke-opacity="0.45" stroke-width="0.7"/>
<path d="M51.6 43.0L54.0 42.4M42.6 36.4L42.1 33.0M33.6 43.3L27.9 42.5M46.0 50.6L47.4 54.8M52.7 44.8L56.5 44.8M37.2 36.6L34.5 33.3M34.2 49.0L29.6 50.9M50.8 36.2L53.3 33.1M32.6 48.6L30.4 49.3M33.5 46.8L31.1 47.3M52.0 46.3L54.7 46.7M48.0 36.8L49.2 34.5M34.6 49.7L30.6 51.8M37.0 48.2L31.9 50.8M52.6 45.6L56.3 46.0M49.6 37.7L52.6 33.9M38.0 40.5L34.0 37.6M51.9 44.7L56.5 44.7M43.5 34.0L43.4 31.2M49.2 38.7L53.3 33.9M44.8 50.2L45.7 56.5M45.4 53.1L46.4 59.5M46.6 53.8L48.2 59.5M44.0 55.2L44.0 59.4M35.6 43.0L31.6 42.2M36.0 48.2L30.0 50.8M46.9 49.4L50.4 55.0" stroke="rgb(192,144,156)" stroke-opacity="0.45" stroke-width="0.7"/>
<path d="M52.2 62.7L53.6 65.7M25.1 48.2L19.4 49.2M60.2 34.5L64.0 32.0M51.3 28.8L53.0 25.2M61.0 36.5L66.5 33.8M39.1 61.6L37.4 67.5M31.7 32.6L28.0 28.8M28.0 35.1L25.1 33.4M52.6 61.4L54.2 64.6" stroke="rgb(180,156,156)" stroke-opacity="0.45" stroke-width="0.7"/>
<path d="M32.6 62.8L29.7 67.4M63.2 61.5L64.1 62.4M57.3 23.4L58.1 22.1M20.1 36.9L18.6 36.4M61.3 31.0L64.9 28.1M26.2 27.6L24.8 26.2M58.0 25.8L59.9 23.3M21.0 40.0L17.8 39.3M26.5 64.0L26.0 64.6M66.8 35.5L68.8 34.7" stroke="rgb(192,168,168)" stroke-opacity="0.45" stroke-width="0.7"/>
<path d="M47.4 57.3L49.2 63.6M56.9 49.7L59.2 50.6" stroke="rgb(168,132,144)" stroke-opacity="0.45" stroke-width="0.7"/>
<path d="M40.8 32.9L39.7 28.7" stroke="rgb(192,156,156)" stroke-opacity="0.45" stroke-width="0.7"/>
<path d="M51.4 26.5L53.4 21.7M47.8 24.7L48.5 21.2M50.6 64.1L51.8 67.7M24.4 38.3L21.9 37.5M24.1 52.7L21.7 53.7M60.3 56.6L64.2 59.4" stroke="rgb(180,168,156)" stroke-opacity="0.45" stroke-width="0.7"/>
<path d="M46.5 48.9L48.7 52.5M39.5 46.7L34.1 48.9M48.7 40.3L53.4 35.8M45.5 40.2L47.3 34.6M45.6 49.2L47.7 54.6M46.6 48.3L50.1 52.9M51.0 41.7L53.5 40.5M38.0 44.5L32.0 44.2M49.3 44.0L52.7 43.4M48.2 45.9L52.7 47.0M46.7 40.8L48.2 38.6M48.3 44.2L53.6 43.4M43.3 49.4L42.8 53.2M41.3 50.4L40.3 52.5M50.7 47.8L53.5 49.1M40.4 49.8L38.4 52.6M49.5 46.9L53.4 48.4M38.4 43.8L35.8 43.4" stroke="rgb(156,96,120)" stroke-opacity="0.45" stroke-width="0.7"/>
<path d="M50.9 22.7L51.7 20.3M50.5 23.5L51.3 21.0M60.1 65.1L60.6 65.7M70.5 40.5L70.4 40.6M22.1 58.9L21.5 59.3M68.0 32.9L67.9 32.9M18.8 44.3L17.3 44.3M42.0 24.0L41.5 18.2M64.7 35.7L68.5 34.0M28.1 24.5L27.5 23.8M52.0 23.3L53.3 19.7M32.0 21.9L31.6 21.1M27.6 62.5L25.8 64.4M38.9 66.2L38.1 69.7M48.6 18.4L48.6 18.5M68.3 42.3L70.6 42.1M65.4 59.1L66.2 59.7" stroke="rgb(192,180,168)" stroke-opacity="0.45" stroke-width="0.7"/>
<path d="M54.3 49.9L57.5 51.5M39.9 34.8L37.8 29.6M38.4 36.7L36.2 33.5M43.8 35.1L43.7 32.3M46.7 42.9L49.3 41.1M53.1 50.1L57.3 52.6M51.4 51.0L54.9 53.9" stroke="rgb(204,156,168)" stroke-opacity="0.45" stroke-width="0.7"/>
<path d="M39.0 41.9L34.6 39.4M47.8 36.9L49.1 34.3M38.9 40.0L35.2 36.5M41.4 38.4L39.4 33.6M37.0 45.3L34.0 45.5M43.4 40.0L42.7 33.6" stroke="rgb(156,96,108)" stroke-opacity="0.45" stroke-width="0.7"/>
<path d="M28.4 44.7L24.7 44.6M40.1 59.8L38.6 65.2M58.9 43.7L64.8 43.3" stroke="rgb(180,144,144)" stroke-opacity="0.45" stroke-width="0.7"/>
<path d="M45.3 31.5L45.6 27.8M54.4 44.6L61.1 44.4M45.2 31.5L45.5 28.5" stroke="rgb(156,120,132)" stroke-opacity="0.45" stroke-width="0.7"/>
<path d="M64.9 29.5L65.6 29.0M38.6 69.9L38.3 70.9M58.6 22.7L58.7 22.5M55.5 26.6L58.1 22.5M17.6 45.2L17.3 45.2M46.5 25.0L47.2 19.3M25.0 29.5L23.2 28.0M27.1 59.3L25.1 61.0M46.4 66.7L46.8 70.9M43.1 24.6L42.8 18.1M22.9 28.1L23.1 28.2" stroke="rgb(204,192,192)" stroke-opacity="0.45" stroke-width="0.7"/>
<path d="M40.6 43.2L38.0 42.0" stroke="rgb(180,120,144)" stroke-opacity="0.45" stroke-width="0.7"/>
<path d="M34.2 62.9L32.7 65.6M27.2 52.2L21.3 54.8" stroke="rgb(168,156,156)" stroke-opacity="0.45" stroke-width="0.7"/>
<path d="M48.2 47.3L53.2 50.3M39.2 45.4L34.2 46.0" stroke="rgb(180,132,144)" stroke-opacity="0.45" stroke-width="0.7"/>
<path d="M46.6 58.2L47.1 60.8M35.8 38.5L30.6 34.4M54.1 50.9L58.5 53.5M45.5 56.0L45.8 58.6" stroke="rgb(156,120,120)" stroke-opacity="0.45" stroke-width="0.7"/>
<path d="M30.2 30.2L28.2 28.0M26.5 52.1L24.4 52.9M30.4 56.1L27.4 58.6" stroke="rgb(168,156,144)" stroke-opacity="0.45" stroke-width="0.7"/>
<path d="M48.4 45.9L51.1 46.5M51.5 39.3L53.8 37.7M39.5 39.6L35.4 34.9" stroke="rgb(168,108,132)" stroke-opacity="0.45" stroke-width="0.7"/>
<path d="M41.5 38.0L40.1 34.0M46.2 52.0L47.9 57.7M37.2 42.6L34.9 41.9M48.5 50.9L51.4 54.8M38.0 42.9L32.4 41.2" stroke="rgb(168,108,120)" stroke-opacity="0.45" stroke-width="0.7"/>
<path d="M57.8 40.3L60.3 39.5M44.0 30.8L44.0 26.4M30.0 38.2L27.2 37.0" stroke="rgb(156,132,132)" stroke-opacity="0.45" stroke-width="0.7"/>
<path d="M37.4 29.8L35.8 26.1" stroke="rgb(168,144,132)" stroke-opacity="0.45" stroke-width="0.7"/>
<path d="M47.9 45.3L50.2 45.7" stroke="rgb(204,156,180)" stroke-opacity="0.45" stroke-width="0.7"/>
<path d="M29.2 36.7L26.4 35.2M29.4 34.0L27.2 32.4M27.6 48.9L24.4 49.7M50.5 29.8L52.5 25.3" stroke="rgb(180,156,144)" stroke-opacity="0.45" stroke-width="0.7"/>
<path d="M44.8 48.0L45.4 50.5" stroke="rgb(180,132,156)" stroke-opacity="0.45" stroke-width="0.7"/>
<path d="M40.4 45.4L37.6 45.9" stroke="rgb(168,120,144)" stroke-opacity="0.45" stroke-width="0.7"/>
<path d="M56.5 38.0h.1M38.6 26.2h.1M29.6 57.4h.1M45.9 61.5h.1M52.8 30.8h.1M53.3 58.7h.1M60.6 44.7h.1M41.5 28.0h.1M52.0 26.4h.1M44.0 30.4h.1M28.2 46.3h.1M63.4 47.9h.1M33.2 30.4h.1M32.0 57.4h.1M47.6 62.1h.1M48.2 59.5h.1M59.3 36.5h.1M53.3 55.4h.1M50.8 26.4h.1M34.1 34.9h.1M51.5 60.9h.1M34.8 31.9h.1M31.2 59.8h.1M24.6 46.5h.1M29.0 53.9h.1M57.8 54.5h.1" stroke="rgb(210,180,180)" stroke-opacity="0.5" stroke-width="1.1" stroke-linecap="round"/>
<path d="M32.0 38.5h.1M42.2 53.6h.1M52.5 36.4h.1M39.2 54.2h.1M41.5 52.0h.1M39.5 56.1h.1M43.3 58.2h.1M36.4 52.3h.1M37.1 55.1h.1M56.6 46.1h.1M37.6 33.3h.1M46.8 37.5h.1M54.7 43.5h.1M48.8 34.4h.1M52.6 37.9h.1M49.9 51.8h.1" stroke="rgb(195,150,165)" stroke-opacity="0.5" stroke-width="1.1" stroke-linecap="round"/>
<path d="M27.3 32.1h.1M61.7 36.2h.1M61.7 56.0h.1M41.2 21.4h.1M20.0 34.7h.1M22.2 33.6h.1M21.9 44.0h.1M55.7 28.3h.1M40.9 19.6h.1M34.9 22.2h.1M35.0 64.3h.1M25.3 38.7h.1" stroke="rgb(165,150,150)" stroke-opacity="0.5" stroke-width="1.1" stroke-linecap="round"/>
<path d="M61.6 36.3h.1M26.9 39.0h.1M63.8 40.2h.1M38.3 63.5h.1M40.7 64.8h.1M56.5 59.2h.1M25.3 38.5h.1" stroke="rgb(210,195,180)" stroke-opacity="0.5" stroke-width="1.1" stroke-linecap="round"/>
<path d="M51.5 21.1h.1M57.0 29.6h.1M24.4 39.4h.1M29.0 28.7h.1M68.5 36.3h.1M40.9 22.8h.1M31.3 23.3h.1M65.6 35.7h.1M66.0 45.9h.1M20.2 42.9h.1M58.1 29.3h.1M38.8 69.6h.1M59.7 33.5h.1M34.1 22.1h.1M25.4 51.6h.1" stroke="rgb(210,195,195)" stroke-opacity="0.5" stroke-width="1.1" stroke-linecap="round"/>
<path d="M42.9 34.2h.1M43.3 50.0h.1M49.3 44.7h.1M44.0 35.2h.1M41.7 34.8h.1M47.9 54.8h.1M46.9 53.4h.1M50.4 38.5h.1M35.2 49.5h.1" stroke="rgb(210,150,165)" stroke-opacity="0.5" stroke-width="1.1" stroke-linecap="round"/>
<path d="M54.9 34.1h.1M38.5 31.3h.1M29.6 45.5h.1M56.7 37.4h.1M37.3 58.7h.1M57.6 48.4h.1" stroke="rgb(150,120,120)" stroke-opacity="0.5" stroke-width="1.1" stroke-linecap="round"/>
<path d="M55.4 37.6h.1M34.3 53.8h.1M47.6 34.9h.1M49.2 36.4h.1M48.5 35.3h.1M39.7 56.3h.1M34.0 49.3h.1M47.1 55.9h.1M31.5 47.0h.1M42.7 33.4h.1M47.2 33.7h.1M37.7 55.6h.1M32.5 44.8h.1M43.5 52.6h.1M46.4 31.9h.1M48.3 53.2h.1M40.4 53.2h.1M38.2 45.0h.1M37.0 49.9h.1" stroke="rgb(150,105,120)" stroke-opacity="0.5" stroke-width="1.1" stroke-linecap="round"/>
<path d="M66.2 41.9h.1M47.4 21.9h.1M23.4 51.8h.1M63.2 57.2h.1M49.1 66.9h.1M47.8 20.5h.1M46.1 69.6h.1M24.3 47.8h.1M55.5 65.0h.1M59.8 58.0h.1M39.6 66.2h.1M65.5 33.1h.1M25.9 57.3h.1M34.1 23.6h.1M33.1 27.4h.1M53.9 24.8h.1M45.5 22.3h.1" stroke="rgb(225,210,195)" stroke-opacity="0.5" stroke-width="1.1" stroke-linecap="round"/>
<path d="M54.0 30.0h.1M59.5 32.0h.1M56.1 31.7h.1M42.1 27.2h.1M41.6 63.7h.1M31.5 58.8h.1M57.1 58.9h.1M24.8 46.2h.1M57.1 61.3h.1M57.1 56.7h.1M47.9 23.9h.1M23.7 45.6h.1M50.4 23.7h.1M64.3 42.9h.1M55.7 27.7h.1M29.4 55.9h.1M38.6 63.1h.1M54.2 62.2h.1M59.7 53.2h.1" stroke="rgb(225,195,195)" stroke-opacity="0.5" stroke-width="1.1" stroke-linecap="round"/>
<path d="M38.2 50.2h.1" stroke="rgb(195,135,165)" stroke-opacity="0.5" stroke-width="1.1" stroke-linecap="round"/>
<path d="M48.7 40.3h.1M50.1 41.1h.1M37.5 37.3h.1M35.0 49.3h.1M47.8 53.7h.1M47.0 51.6h.1M49.3 39.0h.1" stroke="rgb(195,135,150)" stroke-opacity="0.5" stroke-width="1.1" stroke-linecap="round"/>
<path d="M53.5 21.1h.1M67.5 41.7h.1M24.6 45.2h.1M20.3 39.5h.1M25.7 53.5h.1M19.6 38.8h.1M53.4 20.6h.1" stroke="rgb(165,150,135)" stroke-opacity="0.5" stroke-width="1.1" stroke-linecap="round"/>
<path d="M37.9 31.0h.1M31.9 33.5h.1M45.6 59.5h.1M35.4 31.6h.1M58.9 46.1h.1M28.1 45.0h.1M60.3 40.4h.1M38.0 30.9h.1M31.2 50.0h.1" stroke="rgb(195,165,165)" stroke-opacity="0.5" stroke-width="1.1" stroke-linecap="round"/>
<path d="M35.1 37.0h.1M39.6 32.2h.1M35.7 35.5h.1M56.4 43.4h.1M36.4 56.4h.1M44.0 56.5h.1M55.8 37.9h.1M43.1 39.8h.1M47.5 41.2h.1M41.3 59.1h.1M50.1 59.4h.1M37.2 31.7h.1" stroke="rgb(210,165,180)" stroke-opacity="0.5" stroke-width="1.1" stroke-linecap="round"/>
<path d="M56.8 64.9h.1" stroke="rgb(180,165,165)" stroke-opacity="0.5" stroke-width="1.1" stroke-linecap="round"/>
<path d="M51.2 60.1h.1M27.8 50.1h.1M56.6 54.9h.1M24.9 40.8h.1M31.5 30.0h.1M25.4 46.2h.1M32.0 59.0h.1M50.1 26.8h.1M57.3 29.9h.1M54.0 26.5h.1M40.2 61.3h.1M22.9 43.9h.1" stroke="rgb(165,135,135)" stroke-opacity="0.5" stroke-width="1.1" stroke-linecap="round"/>
<path d="M34.4 47.7h.1M39.7 35.0h.1M51.0 45.3h.1" stroke="rgb(150,90,105)" stroke-opacity="0.5" stroke-width="1.1" stroke-linecap="round"/>
<path d="M33.5 38.4h.1M30.3 49.6h.1M46.7 32.6h.1M33.5 32.5h.1M30.8 43.2h.1M38.0 54.7h.1M37.6 32.4h.1M29.3 44.9h.1M31.5 34.3h.1" stroke="rgb(210,165,165)" stroke-opacity="0.5" stroke-width="1.1" stroke-linecap="round"/>
<path d="M21.1 40.2h.1M60.6 64.6h.1M66.3 53.0h.1M65.7 37.1h.1M31.5 63.5h.1M46.6 66.2h.1M62.9 62.0h.1M18.8 47.3h.1M45.2 22.3h.1M68.7 39.8h.1M64.8 52.2h.1M21.0 40.5h.1M31.3 64.9h.1M22.0 48.8h.1" stroke="rgb(225,210,210)" stroke-opacity="0.5" stroke-width="1.1" stroke-linecap="round"/>
<path d="M66.5 54.9h.1M54.7 21.9h.1M21.3 49.1h.1M20.7 49.0h.1M48.7 22.0h.1M50.7 22.2h.1" stroke="rgb(210,210,195)" stroke-opacity="0.5" stroke-width="1.1" stroke-linecap="round"/>
<path d="M22.9 57.6h.1M63.2 28.3h.1M25.6 31.3h.1M39.6 69.8h.1M60.2 58.8h.1M25.8 62.5h.1M64.8 34.1h.1M48.6 70.2h.1M20.2 46.5h.1" stroke="rgb(180,165,150)" stroke-opacity="0.5" stroke-width="1.1" stroke-linecap="round"/>
<path d="M34.3 69.2h.1M31.4 66.6h.1M43.0 70.9h.1" stroke="rgb(165,165,150)" stroke-opacity="0.5" stroke-width="1.1" stroke-linecap="round"/>
<path d="M30.5 30.0h.1" stroke="rgb(150,135,135)" stroke-opacity="0.5" stroke-width="1.1" stroke-linecap="round"/>
<path d="M37.4 45.3h.1" stroke="rgb(135,75,105)" stroke-opacity="0.5" stroke-width="1.1" stroke-linecap="round"/>
<path d="M49.1 56.9h.1M41.1 33.2h.1M52.1 35.3h.1M55.8 42.1h.1" stroke="rgb(165,120,120)" stroke-opacity="0.5" stroke-width="1.1" stroke-linecap="round"/>
<path d="M45.4 34.6h.1M52.4 52.7h.1M48.3 47.8h.1" stroke="rgb(165,105,120)" stroke-opacity="0.5" stroke-width="1.1" stroke-linecap="round"/>
<path d="M56.5 48.6h.1M58.5 39.5h.1M41.8 49.5h.1" stroke="rgb(165,120,135)" stroke-opacity="0.5" stroke-width="1.1" stroke-linecap="round"/>
<path d="M35.9 61.0h.1" stroke="rgb(150,135,120)" stroke-opacity="0.5" stroke-width="1.1" stroke-linecap="round"/>
<path d="M52.1 53.7h.1" stroke="rgb(150,105,105)" stroke-opacity="0.5" stroke-width="1.1" stroke-linecap="round"/>
<path d="M44.8 34.2h.1" stroke="rgb(195,150,150)" stroke-opacity="0.5" stroke-width="1.1" stroke-linecap="round"/>
<path d="M47.5 42.1h.1" stroke="rgb(225,180,195)" stroke-opacity="0.5" stroke-width="1.1" stroke-linecap="round"/>
</g>
</svg>
<svg x="262" y="455" width="88.0" height="88.6" overflow="hidden">
<rect width="100%" height="100%" fill="rgb(25,133,200)"/>
<g filter="url(#soft)">
<radialGradient id="ag2" gradientUnits="userSpaceOnUse" cx="44.5" cy="44.4" r="43"><stop offset="0" stop-color="rgb(98,137,129)"/><stop offset="0.663" stop-color="rgb(94,135,127)"/><stop offset="0.814" stop-color="rgb(88,130,122)"/><stop offset="0.879" stop-color="rgb(79,117,109)"/><stop offset="1" stop-color="rgb(79,117,109)"/></radialGradient>
<linearGradient id="rg2" gradientUnits="userSpaceOnUse" x1="23.0" y1="1.4" x2="66.0" y2="87.4"><stop offset="0" stop-color="rgb(60,125,150)"/><stop offset="0.45" stop-color="rgb(95,140,160)"/><stop offset="0.75" stop-color="rgb(160,168,188)"/><stop offset="1" stop-color="rgb(185,188,205)"/></linearGradient>
<linearGradient id="lg2" gradientUnits="userSpaceOnUse" x1="23.0" y1="1.4" x2="66.0" y2="87.4"><stop offset="0" stop-color="rgb(100,145,158)"/><stop offset="0.5" stop-color="rgb(150,175,175)"/><stop offset="1" stop-color="rgb(215,222,215)"/></linearGradient>
<circle cx="44.5" cy="44.4" r="43" fill="url(#ag2)"/>
<circle cx="44.5" cy="44.4" r="40.70" fill="none" stroke="url(#rg2)" stroke-width="4.2"/>
<circle cx="44.5" cy="44.4" r="38.40" fill="none" stroke="url(#lg2)" stroke-width="1.4"/>
<circle cx="44.5" cy="44.4" r="42.65" fill="none" stroke="rgb(110,118,155)" stroke-width="0.8"/>
<radialGradient id="cg2" gradientUnits="userSpaceOnUse" cx="44.5" cy="44.4" r="27.03"><stop offset="0.000" stop-color="rgb(220,180,200)"/><stop offset="0.151" stop-color="rgb(210,168,190)"/><stop offset="0.208" stop-color="rgb(185,115,140)"/><stop offset="0.358" stop-color="rgb(182,135,142)"/><stop offset="0.566" stop-color="rgb(184,160,150)"/><stop offset="0.802" stop-color="rgb(182,172,156)"/><stop offset="1" stop-color="rgb(182,172,156)" stop-opacity="0"/></radialGradient>
<circle cx="44.5" cy="44.4" r="27.03" fill="url(#cg2)"/>
<path d="M55.5 44.8L59.0 45.0M52.7 50.2L54.8 51.6M48.7 52.3L50.7 56.1M51.1 49.5L53.8 51.6M53.0 47.3L57.5 48.9M44.7 36.1L44.8 30.4M36.3 49.1L32.8 51.1M42.6 34.0L42.2 31.9M36.1 44.8L31.5 45.0M40.7 51.9L38.8 55.8M53.0 41.7L58.0 40.1" stroke="rgb(156,120,120)" stroke-opacity="0.45" stroke-width="0.7"/>
<path d="M52.3 37.4L56.2 34.0M47.1 56.4L47.8 59.4M51.4 36.1L54.5 32.3M53.0 37.3L57.3 33.8M52.6 36.5L56.7 32.5M33.1 49.3L29.6 50.8M49.9 57.5L51.0 60.3" stroke="rgb(192,168,156)" stroke-opacity="0.45" stroke-width="0.7"/>
<path d="M45.4 40.9L46.9 35.4M42.2 48.5L41.0 50.7M49.1 42.8L51.6 41.9M43.0 48.7L42.0 51.6M42.9 39.0L42.1 36.5" stroke="rgb(168,96,120)" stroke-opacity="0.45" stroke-width="0.7"/>
<path d="M54.5 43.3L57.5 43.0M40.5 53.9L39.0 57.3M40.2 51.6L36.9 57.0M35.6 39.3L32.0 37.3M44.0 35.4L43.7 29.7M34.3 43.5L28.0 42.9M55.4 47.5L59.5 48.6M55.5 46.2L60.6 47.0M53.3 48.0L57.0 49.5M44.5 56.6L44.5 58.6M55.6 43.9L61.8 43.7M44.9 32.1L45.0 28.6" stroke="rgb(168,132,132)" stroke-opacity="0.45" stroke-width="0.7"/>
<path d="M68.5 48.3L69.4 48.4M56.6 23.5L57.2 22.6M39.9 69.1L39.9 69.2M22.6 38.0L20.4 37.3M24.2 34.1L22.0 33.0M63.9 54.2L66.4 55.4M61.8 36.3L67.0 33.8" stroke="rgb(192,180,156)" stroke-opacity="0.45" stroke-width="0.7"/>
<path d="M26.7 37.9L23.2 36.6M47.8 62.6L48.6 67.2M27.5 52.8L22.9 55.1M53.6 28.0L55.0 25.5M41.2 25.3L40.7 22.3M57.1 54.2L59.4 55.9M27.7 40.9L23.8 40.1M58.4 45.8L63.1 46.2M25.7 46.4L22.1 46.8M42.5 64.2L42.1 67.7M51.5 26.9L53.2 22.7M28.4 43.6L23.8 43.3M60.3 36.5L64.1 34.5M63.5 46.0L68.1 46.4" stroke="rgb(204,192,180)" stroke-opacity="0.45" stroke-width="0.7"/>
<path d="M45.0 33.6L45.1 31.4M38.6 37.0L34.9 32.3M52.2 44.9L57.7 45.2M53.2 50.2L55.2 51.5M50.9 51.8L54.2 55.6M42.1 52.1L40.7 56.3M37.5 39.0L34.4 36.6M37.6 41.5L32.6 39.4" stroke="rgb(192,156,156)" stroke-opacity="0.45" stroke-width="0.7"/>
<path d="M33.7 56.3L31.6 58.6M63.5 39.3L68.8 37.8M33.0 62.5L31.0 65.7M59.2 61.4L61.0 63.5M53.7 24.1L54.9 21.4M31.5 26.0L29.9 23.8M68.7 38.4L69.0 38.4M65.7 49.2L69.1 49.9M43.2 28.5L42.9 24.7M68.1 39.8L69.3 39.6M63.8 39.3L66.2 38.6M28.0 48.8L25.6 49.4M60.4 64.3L60.2 64.1M34.1 31.1L30.4 26.4M19.7 43.4L19.3 43.4M29.8 50.8L24.0 53.3M47.9 64.3L48.6 68.5M27.3 51.0L24.8 52.0M22.2 36.5L20.7 35.9M54.3 27.6L55.6 25.3M36.4 65.0L35.2 67.9M61.2 39.1L64.8 38.0M30.3 59.5L27.9 62.2M25.7 42.8L20.3 42.3M26.2 48.7L21.1 49.9M61.9 55.2L66.0 57.7M63.5 36.9L68.0 35.1M48.7 68.8L48.8 69.3M30.4 31.6L25.9 27.4M65.3 30.8L65.6 30.6M41.6 61.1L40.9 64.7M25.1 34.8L23.0 33.7M30.0 30.9L28.5 29.5M50.8 24.4L52.1 20.3M28.7 40.6L23.0 39.2M60.0 30.9L63.2 28.1M31.5 59.7L29.0 62.7M34.9 65.9L34.2 67.5M66.1 47.7L69.5 48.2M37.4 65.3L36.8 67.2M57.7 28.1L59.5 25.8M48.0 24.4L48.8 19.8M28.5 52.3L26.7 53.2M62.4 60.4L63.4 61.2M23.4 51.6L21.3 52.3M21.9 34.1L21.5 34.0" stroke="rgb(192,180,168)" stroke-opacity="0.45" stroke-width="0.7"/>
<path d="M48.6 42.2L53.0 39.7M46.3 41.5L48.8 37.4M40.5 44.3L34.6 44.1M46.9 46.4L49.4 48.5M47.4 48.4L50.0 51.8" stroke="rgb(192,132,156)" stroke-opacity="0.45" stroke-width="0.7"/>
<path d="M45.1 51.4L45.6 56.6M43.7 50.7L43.1 56.5M46.1 52.4L46.8 55.7M45.0 36.5L45.3 32.0M48.4 40.0L52.0 35.9M44.5 51.1L44.5 54.8M45.0 39.7L45.7 33.9M38.3 41.1L32.8 38.1M50.5 38.9L52.4 37.2M38.8 38.2L35.4 34.5M39.3 48.8L34.6 52.9M38.1 39.3L35.8 37.4" stroke="rgb(204,156,168)" stroke-opacity="0.45" stroke-width="0.7"/>
<path d="M23.9 36.4L21.2 35.4M66.2 48.2L69.4 48.7M28.2 26.9L27.3 25.9M27.0 59.0L25.1 60.6M20.3 51.7L20.3 51.7M66.5 53.7L67.7 54.2M57.9 64.4L58.6 65.4M27.5 57.8L25.5 59.4M24.5 43.7L19.3 43.5M67.6 45.1L69.7 45.2" stroke="rgb(168,168,144)" stroke-opacity="0.45" stroke-width="0.7"/>
<path d="M47.2 41.0L50.6 36.7M42.2 47.2L39.7 50.4M49.3 43.2L51.4 42.6M45.2 40.3L46.1 35.3M47.8 45.7L52.2 47.5M40.7 42.5L36.9 40.5M42.1 39.2L40.7 36.3" stroke="rgb(204,132,156)" stroke-opacity="0.45" stroke-width="0.7"/>
<path d="M26.0 56.4L23.3 58.2M63.5 39.0L68.8 37.5M58.0 59.6L61.3 63.2M69.8 43.3L69.7 43.3" stroke="rgb(180,168,156)" stroke-opacity="0.45" stroke-width="0.7"/>
<path d="M60.4 54.9L62.6 56.3M36.6 29.2L34.4 25.0M31.8 33.1L28.9 30.5M42.8 26.4L42.4 22.6" stroke="rgb(204,192,168)" stroke-opacity="0.45" stroke-width="0.7"/>
<path d="M29.2 34.4L24.9 31.5M45.8 60.6L46.3 66.9M60.4 54.1L62.2 55.3M25.9 39.8L21.3 38.6M60.2 39.7L62.4 39.1M58.9 41.2L61.3 40.6M41.3 29.4L40.1 23.9M61.5 50.4L65.6 51.9M52.7 57.8L53.8 59.6M58.2 55.9L59.8 57.2M30.0 49.6L24.4 51.6M42.0 25.3L41.4 20.5M38.5 26.9L37.1 22.9M50.1 29.8L51.8 25.3M28.3 35.4L25.2 33.7M58.5 34.1L62.0 31.5M49.0 28.4L49.7 26.2" stroke="rgb(156,144,132)" stroke-opacity="0.45" stroke-width="0.7"/>
<path d="M39.2 38.1L37.3 35.8M36.3 43.5L32.1 43.1M48.1 36.1L49.0 33.9M37.0 39.7L34.5 38.1M36.0 41.5L33.1 40.6M53.4 47.4L57.1 48.6M42.7 37.1L41.6 32.5" stroke="rgb(168,120,120)" stroke-opacity="0.45" stroke-width="0.7"/>
<path d="M54.8 43.5L58.2 43.2M37.9 52.4L36.6 54.0M38.4 52.6L35.3 56.8M34.4 43.9L29.8 43.7M52.9 48.1L58.6 50.7M35.0 50.3L33.0 51.6M35.0 38.9L30.9 36.5M50.8 38.8L53.5 36.4" stroke="rgb(204,168,168)" stroke-opacity="0.45" stroke-width="0.7"/>
<path d="M48.3 31.3L49.1 28.7M60.3 53.6L63.6 55.5M52.1 34.7L56.0 29.8M52.3 29.3L53.7 26.6M31.8 36.5L28.9 34.6M36.2 56.1L33.7 59.6M43.2 32.9L42.8 29.2M60.0 51.9L62.0 52.8M33.0 54.7L31.4 56.1M54.2 53.7L56.4 55.9M57.2 50.7L62.4 53.2M28.5 50.4L26.2 51.3M37.0 56.9L34.4 61.4M46.9 55.0L48.2 60.3M30.8 50.4L26.3 52.3M56.1 33.5L60.6 29.3M40.5 55.8L38.4 61.6M56.1 54.2L58.8 56.5M38.5 33.0L36.7 29.5M46.1 60.2L46.6 65.6M55.6 33.3L59.8 29.2" stroke="rgb(204,180,168)" stroke-opacity="0.45" stroke-width="0.7"/>
<path d="M46.6 49.3L48.5 53.7M39.8 44.7L33.9 45.1M38.0 42.8L34.8 42.0M49.3 45.4L54.3 46.4M40.6 45.3L36.7 46.2M41.8 50.1L39.5 55.1M51.0 43.2L53.6 42.7" stroke="rgb(204,144,156)" stroke-opacity="0.45" stroke-width="0.7"/>
<path d="M39.8 44.6L36.7 44.7M44.3 48.2L44.1 53.0M48.9 44.2L51.2 44.1M41.3 49.0L38.8 52.7M40.3 47.3L36.9 49.6" stroke="rgb(204,144,168)" stroke-opacity="0.45" stroke-width="0.7"/>
<path d="M58.2 53.7L63.1 57.0M52.9 66.8L53.4 68.0M39.4 60.4L37.7 65.6M60.0 41.1L62.7 40.6M21.6 51.8L20.5 52.1M43.0 29.3L42.4 24.1M47.6 62.0L48.0 64.5M51.8 27.4L54.0 22.2M50.4 65.0L51.5 68.7M43.5 60.3L43.2 65.3M31.0 62.9L29.6 64.8M20.9 35.0L21.0 35.1M26.6 32.3L23.7 30.3M26.0 43.8L22.8 43.6M45.1 58.4L45.2 61.4M51.7 58.6L53.0 61.3M47.5 61.9L47.9 64.2M30.0 34.3L26.5 31.9M59.8 33.1L64.6 29.6M57.3 30.1L60.4 26.6M51.8 62.2L53.3 66.1M27.7 38.6L23.0 37.0M23.3 37.5L20.5 36.6M41.2 56.7L39.7 62.2M36.4 66.3L35.7 68.1M66.0 39.6L68.7 39.0M24.8 47.3L22.5 47.6M45.0 19.6L45.0 19.2M54.1 23.6L55.1 21.5M20.8 38.6L20.0 38.4M39.3 23.3L38.4 19.9M62.3 44.3L68.0 44.3M63.7 43.2L68.0 43.0M31.3 58.6L28.9 61.2M55.4 58.7L58.5 62.6M30.6 55.7L26.2 59.3M49.9 68.4L50.0 69.0M31.6 58.0L27.4 62.4M38.8 65.3L37.8 68.8M61.3 49.0L66.2 50.4M61.5 45.8L65.9 46.2M45.0 29.1L45.1 24.8" stroke="rgb(168,156,144)" stroke-opacity="0.45" stroke-width="0.7"/>
<path d="M47.4 61.4L48.3 66.5M41.5 61.6L40.6 66.3M42.9 62.4L42.6 66.6" stroke="rgb(168,156,132)" stroke-opacity="0.45" stroke-width="0.7"/>
<path d="M31.6 37.3L29.0 35.9M52.6 57.3L54.6 60.3M33.8 51.1L30.2 53.4M32.2 50.1L27.4 52.3M52.6 55.6L54.9 58.9M34.4 52.9L32.0 54.9M44.5 31.8L44.6 25.8M48.7 56.2L50.1 60.2M55.8 51.5L60.5 54.4M57.1 35.8L59.4 34.2M48.1 29.3L49.3 24.2M57.1 50.2L61.9 52.4M40.5 56.5L39.5 59.8M52.5 33.2L56.0 28.3M57.9 45.5L60.4 45.7M57.5 45.0L63.7 45.3M48.9 32.3L49.8 29.6M53.0 31.1L55.8 26.6M37.5 34.3L35.7 31.8M49.2 29.4L51.0 23.8M54.3 56.9L55.9 59.0M54.2 42.0L60.1 40.6" stroke="rgb(168,144,132)" stroke-opacity="0.45" stroke-width="0.7"/>
<path d="M42.0 68.0L41.8 69.5M22.8 47.2L20.4 47.5M21.0 49.8L19.9 50.0M69.0 46.4L69.7 46.5M32.0 28.4L30.1 26.0" stroke="rgb(180,168,144)" stroke-opacity="0.45" stroke-width="0.7"/>
<path d="M47.2 42.2L51.4 38.8M50.1 43.7L53.0 43.4M39.6 44.6L34.5 44.9M40.9 40.3L39.3 38.4M47.2 47.9L50.2 51.9M45.7 48.7L46.5 51.6M39.5 44.0L36.6 43.7M48.9 39.9L51.4 37.4" stroke="rgb(156,96,120)" stroke-opacity="0.45" stroke-width="0.7"/>
<path d="M45.7 41.5L47.3 38.0M41.6 41.1L38.6 37.7M39.6 43.5L35.9 42.8M47.7 47.8L51.2 51.5M47.9 41.3L52.1 37.4M48.1 46.4L53.5 49.4M44.7 48.3L45.0 52.8M46.8 41.3L50.6 36.2M42.4 47.8L41.2 49.9" stroke="rgb(168,108,132)" stroke-opacity="0.45" stroke-width="0.7"/>
<path d="M44.5 36.3L44.5 32.8M37.3 42.6L33.7 41.6" stroke="rgb(204,156,156)" stroke-opacity="0.45" stroke-width="0.7"/>
<path d="M43.4 47.4L42.5 50.2M41.1 44.0L38.4 43.6" stroke="rgb(216,156,180)" stroke-opacity="0.45" stroke-width="0.7"/>
<path d="M41.4 44.5L38.3 44.7M46.4 41.3L47.8 39.1M44.5 41.2L44.6 38.6" stroke="rgb(216,168,192)" stroke-opacity="0.45" stroke-width="0.7"/>
<path d="M40.4 38.2L37.9 34.4M51.9 42.1L54.6 41.3M47.2 38.6L49.9 33.0M37.1 46.0L34.5 46.5M49.8 47.8L53.9 50.4" stroke="rgb(192,144,156)" stroke-opacity="0.45" stroke-width="0.7"/>
<path d="M45.3 37.5L45.8 34.0M41.6 49.6L39.4 53.6M49.2 47.5L51.4 48.9M39.1 43.9L35.5 43.6M37.1 43.8L34.9 43.6M48.7 47.4L52.3 49.9M38.5 44.2L34.6 44.1M49.9 41.6L54.4 39.2M43.7 39.6L42.7 34.0" stroke="rgb(168,108,120)" stroke-opacity="0.45" stroke-width="0.7"/>
<path d="M54.7 54.6L57.6 57.5M37.5 32.1L36.1 29.6M52.3 52.3L56.5 56.6" stroke="rgb(204,180,180)" stroke-opacity="0.45" stroke-width="0.7"/>
<path d="M37.2 40.3L33.2 38.1M38.9 39.9L36.7 38.2M42.8 38.2L41.8 34.2M53.1 42.0L56.0 41.1M45.2 37.4L45.6 33.8M43.7 37.8L43.1 33.5" stroke="rgb(168,120,132)" stroke-opacity="0.45" stroke-width="0.7"/>
<path d="M56.4 41.4L61.2 40.1M52.1 35.9L56.1 31.4M38.3 53.3L35.0 57.9M53.6 54.2L55.2 55.9" stroke="rgb(156,132,120)" stroke-opacity="0.45" stroke-width="0.7"/>
<path d="M43.6 41.3L42.9 39.1" stroke="rgb(228,180,204)" stroke-opacity="0.45" stroke-width="0.7"/>
<path d="M37.0 31.7L35.5 29.3M43.9 58.9L43.8 61.2M38.6 33.6L36.1 29.2M51.3 31.9L52.3 30.0M30.8 38.5L28.3 37.4M57.7 41.1L62.9 39.8" stroke="rgb(192,168,168)" stroke-opacity="0.45" stroke-width="0.7"/>
<path d="M50.3 37.0L53.7 32.6" stroke="rgb(168,132,120)" stroke-opacity="0.45" stroke-width="0.7"/>
<path d="M50.1 42.0L55.5 39.6M45.2 36.9L45.4 33.7M42.4 50.4L40.9 54.6M48.1 40.8L52.5 36.5" stroke="rgb(156,108,120)" stroke-opacity="0.45" stroke-width="0.7"/>
<path d="M40.6 57.7L39.6 61.1M32.5 47.3L27.7 48.5M57.3 40.8L59.3 40.2" stroke="rgb(156,132,132)" stroke-opacity="0.45" stroke-width="0.7"/>
<path d="M41.2 44.9L39.0 45.3" stroke="rgb(228,180,192)" stroke-opacity="0.45" stroke-width="0.7"/>
<path d="M56.0 41.9L62.1 40.5" stroke="rgb(168,144,144)" stroke-opacity="0.45" stroke-width="0.7"/>
<path d="M39.9 30.5h.1M59.2 43.9h.1M47.9 31.6h.1M36.6 36.2h.1M37.2 55.6h.1M37.5 31.0h.1M29.1 51.4h.1M49.8 54.7h.1M59.1 43.9h.1M56.0 52.1h.1M32.3 50.7h.1M46.0 56.4h.1M37.0 36.0h.1M31.6 44.0h.1M55.9 30.6h.1M47.2 54.8h.1M38.9 29.9h.1M58.0 47.8h.1M48.6 57.7h.1M59.4 44.4h.1M49.6 56.8h.1" stroke="rgb(210,180,180)" stroke-opacity="0.5" stroke-width="1.1" stroke-linecap="round"/>
<path d="M45.9 55.4h.1M46.0 33.5h.1M43.3 30.9h.1M50.9 36.1h.1M34.0 41.7h.1M53.4 38.6h.1M36.4 36.1h.1" stroke="rgb(210,165,165)" stroke-opacity="0.5" stroke-width="1.1" stroke-linecap="round"/>
<path d="M54.3 29.6h.1M35.5 54.3h.1M59.0 43.0h.1M53.9 58.0h.1M28.0 46.1h.1M42.2 28.8h.1M48.5 55.6h.1M52.0 55.5h.1M37.2 57.2h.1" stroke="rgb(165,135,135)" stroke-opacity="0.5" stroke-width="1.1" stroke-linecap="round"/>
<path d="M34.9 24.0h.1M25.4 34.7h.1M51.9 66.2h.1M26.8 32.2h.1M41.0 24.6h.1M22.3 51.9h.1M62.9 28.3h.1M29.0 29.3h.1M24.9 44.9h.1M61.5 62.3h.1M65.6 54.6h.1M56.8 62.6h.1M61.5 57.6h.1M24.7 50.5h.1M31.9 27.3h.1M47.4 67.2h.1M45.1 28.8h.1M56.3 57.4h.1M32.4 23.5h.1M27.0 44.0h.1M59.3 35.8h.1" stroke="rgb(165,150,135)" stroke-opacity="0.5" stroke-width="1.1" stroke-linecap="round"/>
<path d="M66.5 34.2h.1M62.9 58.1h.1M63.6 41.3h.1M31.8 24.0h.1M42.7 63.1h.1M63.2 37.1h.1M50.7 21.3h.1M27.7 36.8h.1M39.3 26.2h.1M29.8 57.9h.1M41.9 68.4h.1M34.0 65.8h.1M54.0 29.4h.1M50.4 23.8h.1M55.6 26.4h.1M54.3 25.9h.1M50.7 26.7h.1M36.4 27.3h.1M49.2 63.0h.1M57.0 35.2h.1M35.2 56.9h.1M45.2 25.5h.1M56.6 55.4h.1M48.8 65.2h.1M50.3 20.5h.1M45.9 61.9h.1M31.7 26.8h.1M30.5 59.4h.1M23.9 36.3h.1M25.6 50.9h.1M45.6 19.8h.1M51.1 63.3h.1M28.2 35.4h.1M32.4 60.3h.1M67.3 49.4h.1M50.8 21.3h.1M34.2 59.6h.1M48.5 59.9h.1M45.8 64.4h.1M58.3 24.4h.1M49.6 60.6h.1M37.2 66.1h.1M43.7 23.2h.1M60.0 63.1h.1M58.6 63.2h.1M58.0 24.8h.1M35.5 65.4h.1M63.9 57.0h.1M57.8 56.3h.1M30.9 60.6h.1M52.3 21.0h.1M63.9 38.5h.1M57.3 61.5h.1M45.3 64.1h.1M25.0 32.1h.1M39.5 23.0h.1M61.7 26.7h.1M62.9 32.7h.1M31.0 27.8h.1" stroke="rgb(210,195,180)" stroke-opacity="0.5" stroke-width="1.1" stroke-linecap="round"/>
<path d="M42.0 37.3h.1M39.1 49.0h.1M54.0 43.1h.1M48.5 37.2h.1M53.8 47.3h.1M50.3 47.7h.1M39.8 52.3h.1" stroke="rgb(210,150,165)" stroke-opacity="0.5" stroke-width="1.1" stroke-linecap="round"/>
<path d="M52.2 36.9h.1M53.9 50.8h.1M54.5 42.5h.1M39.8 54.9h.1" stroke="rgb(165,120,120)" stroke-opacity="0.5" stroke-width="1.1" stroke-linecap="round"/>
<path d="M45.0 66.2h.1M63.9 38.0h.1M35.1 60.5h.1M50.6 28.3h.1M31.9 53.0h.1M46.4 22.4h.1M28.1 55.2h.1M59.7 49.9h.1M47.3 25.6h.1M23.7 50.3h.1M65.5 34.5h.1M53.2 21.1h.1M34.1 65.2h.1M25.5 52.8h.1M33.9 65.4h.1M61.7 53.7h.1M61.0 44.7h.1M66.7 52.3h.1M64.9 37.6h.1" stroke="rgb(150,135,120)" stroke-opacity="0.5" stroke-width="1.1" stroke-linecap="round"/>
<path d="M51.3 59.3h.1M57.5 50.4h.1M56.6 38.9h.1M37.2 57.9h.1M56.6 44.1h.1M55.1 30.8h.1M60.2 45.1h.1" stroke="rgb(210,180,165)" stroke-opacity="0.5" stroke-width="1.1" stroke-linecap="round"/>
<path d="M42.8 34.8h.1M54.6 45.7h.1M53.2 38.2h.1" stroke="rgb(195,150,165)" stroke-opacity="0.5" stroke-width="1.1" stroke-linecap="round"/>
<path d="M34.8 47.7h.1M51.4 32.7h.1M58.2 40.5h.1" stroke="rgb(195,165,165)" stroke-opacity="0.5" stroke-width="1.1" stroke-linecap="round"/>
<path d="M38.0 38.5h.1M43.3 36.0h.1" stroke="rgb(165,105,120)" stroke-opacity="0.5" stroke-width="1.1" stroke-linecap="round"/>
<path d="M33.5 24.4h.1M50.4 20.3h.1M41.4 68.7h.1" stroke="rgb(150,150,135)" stroke-opacity="0.5" stroke-width="1.1" stroke-linecap="round"/>
<path d="M39.8 62.7h.1M26.5 41.3h.1M28.9 42.1h.1M32.7 33.8h.1M53.7 62.3h.1M27.5 44.7h.1M48.4 61.1h.1M43.0 21.3h.1M33.6 56.6h.1M63.8 45.6h.1M47.9 27.1h.1M30.5 41.1h.1M42.0 19.7h.1M28.1 52.7h.1M40.1 29.6h.1M38.7 26.1h.1M30.0 35.5h.1" stroke="rgb(195,180,165)" stroke-opacity="0.5" stroke-width="1.1" stroke-linecap="round"/>
<path d="M24.2 36.6h.1M61.4 32.6h.1M19.9 43.9h.1M21.2 40.7h.1M28.7 28.5h.1M56.7 25.4h.1" stroke="rgb(195,195,180)" stroke-opacity="0.5" stroke-width="1.1" stroke-linecap="round"/>
<path d="M39.9 42.8h.1M52.7 43.4h.1M33.7 41.5h.1M43.5 53.1h.1M46.5 53.3h.1M52.0 37.5h.1" stroke="rgb(210,165,180)" stroke-opacity="0.5" stroke-width="1.1" stroke-linecap="round"/>
<path d="M20.4 48.3h.1M65.9 32.5h.1" stroke="rgb(195,195,165)" stroke-opacity="0.5" stroke-width="1.1" stroke-linecap="round"/>
<path d="M24.1 39.5h.1M33.3 25.7h.1M60.5 62.5h.1M26.3 53.9h.1M64.5 32.6h.1M67.1 45.1h.1M65.7 33.5h.1M40.6 21.2h.1M28.6 29.5h.1M24.4 49.4h.1M39.7 23.3h.1" stroke="rgb(210,210,195)" stroke-opacity="0.5" stroke-width="1.1" stroke-linecap="round"/>
<path d="M53.3 32.2h.1M34.3 31.6h.1M45.2 30.8h.1" stroke="rgb(165,135,120)" stroke-opacity="0.5" stroke-width="1.1" stroke-linecap="round"/>
<path d="M51.7 46.5h.1M38.3 40.1h.1" stroke="rgb(225,165,180)" stroke-opacity="0.5" stroke-width="1.1" stroke-linecap="round"/>
<path d="M42.3 29.3h.1M30.2 44.0h.1" stroke="rgb(225,195,180)" stroke-opacity="0.5" stroke-width="1.1" stroke-linecap="round"/>
<path d="M68.4 46.8h.1M67.4 44.1h.1" stroke="rgb(210,210,180)" stroke-opacity="0.5" stroke-width="1.1" stroke-linecap="round"/>
<path d="M45.7 40.3h.1" stroke="rgb(225,180,210)" stroke-opacity="0.5" stroke-width="1.1" stroke-linecap="round"/>
<path d="M50.1 39.9h.1M45.7 50.6h.1" stroke="rgb(210,135,165)" stroke-opacity="0.5" stroke-width="1.1" stroke-linecap="round"/>
<path d="M38.7 34.3h.1M34.7 49.6h.1" stroke="rgb(150,105,105)" stroke-opacity="0.5" stroke-width="1.1" stroke-linecap="round"/>
<path d="M63.8 42.8h.1" stroke="rgb(195,180,180)" stroke-opacity="0.5" stroke-width="1.1" stroke-linecap="round"/>
<path d="M41.1 50.3h.1" stroke="rgb(150,90,105)" stroke-opacity="0.5" stroke-width="1.1" stroke-linecap="round"/>
<path d="M40.1 52.4h.1" stroke="rgb(195,150,150)" stroke-opacity="0.5" stroke-width="1.1" stroke-linecap="round"/>
<path d="M46.1 49.8h.1" stroke="rgb(150,75,105)" stroke-opacity="0.5" stroke-width="1.1" stroke-linecap="round"/>
<path d="M39.2 31.6h.1M41.6 58.5h.1" stroke="rgb(150,120,120)" stroke-opacity="0.5" stroke-width="1.1" stroke-linecap="round"/>
</g>
</svg>
<svg x="352" y="455" width="88.0" height="88.6" overflow="hidden">
<rect width="100%" height="100%" fill="rgb(25,133,200)"/>
<g filter="url(#soft)">
<radialGradient id="ag3" gradientUnits="userSpaceOnUse" cx="44.0" cy="44.5" r="43.2"><stop offset="0" stop-color="rgb(92,131,124)"/><stop offset="0.532" stop-color="rgb(88,129,121)"/><stop offset="0.815" stop-color="rgb(82,124,116)"/><stop offset="0.880" stop-color="rgb(73,111,104)"/><stop offset="1" stop-color="rgb(73,111,104)"/></radialGradient>
<linearGradient id="rg3" gradientUnits="userSpaceOnUse" x1="22.4" y1="1.3" x2="65.6" y2="87.7"><stop offset="0" stop-color="rgb(60,125,150)"/><stop offset="0.45" stop-color="rgb(95,140,160)"/><stop offset="0.75" stop-color="rgb(160,168,188)"/><stop offset="1" stop-color="rgb(185,188,205)"/></linearGradient>
<linearGradient id="lg3" gradientUnits="userSpaceOnUse" x1="22.4" y1="1.3" x2="65.6" y2="87.7"><stop offset="0" stop-color="rgb(100,145,158)"/><stop offset="0.5" stop-color="rgb(150,175,175)"/><stop offset="1" stop-color="rgb(215,222,215)"/></linearGradient>
<circle cx="44.0" cy="44.5" r="43.2" fill="url(#ag3)"/>
<circle cx="44.0" cy="44.5" r="40.90" fill="none" stroke="url(#rg3)" stroke-width="4.2"/>
<circle cx="44.0" cy="44.5" r="38.60" fill="none" stroke="url(#lg3)" stroke-width="1.4"/>
<circle cx="44.0" cy="44.5" r="42.85" fill="none" stroke="rgb(110,118,155)" stroke-width="0.8"/>
<radialGradient id="cg3" gradientUnits="userSpaceOnUse" cx="44.0" cy="44.5" r="21.20"><stop offset="0.000" stop-color="rgb(222,185,205)"/><stop offset="0.189" stop-color="rgb(215,170,195)"/><stop offset="0.255" stop-color="rgb(195,115,145)"/><stop offset="0.396" stop-color="rgb(188,128,130)"/><stop offset="0.585" stop-color="rgb(185,152,135)"/><stop offset="0.802" stop-color="rgb(178,165,145)"/><stop offset="1" stop-color="rgb(178,165,145)" stop-opacity="0"/></radialGradient>
<circle cx="44.0" cy="44.5" r="21.20" fill="url(#cg3)"/>
<path d="M45.2 46.9L47.1 50.7M45.6 47.8L46.6 49.9" stroke="rgb(216,156,180)" stroke-opacity="0.45" stroke-width="0.7"/>
<path d="M47.5 33.0L48.7 29.3M38.5 54.7L36.4 58.7M32.4 44.3L28.3 44.2M31.9 39.1L30.0 38.3M32.5 44.1L28.3 44.0M55.7 46.5L58.8 47.0M32.0 51.3L30.5 52.1M51.3 35.0L53.9 31.6M55.3 51.4L57.6 52.8M32.0 50.4L28.7 52.0M43.9 55.4L43.8 60.3" stroke="rgb(168,144,120)" stroke-opacity="0.45" stroke-width="0.7"/>
<path d="M58.9 38.7L62.2 37.4M57.0 37.8L61.4 35.6M28.4 46.5L25.2 46.9M28.0 54.8L27.4 55.2M28.0 34.3L27.3 33.9M37.4 62.3L37.1 63.1M54.9 28.3L55.1 28.1M53.9 60.1L54.6 61.2" stroke="rgb(180,168,156)" stroke-opacity="0.45" stroke-width="0.7"/>
<path d="M36.6 39.4L33.4 37.2M53.9 42.1L55.8 41.7M35.5 49.8L32.2 51.9M43.9 35.3L43.8 32.8" stroke="rgb(156,120,108)" stroke-opacity="0.45" stroke-width="0.7"/>
<path d="M53.2 42.5L58.0 41.4M52.8 40.2L56.0 38.6M52.5 51.2L54.2 52.5" stroke="rgb(204,168,144)" stroke-opacity="0.45" stroke-width="0.7"/>
<path d="M40.5 42.0L39.1 41.1" stroke="rgb(216,144,180)" stroke-opacity="0.45" stroke-width="0.7"/>
<path d="M40.0 51.1L38.9 52.9M49.9 40.9L52.1 39.5M40.3 50.7L38.6 53.6M43.7 38.8L43.4 34.5M51.0 41.2L53.4 40.1M46.1 38.3L47.3 34.7" stroke="rgb(168,108,108)" stroke-opacity="0.45" stroke-width="0.7"/>
<path d="M44.4 47.1L44.9 50.1" stroke="rgb(204,156,180)" stroke-opacity="0.45" stroke-width="0.7"/>
<path d="M38.5 41.7L34.3 39.6M50.3 48.7L52.0 49.8M47.6 50.8L49.9 54.7M37.4 46.8L35.5 47.5M40.8 50.3L39.3 53.0M36.3 46.3L34.0 46.8M41.8 39.9L39.6 35.5M49.5 42.0L53.9 39.9M37.8 47.2L35.7 48.2" stroke="rgb(204,144,144)" stroke-opacity="0.45" stroke-width="0.7"/>
<path d="M50.0 55.8L51.0 57.8M36.8 54.6L35.4 56.5M51.9 48.2L55.9 50.0M41.0 35.9L39.3 31.3M53.9 43.0L57.6 42.4M56.0 49.1L58.5 50.1M35.7 49.6L33.6 50.9M53.4 40.6L56.0 39.5M52.7 42.9L56.1 42.3M33.2 50.8L31.5 51.8M56.6 46.5L59.3 46.9M48.8 34.3L50.6 30.6M54.1 41.7L57.7 40.7M55.6 41.8L58.3 41.2" stroke="rgb(204,168,156)" stroke-opacity="0.45" stroke-width="0.7"/>
<path d="M40.3 29.2L39.7 26.7M56.0 32.6L58.0 30.5M44.4 61.8L44.5 64.3M55.4 56.2L57.8 58.7M60.8 49.1L62.9 49.7M45.5 62.3L45.7 64.2" stroke="rgb(168,156,144)" stroke-opacity="0.45" stroke-width="0.7"/>
<path d="M48.4 45.5L52.3 46.4M41.4 41.1L39.5 38.6M42.4 40.0L41.8 38.3M40.4 41.0L38.9 39.6M39.7 44.5L36.9 44.5" stroke="rgb(180,108,132)" stroke-opacity="0.45" stroke-width="0.7"/>
<path d="M47.4 42.2L50.3 40.3M44.5 48.6L44.8 52.1" stroke="rgb(180,96,132)" stroke-opacity="0.45" stroke-width="0.7"/>
<path d="M31.4 31.7L30.1 30.4M27.2 53.3L26.5 53.7M25.7 45.6L24.2 45.7M25.3 51.2L25.4 51.2M50.5 30.7L51.7 28.1M39.5 30.6L38.2 26.6M59.3 37.6L62.0 36.3M25.4 50.7L25.2 50.8M28.6 43.2L25.3 42.9M62.2 36.7L62.2 36.7M36.0 28.4L35.2 26.8M45.2 29.4L45.5 26.5M57.9 34.5L60.1 32.9M50.8 58.7L51.9 61.0M48.0 27.2L48.4 25.2M33.2 28.5L32.9 28.1M56.5 56.0L58.6 57.9M38.6 26.1L38.4 25.5M47.6 61.3L48.2 63.9M62.9 47.2L63.6 47.3M41.2 28.0L40.7 25.0M35.9 32.0L34.7 30.1M61.5 43.0L63.6 42.9M50.7 61.1L51.4 62.8M26.7 53.8L26.6 53.9M59.4 34.7L60.7 33.9M60.0 41.7L62.3 41.3M58.3 49.3L61.3 50.4M58.3 52.3L61.4 54.0M43.6 60.2L43.5 64.3M26.8 44.3L24.2 44.3" stroke="rgb(168,156,132)" stroke-opacity="0.45" stroke-width="0.7"/>
<path d="M61.8 53.4L61.7 53.4M53.1 53.5L54.8 55.2M55.9 42.4L60.5 41.6M46.5 26.1L46.7 24.9M29.3 31.3L29.2 31.3M55.1 37.1L57.4 35.5M44.7 60.8L44.9 64.3" stroke="rgb(192,168,156)" stroke-opacity="0.45" stroke-width="0.7"/>
<path d="M37.5 57.5L35.9 60.7M27.8 49.4L25.0 50.2M36.0 56.4L34.3 58.8M29.6 44.0L26.2 43.9M31.7 59.7L31.5 59.9M33.3 59.8L32.7 60.7M31.5 52.6L29.5 54.0M39.8 30.5L39.2 28.7M44.3 59.6L44.3 64.3M48.4 62.8L48.7 63.7M37.9 31.6L36.7 28.9M45.4 59.2L45.8 62.9M27.2 51.5L25.7 52.1M27.7 44.4L25.7 44.4M29.4 50.8L25.8 52.4M44.1 58.8L44.1 62.4M55.1 33.2L57.3 31.1M28.0 55.6L27.7 55.8M58.1 53.1L60.9 54.8M44.5 62.1L44.6 64.3M42.6 30.2L42.4 28.2M54.0 60.9L54.3 61.4M61.1 49.1L63.1 49.6M25.2 39.6L24.8 39.6M27.7 48.4L25.3 48.9" stroke="rgb(192,180,156)" stroke-opacity="0.45" stroke-width="0.7"/>
<path d="M35.9 56.6L33.4 60.5M30.0 49.4L27.0 50.4" stroke="rgb(192,180,168)" stroke-opacity="0.45" stroke-width="0.7"/>
<path d="M42.3 49.9L41.6 52.3M43.3 40.2L42.4 35.4M39.3 46.5L36.2 47.8M49.3 41.7L50.8 40.9M39.2 46.9L35.0 49.0" stroke="rgb(216,144,156)" stroke-opacity="0.45" stroke-width="0.7"/>
<path d="M52.3 39.5L53.8 38.5M53.4 45.9L56.0 46.3M34.8 40.3L33.2 39.6M35.2 38.6L31.6 36.1M36.1 38.5L32.7 35.8M34.6 37.2L33.2 36.1M53.8 45.7L57.2 46.1M51.4 40.1L55.5 37.6M40.2 54.9L38.6 59.6M42.1 53.0L41.3 56.9M35.2 43.8L30.4 43.4M45.5 55.3L46.0 58.9M34.8 39.2L32.6 37.9M41.3 55.5L40.1 60.3M44.2 54.6L44.3 59.5" stroke="rgb(168,132,120)" stroke-opacity="0.45" stroke-width="0.7"/>
<path d="M41.8 33.7L41.2 30.7M45.0 32.9L45.2 30.2M33.7 49.0L32.1 49.7M51.6 53.2L54.4 56.4M38.5 35.1L36.9 32.3M39.6 34.1L38.5 31.4" stroke="rgb(156,132,108)" stroke-opacity="0.45" stroke-width="0.7"/>
<path d="M37.7 41.0L35.2 39.6M44.9 38.9L45.6 34.7M37.7 43.2L34.8 42.6" stroke="rgb(216,156,156)" stroke-opacity="0.45" stroke-width="0.7"/>
<path d="M34.5 48.2L30.4 49.8M52.0 51.6L53.9 53.4" stroke="rgb(180,144,120)" stroke-opacity="0.45" stroke-width="0.7"/>
<path d="M43.6 53.1L43.4 56.3M51.7 38.7L53.3 37.5M35.5 48.6L33.4 49.7M51.0 38.5L52.3 37.4" stroke="rgb(168,120,120)" stroke-opacity="0.45" stroke-width="0.7"/>
<path d="M43.5 40.3L43.0 35.9" stroke="rgb(168,96,120)" stroke-opacity="0.45" stroke-width="0.7"/>
<path d="M51.4 50.8L54.8 53.8M34.4 41.4L32.4 40.7M35.0 41.6L31.7 40.6M34.8 48.3L33.1 49.0" stroke="rgb(192,156,144)" stroke-opacity="0.45" stroke-width="0.7"/>
<path d="M37.4 54.7L34.9 58.7M30.7 46.4L28.1 46.8M46.8 57.6L47.5 60.9M44.6 57.4L44.7 60.1M42.5 31.4L42.2 28.5M56.5 51.8L58.8 53.1" stroke="rgb(156,132,120)" stroke-opacity="0.45" stroke-width="0.7"/>
<path d="M28.6 42.9L26.0 42.7M50.0 58.3L51.2 61.0M29.3 46.3L27.5 46.6M32.0 50.0L28.4 51.6M36.9 55.9L35.3 58.6M30.7 38.1L26.7 36.1M46.5 58.5L47.0 61.7M52.8 55.8L55.5 59.2" stroke="rgb(156,144,120)" stroke-opacity="0.45" stroke-width="0.7"/>
<path d="M51.1 32.1L52.3 29.9M37.2 56.1L35.6 58.7M53.4 33.9L55.1 32.0M33.0 35.8L30.5 33.9M34.9 33.7L33.6 32.1" stroke="rgb(204,180,168)" stroke-opacity="0.45" stroke-width="0.7"/>
<path d="M44.8 41.8L45.8 38.3" stroke="rgb(228,168,192)" stroke-opacity="0.45" stroke-width="0.7"/>
<path d="M33.3 44.8L31.1 44.8M52.4 43.5L57.0 42.9" stroke="rgb(168,120,108)" stroke-opacity="0.45" stroke-width="0.7"/>
<path d="M42.5 42.4L40.8 39.9M42.3 47.1L41.1 48.9" stroke="rgb(228,180,204)" stroke-opacity="0.45" stroke-width="0.7"/>
<path d="M47.3 40.0L50.0 36.2M38.9 47.3L36.6 48.6M40.9 50.0L39.4 52.7" stroke="rgb(168,108,120)" stroke-opacity="0.45" stroke-width="0.7"/>
<path d="M56.1 48.2L57.9 48.7M32.2 51.0L29.9 52.2M56.2 42.4L58.9 41.9M35.6 52.1L33.6 53.9M32.9 52.1L30.0 54.1M36.1 53.4L33.5 56.3M38.4 34.5L36.0 30.2M50.6 32.5L51.4 31.0" stroke="rgb(204,180,156)" stroke-opacity="0.45" stroke-width="0.7"/>
<path d="M57.7 50.1L61.3 51.5" stroke="rgb(156,144,132)" stroke-opacity="0.45" stroke-width="0.7"/>
<path d="M51.9 40.1L53.7 39.1M51.6 40.8L54.9 39.1" stroke="rgb(216,168,156)" stroke-opacity="0.45" stroke-width="0.7"/>
<path d="M51.0 41.8L53.8 40.7M42.3 37.3L41.5 33.8M40.8 37.8L39.9 36.0M38.3 47.9L35.8 49.3M47.2 51.1L48.1 52.9" stroke="rgb(180,120,120)" stroke-opacity="0.45" stroke-width="0.7"/>
<path d="M45.5 46.9L47.2 49.5M46.3 43.1L49.4 41.1" stroke="rgb(192,132,156)" stroke-opacity="0.45" stroke-width="0.7"/>
<path d="M43.3 53.9L43.2 55.8M50.1 37.1L51.8 34.9M45.4 53.8L46.1 57.9M51.3 50.1L53.8 52.0" stroke="rgb(204,156,144)" stroke-opacity="0.45" stroke-width="0.7"/>
<path d="M30.9 38.0L28.2 36.7M33.3 35.8L31.5 34.2M37.7 54.8L35.7 58.1M53.8 36.3L56.0 34.4M56.2 46.9L60.9 47.9" stroke="rgb(168,144,132)" stroke-opacity="0.45" stroke-width="0.7"/>
<path d="M29.1 41.2L26.0 40.5M57.1 37.8L61.1 35.8M52.8 32.3L54.7 29.6M31.6 34.5L30.0 33.2M30.5 50.1L27.5 51.3" stroke="rgb(204,192,168)" stroke-opacity="0.45" stroke-width="0.7"/>
<path d="M45.9 36.6L46.4 34.7" stroke="rgb(156,108,108)" stroke-opacity="0.45" stroke-width="0.7"/>
<path d="M40.8 49.3L39.4 51.3" stroke="rgb(204,144,156)" stroke-opacity="0.45" stroke-width="0.7"/>
<path d="M43.3 47.3L42.4 51.2" stroke="rgb(228,156,180)" stroke-opacity="0.45" stroke-width="0.7"/>
<path d="M46.6 47.8L48.3 49.9M46.8 42.6L49.8 40.6M43.4 48.0L42.8 51.3M44.6 40.9L45.2 37.2M47.0 43.9L51.7 42.8M47.5 45.1L50.3 45.6" stroke="rgb(216,144,168)" stroke-opacity="0.45" stroke-width="0.7"/>
<path d="M35.8 41.1L33.5 40.1M40.2 54.1L39.6 55.6M40.3 36.4L39.3 34.1" stroke="rgb(180,132,120)" stroke-opacity="0.45" stroke-width="0.7"/>
<path d="M41.3 49.2L39.5 52.4M44.8 39.7L45.2 36.8M47.9 41.8L51.3 39.5M39.1 46.8L37.3 47.6" stroke="rgb(180,108,120)" stroke-opacity="0.45" stroke-width="0.7"/>
<path d="M43.4 40.3L43.0 37.3M40.4 45.1L36.0 45.8M46.0 41.4L47.7 38.9M45.3 41.0L46.9 36.6" stroke="rgb(204,132,156)" stroke-opacity="0.45" stroke-width="0.7"/>
<path d="M46.1 36.3L47.4 31.5M35.6 43.0L33.8 42.7M52.4 48.0L54.5 48.9" stroke="rgb(204,156,156)" stroke-opacity="0.45" stroke-width="0.7"/>
<path d="M42.7 46.6L41.2 49.1M46.5 44.0L48.5 43.6M44.7 41.2L45.1 39.3M45.0 46.9L46.2 49.5" stroke="rgb(192,144,168)" stroke-opacity="0.45" stroke-width="0.7"/>
<path d="M38.7 35.7L36.6 32.1M41.4 55.7L40.8 58.3" stroke="rgb(192,168,144)" stroke-opacity="0.45" stroke-width="0.7"/>
<path d="M42.4 48.0L41.4 50.1" stroke="rgb(180,108,144)" stroke-opacity="0.45" stroke-width="0.7"/>
<path d="M42.1 49.7L41.1 52.6" stroke="rgb(204,132,144)" stroke-opacity="0.45" stroke-width="0.7"/>
<path d="M45.5 47.2L47.1 50.1" stroke="rgb(180,120,144)" stroke-opacity="0.45" stroke-width="0.7"/>
<path d="M41.5 42.6L40.1 41.5M42.6 46.9L41.6 48.8" stroke="rgb(240,192,216)" stroke-opacity="0.45" stroke-width="0.7"/>
<path d="M40.4 38.9L39.1 36.9M45.1 38.8L45.6 35.6M46.7 48.2L49.7 52.2" stroke="rgb(168,96,108)" stroke-opacity="0.45" stroke-width="0.7"/>
<path d="M48.0 45.0L50.7 45.3" stroke="rgb(216,132,168)" stroke-opacity="0.45" stroke-width="0.7"/>
<path d="M41.7 45.5L38.5 46.9" stroke="rgb(240,180,216)" stroke-opacity="0.45" stroke-width="0.7"/>
<path d="M47.7 45.8L52.0 47.3M40.5 47.5L38.1 49.5" stroke="rgb(180,96,120)" stroke-opacity="0.45" stroke-width="0.7"/>
<path d="M42.3 42.8L38.9 39.5" stroke="rgb(192,120,156)" stroke-opacity="0.45" stroke-width="0.7"/>
<path d="M43.2 56.0L43.1 57.6" stroke="rgb(168,132,108)" stroke-opacity="0.45" stroke-width="0.7"/>
<path d="M40.1 44.6L35.4 44.7" stroke="rgb(216,132,156)" stroke-opacity="0.45" stroke-width="0.7"/>
<path d="M49.6 29.4h.1M44.6 26.0h.1M31.0 38.5h.1M35.0 58.5h.1M50.8 27.3h.1M34.3 60.7h.1M27.3 49.5h.1M46.2 59.5h.1M60.4 36.7h.1M27.0 35.8h.1M30.1 48.2h.1M45.0 60.1h.1" stroke="rgb(195,180,165)" stroke-opacity="0.5" stroke-width="1.1" stroke-linecap="round"/>
<path d="M48.5 48.0h.1M48.5 38.5h.1M36.5 42.7h.1M43.1 36.9h.1" stroke="rgb(225,150,165)" stroke-opacity="0.5" stroke-width="1.1" stroke-linecap="round"/>
<path d="M42.3 38.7h.1M45.4 37.5h.1M48.9 40.2h.1" stroke="rgb(165,90,105)" stroke-opacity="0.5" stroke-width="1.1" stroke-linecap="round"/>
<path d="M43.9 33.2h.1M30.1 40.9h.1M33.3 48.8h.1M40.7 56.5h.1M55.4 55.7h.1M49.9 33.1h.1M53.2 37.7h.1M57.2 47.1h.1M47.4 31.9h.1" stroke="rgb(210,180,165)" stroke-opacity="0.5" stroke-width="1.1" stroke-linecap="round"/>
<path d="M36.4 59.4h.1M35.6 59.5h.1M31.9 29.8h.1" stroke="rgb(165,150,135)" stroke-opacity="0.5" stroke-width="1.1" stroke-linecap="round"/>
<path d="M40.5 63.2h.1M32.8 60.1h.1M57.2 33.2h.1" stroke="rgb(195,195,165)" stroke-opacity="0.5" stroke-width="1.1" stroke-linecap="round"/>
<path d="M47.7 37.3h.1M39.2 37.7h.1" stroke="rgb(150,90,105)" stroke-opacity="0.5" stroke-width="1.1" stroke-linecap="round"/>
<path d="M49.9 28.8h.1M31.2 53.1h.1" stroke="rgb(165,150,120)" stroke-opacity="0.5" stroke-width="1.1" stroke-linecap="round"/>
<path d="M59.4 40.2h.1M29.9 32.4h.1M46.2 63.5h.1M28.8 37.7h.1M44.9 63.7h.1M38.2 62.3h.1M45.7 61.6h.1M25.9 38.7h.1M59.1 54.4h.1M28.7 37.7h.1M54.5 32.2h.1M62.6 48.0h.1M26.8 37.9h.1M40.5 61.5h.1" stroke="rgb(210,195,180)" stroke-opacity="0.5" stroke-width="1.1" stroke-linecap="round"/>
<path d="M36.9 34.2h.1M43.3 55.9h.1M40.0 32.6h.1M52.4 34.9h.1M47.2 57.7h.1" stroke="rgb(195,165,150)" stroke-opacity="0.5" stroke-width="1.1" stroke-linecap="round"/>
<path d="M37.9 38.9h.1M46.3 51.7h.1M36.3 49.0h.1M38.1 51.2h.1M36.5 39.7h.1M51.9 47.4h.1M42.8 53.6h.1" stroke="rgb(165,105,105)" stroke-opacity="0.5" stroke-width="1.1" stroke-linecap="round"/>
<path d="M45.3 40.1h.1" stroke="rgb(195,135,165)" stroke-opacity="0.5" stroke-width="1.1" stroke-linecap="round"/>
<path d="M43.1 40.5h.1M45.5 40.6h.1" stroke="rgb(225,180,210)" stroke-opacity="0.5" stroke-width="1.1" stroke-linecap="round"/>
<path d="M52.3 34.2h.1M29.8 39.3h.1M56.0 40.4h.1M30.9 38.7h.1M48.0 30.7h.1M58.2 37.8h.1M50.2 55.7h.1" stroke="rgb(165,135,120)" stroke-opacity="0.5" stroke-width="1.1" stroke-linecap="round"/>
<path d="M44.8 49.1h.1" stroke="rgb(240,180,195)" stroke-opacity="0.5" stroke-width="1.1" stroke-linecap="round"/>
<path d="M53.0 35.3h.1M53.0 51.5h.1M39.6 32.1h.1M31.4 45.0h.1M40.7 56.0h.1M55.4 53.8h.1M40.5 30.7h.1M32.1 47.5h.1M55.7 48.3h.1" stroke="rgb(150,120,105)" stroke-opacity="0.5" stroke-width="1.1" stroke-linecap="round"/>
<path d="M46.7 42.1h.1M47.7 46.0h.1" stroke="rgb(240,195,210)" stroke-opacity="0.5" stroke-width="1.1" stroke-linecap="round"/>
<path d="M27.0 46.3h.1M43.2 60.6h.1M52.2 61.6h.1M33.4 29.3h.1M59.6 47.2h.1" stroke="rgb(210,195,165)" stroke-opacity="0.5" stroke-width="1.1" stroke-linecap="round"/>
<path d="M29.2 39.4h.1M34.7 57.5h.1M31.6 34.9h.1M34.1 33.0h.1M38.6 29.5h.1M29.9 47.4h.1" stroke="rgb(150,135,105)" stroke-opacity="0.5" stroke-width="1.1" stroke-linecap="round"/>
<path d="M44.7 55.5h.1M55.2 43.1h.1" stroke="rgb(165,120,105)" stroke-opacity="0.5" stroke-width="1.1" stroke-linecap="round"/>
<path d="M41.7 59.3h.1M30.5 48.2h.1M51.0 58.1h.1" stroke="rgb(195,180,150)" stroke-opacity="0.5" stroke-width="1.1" stroke-linecap="round"/>
<path d="M43.3 25.9h.1M55.0 57.9h.1M55.4 32.1h.1M60.3 35.2h.1M48.4 62.4h.1M58.3 44.2h.1" stroke="rgb(150,135,120)" stroke-opacity="0.5" stroke-width="1.1" stroke-linecap="round"/>
<path d="M43.9 36.0h.1M50.0 49.8h.1" stroke="rgb(210,150,150)" stroke-opacity="0.5" stroke-width="1.1" stroke-linecap="round"/>
<path d="M37.9 52.6h.1M45.0 35.2h.1M33.1 45.6h.1M52.2 50.1h.1M36.0 38.3h.1M52.2 52.1h.1" stroke="rgb(210,165,165)" stroke-opacity="0.5" stroke-width="1.1" stroke-linecap="round"/>
<path d="M43.8 50.8h.1" stroke="rgb(165,105,120)" stroke-opacity="0.5" stroke-width="1.1" stroke-linecap="round"/>
<path d="M33.5 42.8h.1" stroke="rgb(150,105,105)" stroke-opacity="0.5" stroke-width="1.1" stroke-linecap="round"/>
<path d="M46.7 31.5h.1" stroke="rgb(225,195,165)" stroke-opacity="0.5" stroke-width="1.1" stroke-linecap="round"/>
<path d="M46.6 47.5h.1M46.6 41.3h.1M45.9 46.7h.1" stroke="rgb(240,195,225)" stroke-opacity="0.5" stroke-width="1.1" stroke-linecap="round"/>
<path d="M48.6 39.4h.1M38.0 40.2h.1" stroke="rgb(210,135,150)" stroke-opacity="0.5" stroke-width="1.1" stroke-linecap="round"/>
<path d="M39.1 36.4h.1M50.5 51.6h.1" stroke="rgb(225,165,165)" stroke-opacity="0.5" stroke-width="1.1" stroke-linecap="round"/>
<path d="M35.1 38.6h.1M48.5 34.4h.1" stroke="rgb(225,180,165)" stroke-opacity="0.5" stroke-width="1.1" stroke-linecap="round"/>
<path d="M35.0 37.6h.1M33.7 45.2h.1M34.9 37.9h.1M54.2 48.6h.1M43.6 54.5h.1" stroke="rgb(210,165,150)" stroke-opacity="0.5" stroke-width="1.1" stroke-linecap="round"/>
<path d="M48.1 34.8h.1" stroke="rgb(195,150,150)" stroke-opacity="0.5" stroke-width="1.1" stroke-linecap="round"/>
<path d="M45.4 50.5h.1" stroke="rgb(165,90,120)" stroke-opacity="0.5" stroke-width="1.1" stroke-linecap="round"/>
<path d="M43.0 49.4h.1" stroke="rgb(240,165,195)" stroke-opacity="0.5" stroke-width="1.1" stroke-linecap="round"/>
<path d="M48.7 37.7h.1" stroke="rgb(210,150,165)" stroke-opacity="0.5" stroke-width="1.1" stroke-linecap="round"/>
<path d="M46.9 39.2h.1" stroke="rgb(225,150,180)" stroke-opacity="0.5" stroke-width="1.1" stroke-linecap="round"/>
<path d="M38.2 45.5h.1" stroke="rgb(180,105,120)" stroke-opacity="0.5" stroke-width="1.1" stroke-linecap="round"/>
<path d="M51.4 55.4h.1" stroke="rgb(210,180,150)" stroke-opacity="0.5" stroke-width="1.1" stroke-linecap="round"/>
</g>
</svg>
<svg x="82.2" y="545.3" width="87.8" height="87.3" overflow="hidden">
<rect width="100%" height="100%" fill="rgb(25,133,200)"/>
<g filter="url(#soft)">
<radialGradient id="ag4" gradientUnits="userSpaceOnUse" cx="44.8" cy="43.2" r="42.4"><stop offset="0" stop-color="rgb(51,123,109)"/><stop offset="0.856" stop-color="rgb(46,120,106)"/><stop offset="0.811" stop-color="rgb(38,115,100)"/><stop offset="0.877" stop-color="rgb(34,103,90)"/><stop offset="1" stop-color="rgb(34,103,90)"/></radialGradient>
<linearGradient id="rg4" gradientUnits="userSpaceOnUse" x1="23.6" y1="0.8" x2="66.0" y2="85.6"><stop offset="0" stop-color="rgb(60,125,150)"/><stop offset="0.45" stop-color="rgb(95,140,160)"/><stop offset="0.75" stop-color="rgb(160,168,188)"/><stop offset="1" stop-color="rgb(185,188,205)"/></linearGradient>
<linearGradient id="lg4" gradientUnits="userSpaceOnUse" x1="23.6" y1="0.8" x2="66.0" y2="85.6"><stop offset="0" stop-color="rgb(100,145,158)"/><stop offset="0.5" stop-color="rgb(150,175,175)"/><stop offset="1" stop-color="rgb(215,222,215)"/></linearGradient>
<circle cx="44.8" cy="43.2" r="42.4" fill="url(#ag4)"/>
<circle cx="44.8" cy="43.2" r="40.10" fill="none" stroke="url(#rg4)" stroke-width="4.2"/>
<circle cx="44.8" cy="43.2" r="37.80" fill="none" stroke="url(#lg4)" stroke-width="1.4"/>
<circle cx="44.8" cy="43.2" r="42.05" fill="none" stroke="rgb(110,118,155)" stroke-width="0.8"/>
<radialGradient id="cg4" gradientUnits="userSpaceOnUse" cx="44.8" cy="43.2" r="35.30"><stop offset="0.000" stop-color="rgb(195,160,90)"/><stop offset="0.113" stop-color="rgb(198,172,120)"/><stop offset="0.236" stop-color="rgb(195,185,178)"/><stop offset="0.425" stop-color="rgb(200,195,195)"/><stop offset="0.755" stop-color="rgb(205,200,200)"/><stop offset="0.877" stop-color="rgb(195,193,193)"/><stop offset="1" stop-color="rgb(195,193,193)" stop-opacity="0"/></radialGradient>
<circle cx="44.8" cy="43.2" r="35.30" fill="url(#cg4)"/>
<path d="M15.0 47.1L12.1 47.4M45.6 68.9L45.8 76.2M48.1 15.4L48.6 11.3M76.5 46.1L77.6 46.3M52.3 11.1L52.3 11.1M74.2 28.7L74.3 28.6M73.6 32.1L75.6 31.4M75.6 37.7L77.2 37.4M54.3 69.2L55.5 72.4M69.0 25.3L71.3 23.6M18.4 36.0L14.9 35.0M67.6 64.7L68.8 65.8M21.2 29.2L17.7 27.1M66.8 22.4L68.8 20.6M16.1 34.2L13.4 33.3M13.7 37.9L12.3 37.7M76.3 40.6L77.7 40.5M75.3 43.0L77.8 43.0M22.9 18.9L22.7 18.7M71.7 50.9L76.5 52.3M14.9 47.7L12.2 48.1M52.8 11.4L52.9 11.2M45.2 34.7L45.6 26.8M49.5 76.1L49.5 75.8M69.2 59.8L72.1 61.7M37.8 12.6L37.4 11.1M32.6 18.2L30.3 13.6M24.0 67.9L23.6 68.4M73.1 57.4L74.3 58.0M70.3 41.4L77.7 40.9M64.6 60.8L68.4 64.2M61.8 69.0L63.0 70.7M49.9 69.1L51.2 75.5M15.5 41.3L11.9 41.0M13.9 36.3L12.6 36.0M28.2 63.8L24.5 68.5M17.5 24.3L17.7 24.5M24.0 58.8L20.3 61.6M15.6 30.9L14.4 30.4M20.3 25.8L17.9 24.1M69.1 47.1L76.6 48.3M57.4 65.0L61.3 71.6M73.3 49.3L77.0 50.1M38.6 13.6L38.1 10.9M65.9 25.9L68.4 23.8M52.4 49.1L56.8 52.5M22.7 64.1L20.9 65.9M26.4 65.9L24.0 68.8M30.0 16.0L29.0 14.2M21.8 28.5L17.1 25.5M56.1 12.4L56.2 12.3M30.6 66.5L27.6 71.3M57.2 74.1L57.1 73.8M20.4 63.0L19.2 63.9M44.8 15.8L44.8 12.0M42.9 68.2L42.3 75.9M72.4 58.3L73.7 59.0M72.8 60.1L73.0 60.3M72.0 55.2L75.0 56.5M17.6 48.1L12.4 49.1M65.6 19.7L66.6 18.5M40.0 12.7L39.7 10.6M18.4 60.1L17.0 61.0M23.4 67.8L23.2 68.1M66.4 63.2L69.0 65.6M39.3 15.4L38.4 10.9M17.8 52.2L13.5 53.6M33.1 14.4L32.3 12.7M57.8 72.1L58.3 73.3" stroke="rgb(204,204,204)" stroke-opacity="0.45" stroke-width="0.7"/>
<path d="M24.2 37.5L18.8 36.0M46.9 53.6L47.8 58.1M22.2 51.7L16.0 54.0M27.1 25.9L23.6 22.6M33.4 54.2L31.2 56.3M38.6 52.1L34.5 58.0M61.9 34.1L65.7 32.1M31.0 41.9L27.4 41.6M36.1 51.1L34.1 52.9M48.9 53.5L52.1 61.2M33.9 45.8L28.0 47.1M68.4 34.0L72.8 32.3M27.5 31.4L23.1 28.4M53.2 58.7L55.6 63.3M59.1 33.8L62.9 31.3M30.8 64.0L28.1 68.0M60.1 55.1L62.8 57.2M36.9 28.1L33.5 21.7M30.5 30.3L25.4 25.7M35.1 45.6L30.8 46.6M63.7 55.4L67.0 57.6M51.8 62.1L53.6 67.2M23.2 53.1L18.1 55.4M41.2 27.0L40.5 23.5M41.5 25.7L40.8 21.9M54.8 62.6L56.1 65.2M28.7 34.2L25.5 32.4M64.6 28.5L68.6 25.6M36.7 42.8L28.8 42.4M28.6 59.4L24.2 63.9M53.5 57.3L55.2 60.0M54.9 18.5L55.9 15.9M67.9 45.8L73.9 46.4M22.0 46.7L19.1 47.1M38.7 32.0L36.7 28.3M63.2 55.2L69.7 59.4M33.9 24.6L30.8 19.3M19.9 37.4L16.3 36.5M53.3 36.8L58.6 32.9M63.3 55.2L68.2 58.4M64.9 35.2L68.4 33.8M60.2 38.2L62.9 37.3M62.8 28.9L67.6 25.1M36.7 28.9L34.8 25.5M48.3 24.0L49.6 16.7M65.8 34.4L72.3 31.6M29.2 28.5L26.2 25.7M30.8 49.4L24.5 52.1M32.9 40.7L27.3 39.5M38.5 54.6L34.7 61.5M46.2 57.3L46.7 62.4" stroke="rgb(216,216,216)" stroke-opacity="0.45" stroke-width="0.7"/>
<path d="M51.1 51.1L53.9 54.6M37.2 49.8L32.9 53.5M49.4 32.3L51.5 27.4" stroke="rgb(168,168,168)" stroke-opacity="0.45" stroke-width="0.7"/>
<path d="M48.2 49.0L50.9 53.6M34.5 37.1L30.6 34.9M54.0 55.1L56.1 57.9M49.9 48.8L53.1 52.2M32.1 45.3L29.2 45.8M40.3 38.2L36.4 33.8M45.3 27.6L45.6 20.6M39.9 31.1L38.7 28.0M55.1 41.2L62.7 39.7M48.1 28.7L49.6 22.1M50.5 43.0L58.4 42.7M53.4 27.1L55.4 23.4M35.3 37.2L31.7 34.9M53.5 46.5L59.3 48.7M62.1 49.0L64.8 50.0M55.7 67.7L57.0 70.6M51.8 52.3L55.4 57.0M27.9 50.0L20.8 52.9M34.9 26.8L32.5 22.8M39.4 27.7L37.1 21.0M37.4 29.8L34.1 23.8M57.1 39.9L61.8 38.6M26.3 51.5L22.6 53.1M62.2 45.1L66.9 45.6M50.7 38.5L53.2 36.4M36.2 48.0L29.0 52.0M52.3 43.1L58.3 43.1M42.1 50.7L39.8 57.4" stroke="rgb(216,204,204)" stroke-opacity="0.45" stroke-width="0.7"/>
<path d="M39.6 29.4L38.1 25.3M44.9 53.8L45.0 61.5M35.8 25.2L32.4 18.5M28.7 72.1L28.7 72.0M61.1 45.9L64.9 46.5M38.9 66.6L38.2 69.6M25.5 21.6L22.9 18.7M13.8 45.8L11.9 45.9M48.2 60.4L48.8 63.3M50.2 71.7L50.9 75.6M69.1 42.3L72.4 42.2M37.9 30.0L35.9 26.2M62.4 52.3L67.4 54.9M68.7 39.0L71.5 38.5M53.6 13.9L54.2 11.6M60.8 57.2L64.8 60.7M32.1 23.9L29.6 20.0M33.0 22.3L31.6 19.8M35.7 27.7L34.2 25.1M27.1 62.9L22.9 67.6M34.9 56.0L30.5 61.7M19.7 34.7L13.7 32.7M71.6 30.8L74.7 29.4M21.2 39.4L13.0 38.1M49.2 33.9L52.6 26.8M50.5 57.3L51.9 60.6M25.7 48.9L19.9 50.6M38.8 57.7L37.2 61.3M26.5 60.4L24.5 62.3M71.7 40.5L76.9 40.0M61.6 19.9L64.1 16.5M59.0 51.1L64.0 54.0M65.3 60.9L69.7 64.8M61.9 36.4L64.9 35.2M53.5 42.8L59.9 42.5M55.9 45.4L62.2 46.6M36.9 53.9L33.1 59.2M70.8 26.9L72.7 25.7M52.9 53.8L57.7 60.1M63.9 36.3L71.0 33.7M17.2 49.1L14.1 49.7M12.1 37.5L12.3 37.6M23.1 22.5L20.9 20.5M57.0 55.5L59.2 57.8M27.8 49.3L21.7 51.5M58.7 69.2L60.1 71.8M27.7 55.0L21.3 59.4M34.7 43.4L30.4 43.5M36.0 59.9L32.4 66.7M13.0 52.3L13.1 52.3M72.5 35.0L76.4 33.8" stroke="rgb(192,180,180)" stroke-opacity="0.45" stroke-width="0.7"/>
<path d="M35.6 36.6L32.3 34.3M36.0 40.6L30.9 39.2M55.7 40.2L61.9 38.4M51.0 53.9L52.6 56.7M53.5 40.4L60.4 38.2M53.4 47.2L59.2 49.9M50.4 37.8L52.9 35.5M54.8 40.4L62.2 38.3M43.4 28.7L43.1 25.5M51.9 34.8L57.2 28.5M46.7 49.1L48.6 54.9M43.5 34.8L42.8 30.8M29.6 39.1L24.3 37.7M33.6 44.9L26.2 46.1M57.5 46.1L61.5 47.0M35.1 40.3L29.9 38.8M40.5 40.6L34.6 37.0M29.3 34.9L24.2 32.1M41.3 36.9L38.2 31.4M24.3 53.3L20.9 55.0M36.7 50.6L31.9 54.9M38.7 38.8L34.7 35.9M39.5 33.5L35.8 26.6M52.5 37.5L56.3 34.7M38.5 39.7L31.5 35.9M38.8 50.4L34.9 55.0M54.9 39.7L57.9 38.7M41.4 46.9L36.7 52.0M47.9 30.2L48.6 27.3M46.3 32.6L46.7 29.7M33.9 37.7L30.5 36.0M46.3 53.2L47.1 58.6M46.3 48.1L48.5 55.3M53.3 47.9L57.5 50.3M52.3 43.2L58.9 43.3M38.9 45.6L35.3 47.1" stroke="rgb(180,168,168)" stroke-opacity="0.45" stroke-width="0.7"/>
<path d="M53.7 13.1L54.1 11.6M65.1 19.6L66.3 18.2M47.4 75.5L47.4 76.1M51.9 59.9L54.2 65.2M15.5 31.7L14.1 31.1M25.5 56.9L19.9 60.9M61.0 60.9L64.5 64.8M51.8 65.3L54.1 72.4M67.2 61.2L70.5 63.9M58.1 14.4L58.6 13.3M65.3 18.2L65.7 17.7M51.0 57.9L54.1 65.1M20.3 24.0L18.9 22.8M33.5 36.6L26.6 32.5M43.8 59.1L43.7 61.8M45.7 57.1L46.1 64.0M42.7 73.1L42.5 75.8M34.1 33.7L29.1 29.1M32.4 30.1L30.5 28.2M36.9 34.7L32.9 30.4M32.0 25.7L27.4 19.4M37.0 42.1L29.4 41.0M28.8 24.6L26.1 21.4M73.7 46.0L76.8 46.3M52.0 71.2L53.1 75.1M73.1 26.0L73.0 26.1M32.9 24.2L31.1 21.4M69.9 58.6L72.9 60.4M76.3 49.9L77.1 50.0M47.2 23.2L47.8 18.8M40.8 15.4L40.4 12.7M66.2 52.3L68.9 53.5M34.2 26.7L30.9 21.6M60.4 20.2L63.3 15.9M55.4 31.9L61.0 25.9M34.5 34.2L31.4 31.5M63.2 53.4L68.8 56.5M37.2 74.7L37.1 75.2M46.1 64.3L46.5 69.3M32.5 54.5L28.6 58.1M20.5 57.3L16.3 59.8M33.1 51.8L27.4 56.0M68.8 29.8L73.6 27.1M28.3 41.8L21.2 41.1M52.2 62.2L54.4 67.9M27.3 16.3L26.8 15.6M14.4 40.0L12.0 39.7M19.6 62.9L18.8 63.5M68.3 55.4L73.5 58.1M19.0 22.8L18.9 22.8M56.8 47.1L64.0 49.5M20.5 48.6L17.6 49.2M15.1 40.5L12.0 40.2M53.7 25.9L56.2 21.0M32.1 56.0L30.2 58.0M52.2 54.2L55.8 59.5M35.2 58.4L33.5 61.0M64.9 55.4L68.5 57.6M55.5 56.2L59.1 60.6M30.5 49.5L23.3 52.7M32.2 46.5L26.0 48.1M48.6 28.9L50.4 21.9M59.0 39.1L62.0 38.2M43.6 31.9L43.1 26.8M53.3 35.3L57.2 31.7M38.7 58.3L36.5 63.8M47.7 59.7L49.1 67.4M52.6 33.7L55.8 29.7M33.5 32.0L29.8 28.2M66.8 55.5L71.6 58.1M41.3 61.1L39.9 68.3M13.8 39.1L12.1 38.8M34.1 31.4L30.6 27.5M64.5 37.6L70.0 36.0M40.9 33.9L39.7 30.9M28.7 58.6L25.7 61.4" stroke="rgb(180,180,180)" stroke-opacity="0.45" stroke-width="0.7"/>
<path d="M37.7 50.2L34.6 53.2M52.2 39.0L55.8 36.9M34.9 40.5L30.6 39.3M52.1 43.8L59.7 44.4M50.2 49.7L51.9 51.9M35.1 38.5L30.7 36.3M52.3 46.2L56.4 47.9M37.8 41.5L32.0 40.2" stroke="rgb(180,180,168)" stroke-opacity="0.45" stroke-width="0.7"/>
<path d="M36.8 68.3L36.0 70.9M24.4 54.1L18.7 57.1M63.0 35.8L65.6 34.7M28.2 28.9L25.3 26.5M67.4 49.5L73.1 51.1M29.3 59.0L24.4 64.0M66.6 31.0L69.6 29.4M27.4 59.0L25.0 61.2M64.7 43.7L70.9 43.8M30.4 56.0L26.8 59.3" stroke="rgb(228,228,228)" stroke-opacity="0.45" stroke-width="0.7"/>
<path d="M41.2 39.1L39.3 37.0M40.9 44.9L35.5 47.2M46.7 39.4L49.1 34.5M40.7 44.6L36.0 46.2" stroke="rgb(180,168,144)" stroke-opacity="0.45" stroke-width="0.7"/>
<path d="M45.0 63.3L45.1 70.7M57.1 23.3L59.1 19.9M41.3 35.3L38.8 29.6M38.1 55.3L34.1 62.5M43.8 53.4L43.2 59.2M31.6 42.6L23.9 42.2M31.1 49.4L25.5 52.0M38.2 33.0L35.9 29.4M41.7 34.5L39.3 28.0M22.6 38.8L16.3 37.5M53.1 31.0L56.9 25.4M56.9 31.0L61.3 26.6M51.6 57.3L52.9 60.0M47.4 60.9L48.0 65.2M38.9 33.6L35.7 28.3M43.9 26.6L43.4 18.4M62.1 29.5L67.1 25.6M41.6 65.9L41.2 69.2M39.3 29.2L36.6 22.4M30.0 45.5L26.3 46.0M44.5 64.3L44.5 67.1M54.4 23.6L57.5 17.1M28.2 25.7L23.3 20.5M65.7 48.0L68.3 48.6M30.3 37.7L22.6 34.8M54.2 54.5L56.3 57.1M61.1 59.3L64.4 62.5M67.4 54.5L71.2 56.4M56.8 45.1L62.9 46.1M56.3 64.6L57.5 67.0" stroke="rgb(228,216,216)" stroke-opacity="0.45" stroke-width="0.7"/>
<path d="M47.3 34.3L48.1 31.3M51.7 43.2L58.0 43.2M51.8 47.9L54.9 50.0M49.9 43.0L55.0 42.9M44.2 36.4L43.7 29.4M50.0 41.3L54.9 39.5M51.2 43.4L55.1 43.5M40.1 42.8L34.4 42.4M45.5 38.8L46.6 31.6M45.4 49.0L45.9 52.7" stroke="rgb(180,168,156)" stroke-opacity="0.45" stroke-width="0.7"/>
<path d="M47.2 39.8L49.8 36.0" stroke="rgb(180,168,132)" stroke-opacity="0.45" stroke-width="0.7"/>
<path d="M60.7 23.4L65.3 17.6M55.1 11.7L55.0 11.9M25.2 27.9L19.7 23.6M16.9 36.9L12.7 35.9M58.7 65.8L61.0 69.6M13.0 33.4L13.3 33.4M67.9 29.6L71.6 27.3M71.0 35.3L76.3 33.6M67.8 37.4L75.2 35.5M74.6 41.2L77.7 41.0M52.1 72.7L52.7 75.2M50.4 67.4L51.1 70.4M43.8 68.1L43.6 72.3M52.5 17.3L53.4 14.3M55.9 71.9L56.7 74.0M63.2 50.9L68.5 53.2M69.4 53.2L74.6 55.2M31.1 15.5L30.2 13.7M64.0 35.4L67.4 34.0M69.2 35.2L74.9 33.3M57.6 20.4L59.9 16.4M36.9 15.9L35.6 11.5M40.1 68.9L38.9 75.6M61.9 65.5L64.9 69.3M32.5 60.8L29.2 65.5M48.8 18.4L50.1 10.7M37.6 61.2L35.5 66.4M19.0 30.6L15.2 28.7M64.8 18.3L65.4 17.5M60.3 26.5L64.3 22.2M75.9 55.1L75.6 55.0M47.4 74.7L47.5 76.1M66.8 42.4L71.6 42.2M28.7 62.2L26.0 65.4M18.6 29.8L15.5 28.2" stroke="rgb(192,192,192)" stroke-opacity="0.45" stroke-width="0.7"/>
<path d="M43.7 38.9L42.3 33.6M46.4 39.2L48.5 33.8M40.2 44.8L36.0 46.3M44.6 47.5L44.3 52.9M49.6 40.0L52.6 37.9M50.1 42.7L53.5 42.5M48.1 39.7L50.5 37.2M49.1 44.5L53.4 45.8" stroke="rgb(216,204,180)" stroke-opacity="0.45" stroke-width="0.7"/>
<path d="M42.0 49.2L40.3 52.7M40.8 51.6L39.3 54.8M39.0 43.2L33.9 43.3M52.6 40.0L56.3 38.5M38.4 38.0L34.1 34.5M36.1 43.1L31.9 43.0M40.4 36.8L38.2 33.7M49.7 45.6L54.8 48.2M46.1 52.8L46.8 57.6M51.9 47.5L57.5 50.9" stroke="rgb(216,216,204)" stroke-opacity="0.45" stroke-width="0.7"/>
<path d="M41.6 48.6L37.7 55.4M39.9 43.6L33.9 44.1M48.0 47.6L50.9 51.6M42.8 48.9L41.2 53.4M42.4 46.9L38.5 52.9M48.8 44.8L56.0 47.8" stroke="rgb(216,204,192)" stroke-opacity="0.45" stroke-width="0.7"/>
<path d="M49.5 47.2L53.4 50.5" stroke="rgb(204,192,192)" stroke-opacity="0.45" stroke-width="0.7"/>
<path d="M48.6 47.2L52.7 51.6M52.3 43.0L55.3 42.9M46.9 51.2L48.1 55.8M53.3 45.2L57.6 46.3M49.2 48.1L54.2 53.9" stroke="rgb(204,204,192)" stroke-opacity="0.45" stroke-width="0.7"/>
<path d="M42.8 39.2L41.1 35.9" stroke="rgb(216,204,168)" stroke-opacity="0.45" stroke-width="0.7"/>
<path d="M44.8 38.1L44.8 31.4M43.5 39.0L41.2 31.7M40.1 38.8L36.0 34.9M47.7 46.8L52.0 52.2M45.9 48.0L47.5 54.4M49.7 38.8L53.4 35.5M40.4 40.7L34.1 37.1M39.0 47.8L36.6 49.7" stroke="rgb(168,156,156)" stroke-opacity="0.45" stroke-width="0.7"/>
<path d="M53.4 40.2L56.2 39.2M36.9 40.6L31.8 38.9M39.4 40.7L32.7 37.5M38.0 40.2L31.9 37.6M42.6 37.4L40.3 31.3M49.4 39.2L55.2 34.1M40.5 37.0L36.1 30.8" stroke="rgb(168,168,156)" stroke-opacity="0.45" stroke-width="0.7"/>
<path d="M49.0 44.8L51.6 45.8" stroke="rgb(192,168,132)" stroke-opacity="0.45" stroke-width="0.7"/>
<path d="M41.7 40.4L38.7 37.7" stroke="rgb(216,192,168)" stroke-opacity="0.45" stroke-width="0.7"/>
<path d="M44.4 47.4L43.6 54.9M48.5 46.9L51.6 50.0" stroke="rgb(168,156,144)" stroke-opacity="0.45" stroke-width="0.7"/>
<path d="M45.4 38.9L45.8 35.9" stroke="rgb(180,156,132)" stroke-opacity="0.45" stroke-width="0.7"/>
<path d="M38.8 46.1L31.5 49.6" stroke="rgb(192,180,168)" stroke-opacity="0.45" stroke-width="0.7"/>
<path d="M41.5 46.2L39.3 48.1" stroke="rgb(204,192,156)" stroke-opacity="0.45" stroke-width="0.7"/>
<path d="M49.5 41.8L52.1 41.0" stroke="rgb(228,204,180)" stroke-opacity="0.45" stroke-width="0.7"/>
<path d="M23.7 27.4h.1M46.9 73.5h.1M38.4 65.2h.1M49.0 74.3h.1M45.0 60.0h.1M70.0 42.2h.1M31.1 32.8h.1M61.6 23.6h.1M37.9 65.4h.1M45.3 75.5h.1M34.1 55.0h.1M34.2 41.7h.1M67.1 32.9h.1M36.1 27.7h.1M54.1 20.3h.1M62.5 21.0h.1M56.2 61.4h.1M21.9 35.5h.1M54.7 31.8h.1M30.8 53.1h.1M54.7 72.3h.1M21.9 50.8h.1M66.9 28.7h.1M72.0 45.6h.1M63.2 62.6h.1M20.7 64.9h.1M45.3 73.1h.1M47.7 66.5h.1M50.1 11.7h.1M43.6 30.1h.1M18.1 53.2h.1M32.6 58.5h.1M32.4 63.4h.1M71.4 50.7h.1M74.4 33.0h.1M29.0 34.6h.1M65.3 33.4h.1M43.0 25.7h.1M20.7 42.2h.1M29.6 30.3h.1M51.4 63.3h.1M44.4 72.8h.1M29.0 18.5h.1M64.9 29.5h.1M67.2 37.1h.1M52.9 16.1h.1M75.0 48.7h.1M19.5 40.4h.1M25.1 28.3h.1M51.4 17.3h.1M30.7 62.5h.1M20.2 53.4h.1M40.7 56.8h.1M59.0 18.9h.1M22.6 29.4h.1M42.3 15.6h.1M20.1 52.7h.1M31.0 39.0h.1M27.6 18.7h.1M44.0 60.5h.1M30.8 34.9h.1M26.6 38.0h.1M21.6 42.8h.1M34.1 56.5h.1M33.6 37.1h.1M70.4 63.2h.1M65.6 26.5h.1M39.3 32.2h.1M41.1 18.0h.1M70.8 31.8h.1M56.6 18.1h.1M21.3 32.3h.1M38.3 60.5h.1M22.2 45.0h.1M14.2 40.7h.1M27.0 27.4h.1M53.8 20.4h.1M22.8 51.2h.1M58.3 16.4h.1M64.4 49.0h.1M23.3 55.7h.1M35.1 57.2h.1M47.1 17.3h.1M28.6 19.6h.1M20.5 34.3h.1M46.1 57.3h.1M60.2 25.9h.1M47.4 13.8h.1M71.4 35.6h.1M70.1 44.6h.1M36.5 21.8h.1M62.8 28.4h.1M52.4 71.3h.1M74.1 53.7h.1M59.9 36.1h.1M29.1 63.0h.1M47.2 60.5h.1M29.6 66.3h.1M32.9 20.0h.1M35.0 57.6h.1M24.3 66.9h.1M28.2 70.7h.1M51.1 31.5h.1M27.4 42.7h.1M47.4 74.5h.1M33.1 15.8h.1M31.1 47.8h.1M16.3 51.4h.1M17.4 52.8h.1M42.9 14.2h.1M23.8 62.9h.1M18.4 41.3h.1M21.2 38.3h.1M55.2 60.3h.1M27.4 26.7h.1M31.7 35.9h.1M19.1 25.5h.1M48.0 24.3h.1M59.2 58.6h.1M46.6 67.6h.1M37.6 21.3h.1M13.8 39.6h.1M24.0 62.2h.1M30.4 66.3h.1M54.4 31.4h.1M19.0 28.3h.1M63.3 67.6h.1M27.3 31.6h.1M46.1 18.2h.1M53.4 34.7h.1" stroke="rgb(225,225,225)" stroke-opacity="0.5" stroke-width="1.1" stroke-linecap="round"/>
<path d="M39.2 65.2h.1M29.8 45.1h.1M24.6 49.9h.1M29.6 52.1h.1M71.2 52.9h.1M47.9 32.4h.1M18.8 37.4h.1M39.4 58.8h.1M17.0 35.6h.1M42.2 60.9h.1M62.1 65.7h.1M54.6 64.8h.1M75.6 49.5h.1M38.8 61.5h.1M47.0 29.7h.1M18.5 55.6h.1M47.6 56.4h.1M30.2 70.1h.1M30.5 39.5h.1M61.9 20.3h.1M46.9 72.3h.1M52.9 35.8h.1M23.1 55.7h.1M48.7 55.0h.1M31.3 58.3h.1M58.2 42.8h.1M68.6 24.6h.1M30.3 31.4h.1M48.3 33.8h.1M67.3 61.9h.1M73.3 35.0h.1M42.4 68.5h.1M76.9 45.1h.1M43.9 59.0h.1M54.2 56.9h.1M66.2 57.8h.1M42.8 62.4h.1M38.3 32.6h.1M41.2 25.3h.1M65.9 47.6h.1M76.3 44.8h.1M42.7 73.6h.1" stroke="rgb(225,210,210)" stroke-opacity="0.5" stroke-width="1.1" stroke-linecap="round"/>
<path d="M73.2 57.9h.1M51.3 32.6h.1M51.2 27.9h.1M27.9 50.6h.1M71.5 31.9h.1M60.6 40.4h.1M57.7 57.6h.1M17.5 58.0h.1M72.8 51.3h.1M42.7 12.5h.1M58.5 69.8h.1M31.8 51.9h.1M42.6 59.2h.1M33.0 17.3h.1M38.8 33.0h.1M53.8 72.8h.1" stroke="rgb(210,210,210)" stroke-opacity="0.5" stroke-width="1.1" stroke-linecap="round"/>
<path d="M22.1 37.6h.1M67.1 44.2h.1M46.4 21.2h.1M41.7 24.3h.1M32.6 56.6h.1M54.8 56.3h.1M25.7 53.4h.1M50.7 22.7h.1M44.7 60.8h.1M23.3 43.7h.1M65.4 25.4h.1M23.7 47.4h.1M54.3 58.0h.1M23.3 32.7h.1M26.5 41.0h.1M29.9 62.4h.1M45.4 17.9h.1M23.6 26.2h.1M35.6 62.1h.1M64.6 44.5h.1M45.3 71.4h.1M62.6 51.3h.1M33.5 30.4h.1M67.2 35.4h.1M34.7 16.1h.1M17.9 33.9h.1M53.0 25.5h.1M17.1 52.6h.1M31.4 58.6h.1M49.3 68.6h.1M18.9 40.3h.1M21.0 40.2h.1M24.4 41.4h.1" stroke="rgb(240,225,225)" stroke-opacity="0.5" stroke-width="1.1" stroke-linecap="round"/>
<path d="M46.5 33.3h.1M49.9 50.1h.1M33.9 41.9h.1M35.4 47.6h.1M41.4 35.2h.1M37.9 50.5h.1" stroke="rgb(210,210,195)" stroke-opacity="0.5" stroke-width="1.1" stroke-linecap="round"/>
<path d="M43.4 30.8h.1M33.4 40.3h.1M51.7 35.3h.1M40.1 35.3h.1M40.8 55.0h.1M33.2 41.7h.1" stroke="rgb(165,165,150)" stroke-opacity="0.5" stroke-width="1.1" stroke-linecap="round"/>
<path d="M69.4 59.4h.1M40.6 14.7h.1M44.3 74.0h.1M59.5 55.9h.1M37.3 57.5h.1M37.3 34.8h.1M57.6 14.6h.1M52.3 54.0h.1M13.7 36.5h.1M41.4 11.0h.1M71.6 55.9h.1M76.9 46.5h.1M71.6 31.1h.1M71.6 59.3h.1M50.9 15.6h.1M29.6 70.8h.1M22.7 48.8h.1M39.2 29.4h.1M64.1 50.4h.1M56.9 56.0h.1M73.4 36.9h.1M23.8 37.4h.1M40.1 14.0h.1M44.3 68.2h.1M48.3 29.8h.1M74.1 46.8h.1M53.4 24.8h.1M19.7 61.7h.1M68.7 24.3h.1M40.8 27.2h.1M19.0 24.8h.1M45.3 24.3h.1M30.7 49.9h.1M19.5 29.3h.1M31.8 19.0h.1M59.6 14.7h.1M63.1 16.9h.1M62.7 17.0h.1M35.9 63.6h.1M25.3 19.0h.1M74.1 32.3h.1" stroke="rgb(165,165,165)" stroke-opacity="0.5" stroke-width="1.1" stroke-linecap="round"/>
<path d="M47.0 37.2h.1M50.9 44.1h.1" stroke="rgb(225,210,180)" stroke-opacity="0.5" stroke-width="1.1" stroke-linecap="round"/>
<path d="M48.9 11.8h.1M30.5 34.2h.1M58.0 53.7h.1M51.8 17.6h.1M47.3 20.3h.1M65.3 38.7h.1M46.8 63.6h.1M52.5 21.3h.1M66.8 44.6h.1M60.7 24.6h.1M51.1 70.2h.1M49.4 69.9h.1M28.4 31.7h.1M69.3 46.5h.1M47.4 16.4h.1M58.5 37.2h.1M54.8 13.6h.1M54.7 62.5h.1M32.6 18.4h.1M54.5 66.0h.1M66.4 40.1h.1M46.2 19.6h.1M20.2 38.9h.1M42.0 74.6h.1M57.9 72.5h.1M37.2 73.9h.1M34.5 32.4h.1M70.6 50.2h.1M24.9 50.8h.1M70.9 60.2h.1M32.6 25.5h.1M24.2 48.3h.1M59.2 52.3h.1M16.7 36.3h.1M66.6 45.6h.1M64.9 28.2h.1M56.6 34.5h.1M58.9 71.1h.1M71.3 39.2h.1M62.8 39.4h.1M34.7 12.7h.1M36.0 67.4h.1M30.4 27.3h.1M58.9 39.8h.1M58.2 48.7h.1M14.2 51.0h.1M49.6 31.0h.1M47.6 15.8h.1M69.7 54.8h.1M61.6 56.2h.1" stroke="rgb(180,180,180)" stroke-opacity="0.5" stroke-width="1.1" stroke-linecap="round"/>
<path d="M43.1 68.2h.1M21.0 47.6h.1M58.6 24.1h.1M58.4 25.8h.1M42.8 18.6h.1M54.3 18.6h.1M65.4 31.4h.1" stroke="rgb(240,240,240)" stroke-opacity="0.5" stroke-width="1.1" stroke-linecap="round"/>
<path d="M27.5 54.9h.1M40.5 30.5h.1M54.5 70.9h.1M61.5 23.2h.1M22.9 57.0h.1M32.8 21.5h.1M28.7 26.8h.1M41.1 11.5h.1M59.6 49.1h.1M51.2 38.1h.1M72.4 29.5h.1M60.5 68.5h.1M70.0 49.9h.1M66.4 46.8h.1M53.3 53.1h.1M32.1 68.2h.1M23.8 25.9h.1M33.4 51.8h.1M56.1 38.8h.1M54.5 61.5h.1M61.7 22.9h.1M74.4 49.5h.1" stroke="rgb(180,165,165)" stroke-opacity="0.5" stroke-width="1.1" stroke-linecap="round"/>
<path d="M41.1 40.0h.1" stroke="rgb(225,195,150)" stroke-opacity="0.5" stroke-width="1.1" stroke-linecap="round"/>
<path d="M52.1 44.3h.1M37.9 38.8h.1M49.6 49.1h.1" stroke="rgb(165,150,135)" stroke-opacity="0.5" stroke-width="1.1" stroke-linecap="round"/>
<path d="M38.6 42.8h.1" stroke="rgb(180,165,135)" stroke-opacity="0.5" stroke-width="1.1" stroke-linecap="round"/>
<path d="M31.2 62.2h.1M20.4 51.5h.1" stroke="rgb(195,180,180)" stroke-opacity="0.5" stroke-width="1.1" stroke-linecap="round"/>
<path d="M38.1 39.1h.1M40.4 37.2h.1M52.1 44.6h.1M52.8 42.7h.1" stroke="rgb(225,210,195)" stroke-opacity="0.5" stroke-width="1.1" stroke-linecap="round"/>
<path d="M50.8 50.0h.1M50.4 50.9h.1M32.2 40.8h.1M36.5 53.9h.1" stroke="rgb(225,225,210)" stroke-opacity="0.5" stroke-width="1.1" stroke-linecap="round"/>
<path d="M46.0 35.6h.1M37.9 42.0h.1" stroke="rgb(180,165,150)" stroke-opacity="0.5" stroke-width="1.1" stroke-linecap="round"/>
<path d="M31.6 48.0h.1M35.5 32.2h.1" stroke="rgb(180,180,165)" stroke-opacity="0.5" stroke-width="1.1" stroke-linecap="round"/>
<path d="M43.9 37.8h.1M42.0 47.4h.1M42.5 47.8h.1M49.7 42.8h.1M49.7 42.0h.1" stroke="rgb(225,210,165)" stroke-opacity="0.5" stroke-width="1.1" stroke-linecap="round"/>
<path d="M45.8 35.6h.1M51.6 48.1h.1" stroke="rgb(210,195,195)" stroke-opacity="0.5" stroke-width="1.1" stroke-linecap="round"/>
<path d="M48.3 37.8h.1" stroke="rgb(180,150,135)" stroke-opacity="0.5" stroke-width="1.1" stroke-linecap="round"/>
<path d="M39.3 46.1h.1M48.0 48.2h.1" stroke="rgb(165,150,120)" stroke-opacity="0.5" stroke-width="1.1" stroke-linecap="round"/>
<path d="M40.5 46.7h.1M40.1 45.3h.1" stroke="rgb(225,195,165)" stroke-opacity="0.5" stroke-width="1.1" stroke-linecap="round"/>
<path d="M41.8 39.4h.1" stroke="rgb(180,165,120)" stroke-opacity="0.5" stroke-width="1.1" stroke-linecap="round"/>
<path d="M41.9 38.8h.1" stroke="rgb(165,150,105)" stroke-opacity="0.5" stroke-width="1.1" stroke-linecap="round"/>
</g>
</svg>
<svg x="172" y="545.3" width="88.0" height="87.3" overflow="hidden">
<rect width="100%" height="100%" fill="rgb(25,133,200)"/>
<g filter="url(#soft)">
<radialGradient id="ag5" gradientUnits="userSpaceOnUse" cx="44.2" cy="43.7" r="42.5"><stop offset="0" stop-color="rgb(88,148,142)"/><stop offset="0.729" stop-color="rgb(85,146,139)"/><stop offset="0.812" stop-color="rgb(78,142,135)"/><stop offset="0.878" stop-color="rgb(70,127,121)"/><stop offset="1" stop-color="rgb(70,127,121)"/></radialGradient>
<linearGradient id="rg5" gradientUnits="userSpaceOnUse" x1="22.9" y1="1.2" x2="65.4" y2="86.2"><stop offset="0" stop-color="rgb(60,125,150)"/><stop offset="0.45" stop-color="rgb(95,140,160)"/><stop offset="0.75" stop-color="rgb(160,168,188)"/><stop offset="1" stop-color="rgb(185,188,205)"/></linearGradient>
<linearGradient id="lg5" gradientUnits="userSpaceOnUse" x1="22.9" y1="1.2" x2="65.4" y2="86.2"><stop offset="0" stop-color="rgb(100,145,158)"/><stop offset="0.5" stop-color="rgb(150,175,175)"/><stop offset="1" stop-color="rgb(215,222,215)"/></linearGradient>
<circle cx="44.2" cy="43.7" r="42.5" fill="url(#ag5)"/>
<circle cx="44.2" cy="43.7" r="40.20" fill="none" stroke="url(#rg5)" stroke-width="4.2"/>
<circle cx="44.2" cy="43.7" r="37.90" fill="none" stroke="url(#lg5)" stroke-width="1.4"/>
<circle cx="44.2" cy="43.7" r="42.15" fill="none" stroke="rgb(110,118,155)" stroke-width="0.8"/>
<radialGradient id="cg5" gradientUnits="userSpaceOnUse" cx="44.2" cy="43.7" r="29.68"><stop offset="0.000" stop-color="rgb(215,190,198)"/><stop offset="0.132" stop-color="rgb(208,180,190)"/><stop offset="0.245" stop-color="rgb(145,60,78)"/><stop offset="0.472" stop-color="rgb(148,68,85)"/><stop offset="0.623" stop-color="rgb(160,110,115)"/><stop offset="0.774" stop-color="rgb(165,150,145)"/><stop offset="0.868" stop-color="rgb(150,160,150)"/><stop offset="1" stop-color="rgb(150,160,150)" stop-opacity="0"/></radialGradient>
<circle cx="44.2" cy="43.7" r="29.68" fill="url(#cg5)"/>
<path d="M52.4 61.5L54.9 66.9M54.0 61.9L55.1 63.9M61.5 52.0L65.6 53.9M62.9 39.6L67.0 38.7M28.0 54.9L23.6 57.9M36.5 25.6L34.5 20.7M29.8 57.9L27.8 59.9M50.0 25.4L51.8 19.7M35.6 60.9L32.7 66.7" stroke="rgb(144,120,120)" stroke-opacity="0.45" stroke-width="0.7"/>
<path d="M62.3 25.6L63.8 24.1M39.6 66.3L38.7 70.9M41.0 19.1L40.6 16.2M63.9 32.1L68.1 29.6M44.7 17.8L44.7 16.0M24.1 58.7L22.0 60.3M28.0 66.3L28.1 66.2M62.6 30.9L66.6 28.1M38.9 17.3L38.7 16.5M57.0 68.2L57.1 68.3M23.7 30.1L21.1 28.4M57.8 22.2L59.0 20.3M66.9 34.7L69.7 33.5M33.0 18.0L33.1 18.3M20.8 35.1L18.2 34.2M63.4 62.0L64.3 62.8M61.8 28.1L64.9 25.3M30.9 22.3L29.6 20.2M71.5 43.4L71.9 43.4M57.9 62.9L60.3 66.3M34.8 21.3L33.5 18.1M52.0 67.8L52.7 70.1M63.3 62.3L64.1 63.0M46.9 70.4L47.0 71.3M61.8 60.1L64.0 62.2M47.8 16.8L47.9 16.2M68.6 52.6L70.2 53.2M20.8 40.6L16.7 40.0M53.0 69.3L53.2 69.9M57.3 22.2L58.7 20.1M53.3 66.1L54.6 69.4M55.0 18.1L55.0 18.2M35.2 67.3L34.3 69.6M30.0 24.1L27.9 21.2M31.0 65.1L29.7 67.3M40.9 18.2L40.7 16.2M19.1 44.8L16.5 44.9" stroke="rgb(156,168,156)" stroke-opacity="0.45" stroke-width="0.7"/>
<path d="M44.3 33.6L44.4 27.6M34.5 35.8L30.3 32.3M57.1 42.8L60.4 42.5M39.6 42.9L35.3 42.1M46.1 55.3L47.0 60.5M32.6 40.4L29.3 39.5M32.3 43.8L29.8 43.8M50.3 54.6L52.1 57.8M41.2 52.3L39.7 56.5M48.1 31.7L49.1 28.6M49.5 55.5L51.8 60.7M50.9 31.8L52.1 29.6M33.7 52.5L30.2 55.5M50.0 35.8L53.6 30.9M31.8 43.9L27.4 44.0M45.2 47.9L46.4 52.8M36.2 32.8L33.5 29.1" stroke="rgb(132,60,72)" stroke-opacity="0.45" stroke-width="0.7"/>
<path d="M42.5 48.0L40.7 52.3M49.0 41.5L52.2 40.1" stroke="rgb(144,60,72)" stroke-opacity="0.45" stroke-width="0.7"/>
<path d="M66.8 57.9L67.7 58.4M31.1 64.6L29.7 66.8M26.5 64.0L26.0 64.6M33.1 65.0L31.4 68.3M20.4 45.5L16.6 45.8M37.5 21.2L36.6 18.3M25.0 61.6L23.9 62.6M68.1 29.2L67.9 29.3M51.1 65.5L52.6 70.1M49.8 69.2L50.1 70.8M31.8 19.0L31.8 18.9M70.1 47.9L71.6 48.1M38.0 18.1L37.7 16.8M30.0 67.7L30.1 67.6M43.5 16.5L43.5 16.0M17.7 37.6L17.2 37.5M58.8 67.4L58.7 67.3M56.0 21.3L57.1 19.2M53.0 19.5L53.7 17.6M20.9 33.5L18.8 32.6M52.8 68.0L53.5 69.8M18.7 46.6L16.7 46.9M33.3 21.1L32.2 18.7M29.8 25.7L26.8 22.1M35.5 17.6L35.4 17.4M19.4 51.6L17.8 52.1" stroke="rgb(144,156,144)" stroke-opacity="0.45" stroke-width="0.7"/>
<path d="M60.5 57.2L65.5 61.4M41.9 22.8L41.3 17.1M64.6 48.2L70.4 49.5M64.5 46.8L70.9 47.8" stroke="rgb(168,156,156)" stroke-opacity="0.45" stroke-width="0.7"/>
<path d="M48.2 52.2L50.0 56.1M53.7 43.2L56.9 43.0M49.0 51.5L51.6 55.9M43.9 53.0L43.8 56.2M37.2 39.4L33.8 37.3M39.5 41.9L34.1 39.8M46.3 57.0L46.6 59.5M32.1 44.6L27.5 44.9M51.6 35.0L53.8 32.5M45.7 37.7L47.3 31.5M33.8 37.3L30.6 35.3M56.0 45.8L60.1 46.5M50.9 48.2L55.2 51.1M51.5 37.0L53.5 35.3M42.4 38.6L40.0 32.1M52.7 39.9L57.6 37.8M40.3 37.7L36.9 32.6M39.9 53.9L38.3 57.9M43.6 34.4L43.1 27.7M41.8 35.8L40.7 32.3M38.6 49.3L35.2 52.8M49.8 43.7L55.5 43.6" stroke="rgb(132,48,72)" stroke-opacity="0.45" stroke-width="0.7"/>
<path d="M27.2 58.1L23.5 61.3M67.8 29.5L68.0 29.4M26.8 60.7L24.4 63.1M22.7 29.9L20.9 28.7M29.5 66.0L28.9 66.8M44.3 66.8L44.3 70.4M21.0 28.4L21.0 28.5M70.0 37.7L71.2 37.4M67.3 28.8L67.5 28.7M54.6 17.8L54.5 18.0M69.4 41.7L71.8 41.5M53.6 65.3L54.9 68.3M36.8 66.3L35.6 70.0M46.1 18.9L46.4 16.1M25.8 57.3L22.1 60.1M46.1 70.3L46.2 71.4" stroke="rgb(144,144,144)" stroke-opacity="0.45" stroke-width="0.7"/>
<path d="M28.4 58.0L24.1 61.9M25.9 32.9L20.3 29.6M25.8 52.9L20.0 55.8" stroke="rgb(156,144,144)" stroke-opacity="0.45" stroke-width="0.7"/>
<path d="M54.0 39.3L59.0 37.0M47.8 35.7L50.1 30.5M46.3 46.8L50.0 52.3M45.6 38.7L46.4 35.4M53.4 38.2L58.4 35.1M36.2 34.2L32.8 30.3M42.8 30.6L42.5 27.4M40.6 52.2L38.2 58.0M35.4 46.9L29.1 49.3M48.6 54.8L51.0 60.9M49.5 54.4L52.6 60.6M39.5 54.6L36.8 60.7M32.8 42.0L26.8 41.1M52.3 39.7L56.4 37.6" stroke="rgb(168,96,108)" stroke-opacity="0.45" stroke-width="0.7"/>
<path d="M52.0 44.2L55.1 44.4M37.9 47.6L35.4 49.1M47.8 33.3L49.4 28.5M45.5 37.8L46.0 35.6M37.1 37.2L33.5 33.9M40.7 40.2L37.4 36.8M49.7 52.2L53.4 57.9M53.8 47.3L56.2 48.2M35.2 46.1L30.5 47.3M33.9 42.0L27.2 40.9M36.8 45.4L32.6 46.4M36.7 40.7L30.9 38.3M38.3 39.0L35.3 36.5M48.5 38.2L51.1 34.9M52.9 43.7L56.0 43.6M40.4 46.5L36.2 49.6" stroke="rgb(168,84,108)" stroke-opacity="0.45" stroke-width="0.7"/>
<path d="M38.1 63.3L36.6 68.2M37.7 64.6L36.8 67.3M23.5 45.1L19.2 45.3M30.5 60.9L28.4 63.5" stroke="rgb(144,132,120)" stroke-opacity="0.45" stroke-width="0.7"/>
<path d="M27.1 45.7L22.5 46.3M60.4 46.4L65.6 47.3M35.3 29.1L33.3 25.8M32.7 31.1L29.2 27.3" stroke="rgb(132,96,96)" stroke-opacity="0.45" stroke-width="0.7"/>
<path d="M36.7 26.5L34.4 21.2M36.6 59.6L34.0 65.2" stroke="rgb(132,108,108)" stroke-opacity="0.45" stroke-width="0.7"/>
<path d="M50.9 49.7L54.3 52.8M41.1 34.7L39.1 28.8M43.9 36.5L43.7 29.7M48.5 42.4L54.8 40.6M43.6 33.0L43.5 30.1M41.4 37.7L39.9 34.3M32.1 41.1L28.5 40.4M43.9 48.9L43.6 52.9M47.9 47.5L51.1 50.8M40.6 52.5L39.2 55.7M45.4 50.8L46.5 57.1M50.3 49.3L55.3 53.9M38.4 45.9L35.0 47.2M40.1 49.0L36.0 54.5M40.9 33.2L39.3 28.2M42.1 48.9L39.8 54.9M45.8 38.2L47.5 32.3M37.1 44.1L32.4 44.3M54.2 41.9L57.5 41.3M40.4 41.1L35.6 37.7" stroke="rgb(168,84,96)" stroke-opacity="0.45" stroke-width="0.7"/>
<path d="M34.4 55.4L31.4 58.9M40.8 42.9L35.9 41.7M47.2 58.4L48.4 64.3M32.9 51.9L28.2 55.3M35.6 31.8L31.7 26.4M59.6 47.9L63.8 49.0" stroke="rgb(144,84,96)" stroke-opacity="0.45" stroke-width="0.7"/>
<path d="M47.5 38.7L49.6 35.5M37.8 51.1L33.4 56.1M52.5 42.1L55.3 41.5M44.7 36.8L44.9 33.8M52.2 53.3L54.6 56.2M40.0 50.2L36.4 55.8M39.3 35.8L36.0 30.4M50.7 48.0L53.1 49.6M46.1 50.9L46.7 53.2M50.3 40.6L53.1 39.2M46.3 33.0L47.5 27.2M51.0 39.5L54.8 37.1M46.0 48.0L48.4 53.9" stroke="rgb(132,48,60)" stroke-opacity="0.45" stroke-width="0.7"/>
<path d="M22.1 37.0L19.3 36.1M64.2 53.1L69.3 55.5M27.4 58.7L23.7 62.1M62.0 55.7L67.0 59.1M31.1 24.3L29.6 22.1M46.0 67.3L46.3 71.3M58.7 26.9L62.0 23.1M66.8 43.4L71.0 43.4M62.7 56.4L66.0 58.7M40.8 21.0L40.1 16.3M36.0 22.5L34.9 19.4" stroke="rgb(168,168,156)" stroke-opacity="0.45" stroke-width="0.7"/>
<path d="M33.1 33.9L29.9 31.1M37.1 58.1L36.1 60.2M33.9 50.2L28.6 53.5M51.0 56.7L53.4 61.4M31.5 44.8L24.7 45.4M41.8 41.1L39.1 38.1M53.9 32.7L56.4 29.9M55.2 54.2L57.7 56.6M29.5 41.7L25.7 41.2M49.7 29.5L51.0 25.9" stroke="rgb(168,108,120)" stroke-opacity="0.45" stroke-width="0.7"/>
<path d="M27.1 32.9L22.5 29.9" stroke="rgb(192,168,168)" stroke-opacity="0.45" stroke-width="0.7"/>
<path d="M60.2 38.0L65.5 36.1" stroke="rgb(168,132,132)" stroke-opacity="0.45" stroke-width="0.7"/>
<path d="M57.9 39.3L61.5 38.2M57.8 49.3L61.2 50.7M52.7 34.5L57.0 29.8M56.9 51.3L60.7 53.6M29.6 42.6L25.3 42.3M57.1 33.9L59.2 32.3M57.6 43.6L64.0 43.6M49.9 56.6L52.4 62.3" stroke="rgb(132,72,84)" stroke-opacity="0.45" stroke-width="0.7"/>
<path d="M33.6 55.4L29.6 59.7M40.6 60.0L39.3 65.7M46.4 25.8L46.6 23.4M31.8 54.7L29.0 57.2M55.2 31.7L59.5 27.1M40.9 42.6L38.7 41.9" stroke="rgb(180,132,144)" stroke-opacity="0.45" stroke-width="0.7"/>
<path d="M27.9 42.5L25.1 42.4M38.6 57.1L36.6 62.1M55.6 54.9L57.3 56.5" stroke="rgb(180,120,132)" stroke-opacity="0.45" stroke-width="0.7"/>
<path d="M34.2 27.1L32.3 24.0M27.1 33.6L23.7 31.7M29.7 32.6L25.7 29.6M35.0 25.9L32.3 20.5M38.8 64.1L38.2 66.4M32.4 60.2L30.9 62.3" stroke="rgb(180,156,156)" stroke-opacity="0.45" stroke-width="0.7"/>
<path d="M31.0 39.8L26.6 38.5M46.0 30.0L46.7 25.2" stroke="rgb(144,72,84)" stroke-opacity="0.45" stroke-width="0.7"/>
<path d="M48.0 58.5L49.5 64.2M42.0 59.3L41.4 63.4" stroke="rgb(168,120,120)" stroke-opacity="0.45" stroke-width="0.7"/>
<path d="M53.3 29.5L54.6 27.5M28.5 36.1L25.0 34.4M46.1 58.3L46.8 64.2M29.9 47.8L23.4 49.6M37.0 30.4L33.8 24.6M50.8 58.3L52.6 62.3M31.3 36.9L25.9 34.1M35.3 31.3L31.4 25.9" stroke="rgb(180,132,132)" stroke-opacity="0.45" stroke-width="0.7"/>
<path d="M54.1 58.4L57.4 63.2M27.5 40.1L21.1 38.8" stroke="rgb(168,144,144)" stroke-opacity="0.45" stroke-width="0.7"/>
<path d="M56.6 36.3L62.5 32.8M27.9 37.5L25.3 36.5M39.5 27.2L38.5 23.9" stroke="rgb(144,96,96)" stroke-opacity="0.45" stroke-width="0.7"/>
<path d="M41.4 41.7L38.4 39.5M44.0 47.6L43.8 50.9" stroke="rgb(192,144,156)" stroke-opacity="0.45" stroke-width="0.7"/>
<path d="M50.6 37.8L55.7 33.2M48.3 38.3L49.8 36.4M43.6 48.5L42.9 54.1M39.3 49.0L34.6 54.1M38.4 51.7L36.4 54.5M48.9 50.0L50.5 52.1M50.0 39.5L55.4 35.6M35.9 46.3L30.8 47.8M41.5 48.3L39.2 52.2M37.4 37.4L34.3 34.6" stroke="rgb(120,36,60)" stroke-opacity="0.45" stroke-width="0.7"/>
<path d="M50.8 51.4L53.7 54.7M44.5 37.3L44.7 34.6M39.3 45.2L34.9 46.5M35.5 38.4L31.9 36.3M44.9 49.1L45.7 54.8M37.5 49.2L32.9 53.0M47.5 37.2L49.0 34.3M41.6 49.9L40.1 53.2M45.5 37.9L46.4 34.4" stroke="rgb(156,72,96)" stroke-opacity="0.45" stroke-width="0.7"/>
<path d="M57.5 24.4L58.9 22.4M28.8 27.0L25.4 23.3M41.3 23.2L40.4 16.9M54.3 64.1L55.7 66.8M53.4 65.0L54.3 67.1" stroke="rgb(144,144,132)" stroke-opacity="0.45" stroke-width="0.7"/>
<path d="M36.9 66.2L35.7 69.7M17.8 38.2L17.1 38.0M55.6 64.1L57.7 67.9M63.7 28.3L66.0 26.5M20.2 51.4L17.8 52.1M41.8 70.0L41.7 71.3M54.2 66.7L55.3 69.1" stroke="rgb(168,168,168)" stroke-opacity="0.45" stroke-width="0.7"/>
<path d="M52.9 44.0L59.2 44.3M49.1 47.0L51.2 48.4M35.0 49.2L29.7 52.4M34.8 42.9L29.5 42.5M56.2 39.4L59.9 38.1M32.9 44.0L27.4 44.1M54.3 41.8L60.9 40.6M40.6 35.9L38.8 32.1M33.9 37.9L30.7 36.1M47.6 34.4L49.8 28.1M44.9 33.9L45.3 29.5M49.9 39.5L54.5 36.1M49.3 49.7L52.9 54.0M31.7 42.4L29.2 42.2M43.4 35.7L42.7 29.5M32.8 40.6L29.5 39.7M41.7 34.1L41.1 31.8" stroke="rgb(156,84,96)" stroke-opacity="0.45" stroke-width="0.7"/>
<path d="M68.0 52.7L70.1 53.5M66.9 29.9L67.9 29.3M19.9 52.6L18.2 53.2" stroke="rgb(132,144,132)" stroke-opacity="0.45" stroke-width="0.7"/>
<path d="M40.3 56.7L38.6 62.5" stroke="rgb(132,72,72)" stroke-opacity="0.45" stroke-width="0.7"/>
<path d="M49.0 32.2L51.0 27.2M31.0 45.4L27.4 45.8" stroke="rgb(144,60,84)" stroke-opacity="0.45" stroke-width="0.7"/>
<path d="M26.5 34.7L23.7 33.3M61.2 52.8L63.4 54.0M46.9 60.0L47.9 65.7M48.9 59.3L50.8 65.8M42.0 27.3L41.2 20.7M36.8 60.8L35.8 63.1M51.2 25.9L52.6 22.3M27.0 49.9L24.6 50.8M52.9 28.0L55.6 23.0M47.8 61.7L48.2 64.0M28.1 36.8L25.2 35.6M56.2 30.4L58.9 27.4M32.6 57.6L30.5 60.1M34.4 60.0L32.1 63.9" stroke="rgb(180,144,144)" stroke-opacity="0.45" stroke-width="0.7"/>
<path d="M37.4 26.0L35.7 21.6M26.3 46.2L19.7 47.2M57.7 57.0L60.3 59.7M29.4 30.8L27.1 28.8" stroke="rgb(156,120,120)" stroke-opacity="0.45" stroke-width="0.7"/>
<path d="M50.5 64.5L51.3 67.0M64.7 49.6L68.7 50.8M23.1 44.9L18.1 45.2M39.3 64.3L38.8 66.6M53.5 24.9L55.8 20.4" stroke="rgb(180,168,156)" stroke-opacity="0.45" stroke-width="0.7"/>
<path d="M41.7 41.3L39.8 39.5" stroke="rgb(216,180,192)" stroke-opacity="0.45" stroke-width="0.7"/>
<path d="M41.0 42.1L37.7 40.5" stroke="rgb(156,108,120)" stroke-opacity="0.45" stroke-width="0.7"/>
<path d="M47.2 41.3L50.7 38.5" stroke="rgb(156,96,108)" stroke-opacity="0.45" stroke-width="0.7"/>
<path d="M54.6 32.1L58.4 27.9M36.9 29.7L34.1 24.5M33.6 54.9L29.1 59.7M40.6 60.0L39.7 63.9" stroke="rgb(144,96,108)" stroke-opacity="0.45" stroke-width="0.7"/>
<path d="M25.6 41.3L20.2 40.6M43.0 60.2L42.5 66.8M43.3 23.9L43.2 20.8M51.3 28.3L53.0 24.6M43.4 25.5L43.2 22.2M26.0 40.4L23.6 40.0M49.0 61.4L49.7 64.1M58.0 33.4L61.4 30.8" stroke="rgb(144,108,108)" stroke-opacity="0.45" stroke-width="0.7"/>
<path d="M38.3 62.5L36.5 68.4M43.8 64.0L43.7 68.7M36.4 24.6L35.1 21.4" stroke="rgb(180,168,168)" stroke-opacity="0.45" stroke-width="0.7"/>
<path d="M47.3 23.9L47.8 20.6M62.4 42.6L67.9 42.3" stroke="rgb(144,120,108)" stroke-opacity="0.45" stroke-width="0.7"/>
<path d="M32.3 54.0L28.8 57.1" stroke="rgb(132,84,84)" stroke-opacity="0.45" stroke-width="0.7"/>
<path d="M42.3 48.5L41.2 51.4" stroke="rgb(132,60,84)" stroke-opacity="0.45" stroke-width="0.7"/>
<path d="M33.0 51.7L29.0 54.6M37.4 30.7L35.5 27.3" stroke="rgb(168,108,108)" stroke-opacity="0.45" stroke-width="0.7"/>
<path d="M47.3 42.1L49.5 40.9" stroke="rgb(216,168,180)" stroke-opacity="0.45" stroke-width="0.7"/>
<path d="M42.7 31.9L42.2 28.2M37.5 54.8L36.2 56.9" stroke="rgb(120,48,60)" stroke-opacity="0.45" stroke-width="0.7"/>
<path d="M57.6 45.5L63.4 46.2" stroke="rgb(180,120,120)" stroke-opacity="0.45" stroke-width="0.7"/>
<path d="M48.7 39.7L51.4 37.3" stroke="rgb(132,36,60)" stroke-opacity="0.45" stroke-width="0.7"/>
<path d="M44.2 29.0L44.1 26.2" stroke="rgb(180,108,120)" stroke-opacity="0.45" stroke-width="0.7"/>
<path d="M25.5 37.5L20.9 36.0" stroke="rgb(180,156,144)" stroke-opacity="0.45" stroke-width="0.7"/>
<path d="M25.1 38.8L19.6 37.4" stroke="rgb(156,132,132)" stroke-opacity="0.45" stroke-width="0.7"/>
<path d="M45.2 25.1L45.6 18.8" stroke="rgb(192,168,156)" stroke-opacity="0.45" stroke-width="0.7"/>
<path d="M63.7 50.7L68.3 52.3M64.9 37.3L67.9 36.4" stroke="rgb(144,132,132)" stroke-opacity="0.45" stroke-width="0.7"/>
<path d="M38.1 35.6h.1M44.8 56.4h.1M37.3 39.4h.1M49.8 57.4h.1M57.2 49.1h.1M32.3 51.6h.1M39.8 56.4h.1M35.9 38.5h.1M47.1 55.7h.1M47.9 56.2h.1M37.1 32.2h.1M51.9 42.1h.1M46.3 31.5h.1" stroke="rgb(165,90,105)" stroke-opacity="0.5" stroke-width="1.1" stroke-linecap="round"/>
<path d="M44.0 55.2h.1M35.5 32.5h.1M36.3 33.8h.1M33.9 32.0h.1M44.3 58.9h.1M36.1 52.8h.1M46.8 28.8h.1M45.1 30.0h.1M29.2 40.7h.1M58.3 38.4h.1M46.5 37.3h.1M37.1 34.8h.1M58.8 39.6h.1M34.8 35.1h.1" stroke="rgb(180,105,120)" stroke-opacity="0.5" stroke-width="1.1" stroke-linecap="round"/>
<path d="M70.2 50.3h.1M59.3 21.9h.1M19.0 48.2h.1M19.4 38.2h.1M66.1 29.7h.1M41.1 17.9h.1M70.5 50.8h.1M57.5 65.0h.1M37.9 68.8h.1M40.6 69.9h.1M68.7 55.3h.1M27.3 64.3h.1M32.1 65.6h.1M36.2 17.9h.1M58.0 20.8h.1" stroke="rgb(180,195,180)" stroke-opacity="0.5" stroke-width="1.1" stroke-linecap="round"/>
<path d="M61.0 47.9h.1M31.7 32.8h.1" stroke="rgb(180,120,120)" stroke-opacity="0.5" stroke-width="1.1" stroke-linecap="round"/>
<path d="M36.4 19.6h.1M23.8 27.7h.1M17.6 43.2h.1M25.2 59.4h.1M35.3 21.3h.1M19.1 49.1h.1M58.1 65.2h.1M59.8 64.2h.1M60.2 64.0h.1M29.4 24.3h.1" stroke="rgb(135,135,135)" stroke-opacity="0.5" stroke-width="1.1" stroke-linecap="round"/>
<path d="M44.9 33.6h.1M36.9 35.3h.1M35.3 39.4h.1" stroke="rgb(180,90,120)" stroke-opacity="0.5" stroke-width="1.1" stroke-linecap="round"/>
<path d="M27.7 23.6h.1M35.3 18.7h.1M28.3 22.3h.1M71.3 45.6h.1M30.3 66.4h.1M50.5 70.2h.1" stroke="rgb(120,135,120)" stroke-opacity="0.5" stroke-width="1.1" stroke-linecap="round"/>
<path d="M40.1 42.6h.1" stroke="rgb(225,195,195)" stroke-opacity="0.5" stroke-width="1.1" stroke-linecap="round"/>
<path d="M47.4 55.0h.1M40.8 34.6h.1M37.3 53.7h.1" stroke="rgb(135,45,60)" stroke-opacity="0.5" stroke-width="1.1" stroke-linecap="round"/>
<path d="M39.3 47.6h.1M60.7 47.0h.1M38.4 41.6h.1M61.2 48.8h.1M53.9 30.2h.1M29.4 32.6h.1M50.5 27.8h.1M27.4 47.9h.1M52.1 27.6h.1M28.3 49.5h.1M30.4 54.2h.1M38.5 60.5h.1M53.4 28.5h.1M60.9 50.7h.1M49.5 40.1h.1M54.1 29.2h.1M27.8 35.0h.1M53.4 30.6h.1" stroke="rgb(180,120,135)" stroke-opacity="0.5" stroke-width="1.1" stroke-linecap="round"/>
<path d="M68.1 39.1h.1M66.2 47.4h.1M24.8 56.2h.1M22.8 51.9h.1M65.6 53.9h.1M66.7 43.2h.1M28.4 27.0h.1M64.2 54.1h.1M22.2 49.0h.1M65.2 33.9h.1M44.7 66.6h.1M41.9 66.9h.1M33.9 22.7h.1" stroke="rgb(180,165,165)" stroke-opacity="0.5" stroke-width="1.1" stroke-linecap="round"/>
<path d="M48.9 67.7h.1M65.8 54.5h.1M21.2 51.9h.1M61.5 28.2h.1M46.6 20.3h.1M58.8 25.5h.1M38.6 19.7h.1M33.6 21.8h.1M36.5 67.5h.1M21.8 54.8h.1M49.9 19.2h.1M66.3 54.9h.1M68.0 47.8h.1M32.8 65.5h.1" stroke="rgb(180,180,165)" stroke-opacity="0.5" stroke-width="1.1" stroke-linecap="round"/>
<path d="M41.3 25.0h.1M25.5 51.1h.1M23.9 42.7h.1M29.1 56.3h.1M59.9 31.6h.1M25.3 34.5h.1M47.5 23.3h.1M46.3 23.9h.1M47.4 48.2h.1M34.6 27.8h.1" stroke="rgb(195,150,150)" stroke-opacity="0.5" stroke-width="1.1" stroke-linecap="round"/>
<path d="M32.9 30.1h.1M39.0 40.1h.1M56.8 30.8h.1M26.8 50.1h.1M59.9 53.0h.1" stroke="rgb(135,75,90)" stroke-opacity="0.5" stroke-width="1.1" stroke-linecap="round"/>
<path d="M45.9 63.3h.1M62.4 36.7h.1M54.5 59.3h.1M30.2 31.4h.1M25.3 42.9h.1M42.4 25.3h.1M55.7 58.9h.1M43.0 63.8h.1M56.7 56.9h.1M40.1 24.3h.1M37.8 60.9h.1M60.9 51.7h.1" stroke="rgb(180,135,135)" stroke-opacity="0.5" stroke-width="1.1" stroke-linecap="round"/>
<path d="M37.7 54.8h.1M34.1 53.1h.1M49.3 50.6h.1M45.0 51.0h.1M51.5 33.9h.1M37.0 50.1h.1M52.1 45.6h.1M32.5 39.9h.1M38.6 38.9h.1M46.0 51.0h.1" stroke="rgb(180,90,105)" stroke-opacity="0.5" stroke-width="1.1" stroke-linecap="round"/>
<path d="M48.9 63.3h.1M31.6 60.8h.1M62.2 51.9h.1M62.7 50.7h.1M64.5 50.1h.1M25.6 32.7h.1M25.3 50.1h.1M64.7 37.1h.1M30.8 28.1h.1" stroke="rgb(180,150,150)" stroke-opacity="0.5" stroke-width="1.1" stroke-linecap="round"/>
<path d="M32.5 24.1h.1M37.1 23.1h.1M66.8 42.3h.1M50.2 64.6h.1" stroke="rgb(195,180,165)" stroke-opacity="0.5" stroke-width="1.1" stroke-linecap="round"/>
<path d="M60.7 24.9h.1M61.1 60.7h.1M24.7 28.5h.1M46.3 66.9h.1" stroke="rgb(135,135,120)" stroke-opacity="0.5" stroke-width="1.1" stroke-linecap="round"/>
<path d="M33.6 63.7h.1M65.8 35.2h.1M36.8 65.6h.1M25.5 29.7h.1" stroke="rgb(135,120,120)" stroke-opacity="0.5" stroke-width="1.1" stroke-linecap="round"/>
<path d="M31.7 67.7h.1M28.4 22.8h.1M44.0 16.8h.1" stroke="rgb(135,150,135)" stroke-opacity="0.5" stroke-width="1.1" stroke-linecap="round"/>
<path d="M26.7 60.0h.1M64.9 31.7h.1M54.4 65.2h.1M46.7 20.7h.1M63.9 31.4h.1M49.3 20.2h.1M46.9 21.1h.1M28.0 26.4h.1M61.8 29.7h.1M23.2 53.6h.1" stroke="rgb(195,180,180)" stroke-opacity="0.5" stroke-width="1.1" stroke-linecap="round"/>
<path d="M31.2 53.2h.1M42.1 26.6h.1M42.2 60.4h.1" stroke="rgb(120,60,75)" stroke-opacity="0.5" stroke-width="1.1" stroke-linecap="round"/>
<path d="M17.9 44.2h.1M21.9 30.0h.1M63.8 62.2h.1M27.7 63.6h.1M64.1 27.3h.1M71.3 44.8h.1M22.3 57.5h.1M34.8 20.4h.1M60.7 23.9h.1M69.8 40.8h.1M71.1 39.7h.1M65.9 28.8h.1M35.1 19.1h.1" stroke="rgb(165,180,165)" stroke-opacity="0.5" stroke-width="1.1" stroke-linecap="round"/>
<path d="M38.2 23.2h.1M37.7 62.8h.1M23.8 39.8h.1M42.9 22.0h.1M55.6 61.2h.1M44.5 21.5h.1M27.8 29.0h.1" stroke="rgb(195,165,165)" stroke-opacity="0.5" stroke-width="1.1" stroke-linecap="round"/>
<path d="M62.3 27.6h.1" stroke="rgb(195,195,180)" stroke-opacity="0.5" stroke-width="1.1" stroke-linecap="round"/>
<path d="M39.5 50.6h.1M47.6 52.6h.1M46.9 36.8h.1M42.3 52.2h.1M47.6 56.7h.1" stroke="rgb(165,75,105)" stroke-opacity="0.5" stroke-width="1.1" stroke-linecap="round"/>
<path d="M68.7 40.5h.1M62.5 61.6h.1M64.1 58.8h.1M29.0 66.0h.1M61.2 64.0h.1M69.9 41.1h.1M61.7 64.5h.1" stroke="rgb(180,180,180)" stroke-opacity="0.5" stroke-width="1.1" stroke-linecap="round"/>
<path d="M58.3 46.1h.1M53.5 50.2h.1M47.4 32.4h.1M44.7 56.5h.1M39.9 49.7h.1M46.4 56.0h.1M50.3 31.0h.1" stroke="rgb(120,45,60)" stroke-opacity="0.5" stroke-width="1.1" stroke-linecap="round"/>
<path d="M26.8 46.9h.1M40.6 63.4h.1M60.7 53.2h.1M27.9 32.2h.1M49.5 61.1h.1M60.2 33.3h.1M64.6 42.5h.1" stroke="rgb(135,90,90)" stroke-opacity="0.5" stroke-width="1.1" stroke-linecap="round"/>
<path d="M40.6 36.9h.1M48.2 32.3h.1" stroke="rgb(120,30,60)" stroke-opacity="0.5" stroke-width="1.1" stroke-linecap="round"/>
<path d="M23.1 42.6h.1M53.1 24.1h.1M34.1 24.2h.1" stroke="rgb(180,165,150)" stroke-opacity="0.5" stroke-width="1.1" stroke-linecap="round"/>
<path d="M32.8 62.0h.1M64.5 52.6h.1M26.3 55.3h.1M27.2 56.7h.1" stroke="rgb(150,120,120)" stroke-opacity="0.5" stroke-width="1.1" stroke-linecap="round"/>
<path d="M49.3 42.5h.1" stroke="rgb(210,150,165)" stroke-opacity="0.5" stroke-width="1.1" stroke-linecap="round"/>
<path d="M35.7 67.2h.1M59.2 24.6h.1" stroke="rgb(120,120,120)" stroke-opacity="0.5" stroke-width="1.1" stroke-linecap="round"/>
<path d="M25.0 31.2h.1M59.5 27.1h.1" stroke="rgb(150,135,120)" stroke-opacity="0.5" stroke-width="1.1" stroke-linecap="round"/>
<path d="M50.2 44.5h.1" stroke="rgb(150,90,105)" stroke-opacity="0.5" stroke-width="1.1" stroke-linecap="round"/>
<path d="M39.5 39.6h.1M25.9 47.2h.1M36.9 26.5h.1M32.5 29.8h.1" stroke="rgb(195,135,150)" stroke-opacity="0.5" stroke-width="1.1" stroke-linecap="round"/>
<path d="M52.1 48.1h.1M41.0 50.2h.1M41.5 33.7h.1" stroke="rgb(120,30,45)" stroke-opacity="0.5" stroke-width="1.1" stroke-linecap="round"/>
<path d="M50.4 25.3h.1" stroke="rgb(180,135,150)" stroke-opacity="0.5" stroke-width="1.1" stroke-linecap="round"/>
<path d="M47.2 34.4h.1M39.5 38.0h.1" stroke="rgb(165,75,90)" stroke-opacity="0.5" stroke-width="1.1" stroke-linecap="round"/>
<path d="M57.8 57.5h.1" stroke="rgb(120,90,90)" stroke-opacity="0.5" stroke-width="1.1" stroke-linecap="round"/>
<path d="M28.7 45.8h.1M28.1 46.5h.1" stroke="rgb(135,60,75)" stroke-opacity="0.5" stroke-width="1.1" stroke-linecap="round"/>
<path d="M60.6 42.2h.1" stroke="rgb(165,105,120)" stroke-opacity="0.5" stroke-width="1.1" stroke-linecap="round"/>
<path d="M50.8 44.7h.1M27.9 46.7h.1" stroke="rgb(195,120,135)" stroke-opacity="0.5" stroke-width="1.1" stroke-linecap="round"/>
<path d="M41.5 39.1h.1" stroke="rgb(210,165,180)" stroke-opacity="0.5" stroke-width="1.1" stroke-linecap="round"/>
<path d="M42.6 40.0h.1" stroke="rgb(225,195,210)" stroke-opacity="0.5" stroke-width="1.1" stroke-linecap="round"/>
<path d="M32.6 25.3h.1M24.3 48.7h.1M64.6 45.3h.1" stroke="rgb(135,105,105)" stroke-opacity="0.5" stroke-width="1.1" stroke-linecap="round"/>
<path d="M29.8 52.0h.1M50.5 58.2h.1" stroke="rgb(135,75,75)" stroke-opacity="0.5" stroke-width="1.1" stroke-linecap="round"/>
<path d="M60.2 56.4h.1M61.1 35.2h.1" stroke="rgb(150,105,105)" stroke-opacity="0.5" stroke-width="1.1" stroke-linecap="round"/>
<path d="M40.3 42.4h.1" stroke="rgb(180,150,165)" stroke-opacity="0.5" stroke-width="1.1" stroke-linecap="round"/>
</g>
</svg>
<svg x="262" y="545.3" width="88.0" height="87.3" overflow="hidden">
<rect width="100%" height="100%" fill="rgb(25,133,200)"/>
<g filter="url(#soft)">
<radialGradient id="ag6" gradientUnits="userSpaceOnUse" cx="44.4" cy="43.7" r="43"><stop offset="0" stop-color="rgb(98,139,128)"/><stop offset="0.744" stop-color="rgb(94,136,125)"/><stop offset="0.814" stop-color="rgb(88,132,120)"/><stop offset="0.879" stop-color="rgb(79,118,108)"/><stop offset="1" stop-color="rgb(79,118,108)"/></radialGradient>
<linearGradient id="rg6" gradientUnits="userSpaceOnUse" x1="22.9" y1="0.7" x2="65.9" y2="86.7"><stop offset="0" stop-color="rgb(60,125,150)"/><stop offset="0.45" stop-color="rgb(95,140,160)"/><stop offset="0.75" stop-color="rgb(160,168,188)"/><stop offset="1" stop-color="rgb(185,188,205)"/></linearGradient>
<linearGradient id="lg6" gradientUnits="userSpaceOnUse" x1="22.9" y1="0.7" x2="65.9" y2="86.7"><stop offset="0" stop-color="rgb(100,145,158)"/><stop offset="0.5" stop-color="rgb(150,175,175)"/><stop offset="1" stop-color="rgb(215,222,215)"/></linearGradient>
<circle cx="44.4" cy="43.7" r="43" fill="url(#ag6)"/>
<circle cx="44.4" cy="43.7" r="40.70" fill="none" stroke="url(#rg6)" stroke-width="4.2"/>
<circle cx="44.4" cy="43.7" r="38.40" fill="none" stroke="url(#lg6)" stroke-width="1.4"/>
<circle cx="44.4" cy="43.7" r="42.65" fill="none" stroke="rgb(110,118,155)" stroke-width="0.8"/>
<radialGradient id="cg6" gradientUnits="userSpaceOnUse" cx="44.4" cy="43.7" r="30.74"><stop offset="0.000" stop-color="rgb(215,185,200)"/><stop offset="0.142" stop-color="rgb(205,170,185)"/><stop offset="0.179" stop-color="rgb(150,50,75)"/><stop offset="0.377" stop-color="rgb(155,65,85)"/><stop offset="0.566" stop-color="rgb(160,95,95)"/><stop offset="0.736" stop-color="rgb(155,125,100)"/><stop offset="0.868" stop-color="rgb(135,138,115)"/><stop offset="1" stop-color="rgb(135,138,115)" stop-opacity="0"/></radialGradient>
<circle cx="44.4" cy="43.7" r="30.74" fill="url(#cg6)"/>
<path d="M50.1 19.7L51.0 16.2M62.2 25.8L64.6 23.3M57.5 18.4L57.6 18.2M64.4 32.1L69.0 29.5M69.6 56.3L70.1 56.6M33.1 21.1L31.7 18.4M40.5 21.3L39.5 15.4M62.9 60.5L65.7 63.0M54.4 64.6L56.0 67.9M41.8 67.3L41.4 70.8M34.8 17.2L34.6 16.7M66.2 60.7L67.0 61.4M20.2 43.4L16.9 43.4M59.0 25.8L62.5 21.4M16.5 37.8L16.3 37.7M52.5 21.6L54.3 16.7M62.2 26.5L65.1 23.8M64.0 25.5L65.5 24.2M54.8 17.5L55.0 17.0M64.1 29.0L66.9 26.8M37.7 21.2L36.2 16.2M68.2 42.5L72.7 42.2M68.9 47.4L72.8 48.0M66.3 26.2L66.8 25.8M30.0 60.5L25.7 65.5M23.0 26.6L22.0 25.8M66.6 40.9L72.9 40.1M36.7 70.3L36.4 71.3M47.0 18.4L47.3 15.1M20.3 59.6L20.4 59.5M69.4 52.1L71.6 52.9M59.5 21.4L60.5 20.0M26.7 27.4L23.3 24.2M39.3 72.1L39.3 72.0M24.7 59.1L21.8 61.3M43.9 71.7L43.9 72.4M51.4 16.9L51.7 15.9M39.4 70.6L39.2 71.9" stroke="rgb(144,144,120)" stroke-opacity="0.45" stroke-width="0.7"/>
<path d="M61.3 51.5L67.8 54.5M24.0 46.6L18.2 47.5M56.4 60.5L58.1 62.9M58.4 28.4L60.6 26.0M33.7 61.9L30.6 67.2M66.6 45.1L70.4 45.4M65.3 46.0L69.2 46.5M58.6 26.2L60.4 24.0M26.1 38.4L19.9 36.7M49.0 64.8L49.5 67.2M62.7 53.0L67.3 55.3" stroke="rgb(132,108,84)" stroke-opacity="0.45" stroke-width="0.7"/>
<path d="M41.5 38.8L38.0 33.0M46.5 49.1L48.7 54.7M50.0 46.9L52.1 48.0M36.1 45.1L31.7 45.8M40.5 48.7L37.4 52.6M38.4 46.5L34.1 48.5M43.7 35.8L43.3 31.8M46.7 49.8L48.3 54.2M51.4 41.7L57.3 39.9M38.8 37.6L37.1 35.8M50.0 40.7L54.6 38.3M49.0 39.5L52.5 36.3M51.7 49.3L55.5 52.2M50.7 40.2L55.0 37.9M36.8 45.5L30.9 46.8M40.5 39.8L38.5 37.8M36.8 39.6L33.8 38.0M40.8 38.2L37.1 32.4M39.5 37.9L37.8 35.8M40.4 47.7L37.8 50.4M37.1 45.7L31.3 47.4M45.7 50.0L46.9 55.3" stroke="rgb(144,48,72)" stroke-opacity="0.45" stroke-width="0.7"/>
<path d="M46.9 54.9L47.6 58.1M36.2 36.6L33.2 34.1M48.4 54.7L49.9 58.9M43.6 29.6L43.5 26.6M34.7 43.7L28.5 43.8M51.4 52.5L54.6 56.5M53.6 46.5L59.2 48.3M46.2 32.2L47.3 25.6M52.7 51.8L55.0 54.0M50.5 52.0L53.6 56.0M32.5 42.9L26.9 42.5M33.7 49.6L29.3 52.0" stroke="rgb(180,96,108)" stroke-opacity="0.45" stroke-width="0.7"/>
<path d="M70.8 48.7L72.6 49.1M46.4 17.0L46.5 15.1M17.6 54.3L17.7 54.3M19.6 31.8L18.5 31.2M62.0 60.6L65.1 63.5M68.5 35.1L71.4 34.0M54.2 18.5L54.8 16.9M46.4 17.9L46.6 15.1M57.4 68.2L57.8 69.1M19.5 53.4L17.7 54.1M60.1 19.8L60.1 19.7" stroke="rgb(120,132,108)" stroke-opacity="0.45" stroke-width="0.7"/>
<path d="M56.6 30.3L61.0 25.4M50.2 25.7L51.3 22.1M34.2 57.1L30.1 62.6M36.6 61.3L35.6 63.7M37.4 60.8L34.9 67.1" stroke="rgb(168,132,108)" stroke-opacity="0.45" stroke-width="0.7"/>
<path d="M45.5 39.7L46.3 37.1" stroke="rgb(168,60,84)" stroke-opacity="0.45" stroke-width="0.7"/>
<path d="M25.0 28.1L22.0 25.7M29.9 65.6L28.5 67.6M17.3 34.3L17.3 34.3M66.4 56.7L69.1 58.3M72.1 38.3L72.6 38.2M41.1 19.3L40.5 15.3M26.4 64.0L25.4 65.2M69.9 47.4L72.8 47.9" stroke="rgb(144,156,132)" stroke-opacity="0.45" stroke-width="0.7"/>
<path d="M55.3 31.9L58.0 29.1M58.9 35.8L61.7 34.3M31.2 53.7L28.8 55.5" stroke="rgb(132,72,72)" stroke-opacity="0.45" stroke-width="0.7"/>
<path d="M24.1 47.1L19.4 47.9M57.8 58.7L60.8 62.1M61.7 39.2L66.6 37.9M45.7 25.3L46.2 18.4M32.7 30.2L28.0 24.7M49.5 63.1L50.8 68.0" stroke="rgb(132,96,72)" stroke-opacity="0.45" stroke-width="0.7"/>
<path d="M29.9 37.2L26.4 35.6M35.7 57.6L33.0 62.0M58.6 52.0L60.9 53.3M30.3 47.4L25.1 48.8M46.1 58.1L46.8 63.6M59.7 47.3L62.8 48.0M31.2 49.9L24.7 53.0M39.9 29.4L37.8 22.8M28.7 39.4L24.0 38.2M56.5 53.7L59.0 55.8" stroke="rgb(180,120,120)" stroke-opacity="0.45" stroke-width="0.7"/>
<path d="M56.6 52.3L61.7 56.0M36.6 30.5L33.2 24.6M32.7 33.8L28.4 30.2M58.4 47.9L64.7 49.8M55.8 57.4L58.1 60.1" stroke="rgb(144,84,72)" stroke-opacity="0.45" stroke-width="0.7"/>
<path d="M29.2 35.5L24.2 32.9M52.6 26.8L54.3 23.4M33.6 32.3L29.3 27.7M31.8 53.8L26.3 58.1M52.6 60.0L54.1 63.2M41.7 27.9L40.7 22.0M27.1 44.9L22.7 45.2M53.0 28.9L55.9 23.9M53.7 59.9L56.0 64.0M58.3 52.3L62.8 55.1M51.9 27.8L53.8 23.7M31.5 55.2L29.0 57.5" stroke="rgb(144,96,84)" stroke-opacity="0.45" stroke-width="0.7"/>
<path d="M46.2 59.6L46.8 65.2M61.1 40.4L64.7 39.7M56.0 35.5L61.4 31.7M46.5 60.0L47.2 64.8M48.7 58.9L50.1 63.9M47.9 28.5L48.8 24.7M48.5 26.6L49.0 24.3M31.1 54.2L27.9 56.7M41.3 27.9L40.0 21.5" stroke="rgb(144,84,84)" stroke-opacity="0.45" stroke-width="0.7"/>
<path d="M53.3 53.3L55.9 56.1M32.8 37.5L29.9 35.9M33.0 48.2L26.5 50.8M31.6 38.8L29.1 37.8M46.8 29.3L47.3 26.6M38.9 55.8L37.0 59.9M31.0 42.3L26.0 41.7" stroke="rgb(180,108,120)" stroke-opacity="0.45" stroke-width="0.7"/>
<path d="M42.0 48.8L39.3 54.4M38.7 39.4L35.1 36.7M42.5 48.8L40.3 54.7M44.1 47.6L43.6 53.8M38.7 46.8L32.5 50.3M49.6 42.8L54.9 41.9M50.1 49.2L51.9 50.9M44.8 40.2L45.4 35.2M48.7 41.6L55.1 38.4M46.8 51.4L48.3 56.3M40.8 42.7L35.1 41.2M39.7 48.7L36.3 52.2M51.4 39.0L56.1 35.9M48.9 42.5L53.6 41.2M44.0 38.1L43.6 33.0M48.0 44.5L54.2 45.8M50.7 45.2L53.7 45.8M48.6 46.3L53.2 49.1M41.1 39.3L37.4 34.5M41.4 41.0L39.2 39.0M36.2 43.9L33.7 44.0" stroke="rgb(132,36,60)" stroke-opacity="0.45" stroke-width="0.7"/>
<path d="M61.8 50.9L67.6 53.3M24.7 45.0L19.9 45.3M26.2 48.2L21.4 49.4M25.6 48.2L21.6 49.1M64.1 43.2L67.9 43.1M32.2 60.0L30.1 63.0M45.0 62.6L45.3 68.9M64.7 46.0L67.6 46.3M58.2 56.8L62.1 60.4" stroke="rgb(144,108,84)" stroke-opacity="0.45" stroke-width="0.7"/>
<path d="M41.1 56.1L40.0 59.9M51.1 53.9L53.7 57.9M33.7 48.7L29.9 50.5M37.8 35.4L34.0 30.5M42.6 53.0L41.5 58.2M52.3 36.4L55.8 33.2M50.1 33.0L52.9 27.8M55.4 37.8L58.0 36.4M44.5 33.0L44.5 28.1M53.3 37.7L57.8 34.6M44.7 30.5L44.8 28.0M32.9 50.0L30.0 51.6M37.2 51.1L32.7 55.7" stroke="rgb(144,60,72)" stroke-opacity="0.45" stroke-width="0.7"/>
<path d="M48.0 44.0L54.4 44.6M40.6 42.5L35.0 40.8" stroke="rgb(180,72,96)" stroke-opacity="0.45" stroke-width="0.7"/>
<path d="M65.1 53.1L70.5 55.6M27.4 59.2L23.2 63.1M36.3 22.5L34.2 17.1M40.0 66.2L39.6 68.6M22.4 43.4L18.1 43.4M61.5 28.2L65.0 25.0M36.5 25.0L33.8 18.5M62.1 57.1L65.6 59.7" stroke="rgb(156,144,120)" stroke-opacity="0.45" stroke-width="0.7"/>
<path d="M57.0 48.2L61.1 49.6M32.0 49.7L27.1 52.1M39.2 54.4L36.2 60.5M45.7 29.6L46.2 25.2M53.8 53.3L57.6 57.0M51.1 33.9L54.0 29.5M30.3 42.4L26.2 42.1M39.4 53.6L36.5 59.3M41.2 42.0L38.5 40.5" stroke="rgb(144,72,84)" stroke-opacity="0.45" stroke-width="0.7"/>
<path d="M42.5 39.7L41.1 36.6M40.5 42.2L34.0 39.8M43.2 39.6L42.1 35.8M37.8 42.3L34.9 41.7M44.9 50.4L45.2 54.6M39.3 40.3L35.5 37.7M48.5 40.9L52.9 38.0M41.5 47.9L39.0 51.5M41.2 46.4L37.1 49.7M49.6 42.0L54.9 40.3M45.2 39.7L46.1 35.0M52.5 45.6L57.4 46.8M49.2 43.2L52.7 42.9M41.9 47.5L40.0 50.3M46.0 48.8L46.8 51.3M50.3 48.5L52.5 50.4M42.1 47.3L38.7 52.6M39.3 40.2L36.3 38.2M45.9 47.4L48.7 54.1M42.6 47.7L41.2 50.9M44.6 48.3L44.8 52.9M40.2 44.3L35.8 44.9M40.8 40.4L36.7 36.5M46.1 35.1L47.0 30.5M52.6 46.3L55.8 47.3M46.6 36.3L47.4 33.7M48.5 46.7L53.0 50.0M39.4 39.6L35.9 36.7M41.2 40.3L36.4 35.1" stroke="rgb(168,72,96)" stroke-opacity="0.45" stroke-width="0.7"/>
<path d="M42.4 21.7L42.0 17.1M64.5 36.3L69.6 34.4M51.4 66.2L52.1 68.7M21.6 41.5L15.9 40.9M32.5 24.6L29.3 19.3M65.2 52.2L70.0 54.1M32.4 62.1L29.7 66.1M21.7 44.9L16.8 45.1M43.8 64.9L43.6 70.9M36.0 64.1L34.0 69.2M34.2 24.5L31.7 19.9M58.9 63.4L60.6 65.7M41.2 23.2L40.1 16.4M57.2 63.2L60.2 67.7" stroke="rgb(132,120,96)" stroke-opacity="0.45" stroke-width="0.7"/>
<path d="M44.1 66.9L44.0 72.4M58.8 62.5L61.9 66.5M43.3 67.0L43.0 72.4" stroke="rgb(120,120,96)" stroke-opacity="0.45" stroke-width="0.7"/>
<path d="M49.3 55.7L50.5 58.8M31.3 42.4L27.8 42.0M30.4 47.9L26.8 49.0M59.2 47.7L61.6 48.3M51.4 53.5L54.5 57.7" stroke="rgb(180,108,108)" stroke-opacity="0.45" stroke-width="0.7"/>
<path d="M49.1 52.4L51.9 57.3M38.7 40.9L34.0 38.7M34.5 48.7L29.5 51.3M44.0 34.7L43.9 31.2M37.9 46.2L33.1 48.0M50.5 41.8L56.5 39.9M45.4 36.9L46.4 30.4M36.5 42.8L33.9 42.5M51.2 50.1L54.2 52.9M45.1 34.9L45.4 30.9M35.2 39.2L30.0 36.6M54.7 45.4L60.2 46.3M49.8 41.9L56.1 39.9M33.6 42.3L28.1 41.6M40.6 52.9L39.2 56.2M39.1 35.8L36.5 31.8" stroke="rgb(132,48,60)" stroke-opacity="0.45" stroke-width="0.7"/>
<path d="M51.9 44.8L54.7 45.2M33.4 43.8L29.3 43.9M35.6 38.3L33.0 36.7M50.8 51.7L54.3 56.1M36.7 39.7L34.2 38.3M50.4 40.8L56.8 37.8M41.6 36.1L39.5 30.5M46.9 32.3L47.6 29.6M53.7 43.0L59.1 42.6" stroke="rgb(168,84,96)" stroke-opacity="0.45" stroke-width="0.7"/>
<path d="M70.3 47.4L72.8 47.8M22.3 34.1L18.1 32.2M69.1 43.7L73.1 43.7M72.3 40.1L72.9 40.1M39.6 70.2L39.3 71.9" stroke="rgb(120,120,108)" stroke-opacity="0.45" stroke-width="0.7"/>
<path d="M29.6 41.9L26.9 41.6M55.6 52.3L59.9 55.7M58.2 47.0L62.6 48.0M56.4 35.0L61.4 31.3" stroke="rgb(144,72,72)" stroke-opacity="0.45" stroke-width="0.7"/>
<path d="M62.7 51.9L69.2 54.8" stroke="rgb(120,108,72)" stroke-opacity="0.45" stroke-width="0.7"/>
<path d="M53.3 45.8L57.4 46.8M48.6 51.2L50.8 55.3M42.0 38.6L40.3 35.0M41.7 33.2L40.7 29.5M36.2 44.8L31.8 45.3M40.9 50.1L38.7 54.2M37.6 42.0L35.2 41.4M48.3 48.3L50.9 51.5M37.9 40.1L35.9 39.0M47.4 41.9L50.7 39.9M41.0 36.5L38.1 30.3M42.3 37.3L41.3 34.3M50.8 42.3L57.4 40.8" stroke="rgb(180,84,108)" stroke-opacity="0.45" stroke-width="0.7"/>
<path d="M34.9 23.8L32.8 19.6M28.9 58.4L25.0 62.0" stroke="rgb(120,108,84)" stroke-opacity="0.45" stroke-width="0.7"/>
<path d="M40.6 42.4L33.8 40.0" stroke="rgb(144,36,60)" stroke-opacity="0.45" stroke-width="0.7"/>
<path d="M24.5 38.5L19.1 37.1M25.2 33.9L19.7 31.0M40.4 63.0L39.0 69.7M23.9 43.3L16.7 43.1M30.7 61.5L28.8 64.0M64.3 37.3L67.6 36.3" stroke="rgb(168,144,120)" stroke-opacity="0.45" stroke-width="0.7"/>
<path d="M31.7 63.6L28.9 67.9M64.7 56.2L68.9 58.7M24.0 61.7L22.9 62.7M64.0 24.1L64.7 23.4M64.2 27.9L66.5 26.1M29.4 68.1L29.4 68.2M17.2 42.1L15.7 42.0M69.1 46.3L73.0 46.7M71.5 50.2L72.3 50.4M18.2 45.4L15.7 45.5M33.8 68.0L32.9 70.0M56.3 17.2L56.1 17.5M20.1 52.0L17.2 53.0M19.2 43.8L15.7 43.8M20.5 43.4L15.7 43.4M64.2 23.2L64.3 23.0M71.2 37.1L72.3 36.8M27.8 64.9L26.7 66.3M57.6 24.8L60.8 20.1M17.5 33.1L17.7 33.2M68.2 49.0L72.4 50.0M18.6 38.4L16.3 37.9M44.9 68.9L44.9 72.4" stroke="rgb(132,132,108)" stroke-opacity="0.45" stroke-width="0.7"/>
<path d="M55.0 28.7L59.0 23.0M27.9 34.5L25.5 33.2" stroke="rgb(132,96,84)" stroke-opacity="0.45" stroke-width="0.7"/>
<path d="M33.4 47.3L30.9 48.1M43.4 34.6L42.7 27.6M35.2 37.8L31.6 35.4" stroke="rgb(132,48,72)" stroke-opacity="0.45" stroke-width="0.7"/>
<path d="M58.1 56.8L60.7 59.3M56.3 29.4L57.9 27.5M37.4 28.3L35.6 24.2M29.6 31.0L27.8 29.5M54.5 57.6L55.9 59.5" stroke="rgb(168,120,108)" stroke-opacity="0.45" stroke-width="0.7"/>
<path d="M33.9 57.6L31.6 60.7M59.0 34.2L64.2 30.8M59.2 51.5L63.0 53.6M60.8 36.6L65.7 34.5M25.7 41.1L22.4 40.6M63.2 41.3L65.8 41.0M42.2 27.0L41.4 21.1M58.1 56.5L60.1 58.4M61.7 44.0L68.5 44.1" stroke="rgb(180,132,120)" stroke-opacity="0.45" stroke-width="0.7"/>
<path d="M52.2 33.6L56.5 28.0M38.7 30.8L36.1 24.9M45.9 57.6L46.5 62.5M51.1 31.0L54.5 24.7" stroke="rgb(168,108,108)" stroke-opacity="0.45" stroke-width="0.7"/>
<path d="M54.9 48.8L61.0 51.8M55.0 42.3L62.0 41.4M29.4 44.9L26.6 45.2M54.3 49.7L58.5 52.3M32.7 38.7L28.8 37.0" stroke="rgb(168,96,108)" stroke-opacity="0.45" stroke-width="0.7"/>
<path d="M64.9 49.3L68.3 50.3" stroke="rgb(144,120,84)" stroke-opacity="0.45" stroke-width="0.7"/>
<path d="M44.4 40.1L44.4 33.0" stroke="rgb(168,72,84)" stroke-opacity="0.45" stroke-width="0.7"/>
<path d="M54.5 34.5L57.4 31.9M35.6 51.1L31.8 54.2" stroke="rgb(132,60,72)" stroke-opacity="0.45" stroke-width="0.7"/>
<path d="M42.8 47.1L41.0 51.1" stroke="rgb(156,60,84)" stroke-opacity="0.45" stroke-width="0.7"/>
<path d="M59.2 34.3L63.1 31.8M41.3 26.5L40.3 21.2M59.3 53.6L63.4 56.3M28.2 47.1L23.8 48.0" stroke="rgb(132,84,72)" stroke-opacity="0.45" stroke-width="0.7"/>
<path d="M48.4 54.2L50.7 60.3" stroke="rgb(132,60,60)" stroke-opacity="0.45" stroke-width="0.7"/>
<path d="M58.7 58.8L62.9 63.1M25.7 52.8L19.6 55.7M22.9 47.5L18.8 48.2" stroke="rgb(168,156,132)" stroke-opacity="0.45" stroke-width="0.7"/>
<path d="M57.4 60.2L59.5 62.8M28.2 29.5L26.3 27.8M28.2 34.1L24.3 31.8M56.7 58.4L59.5 61.9" stroke="rgb(180,144,120)" stroke-opacity="0.45" stroke-width="0.7"/>
<path d="M46.7 46.8L49.3 50.1M49.1 42.6L51.7 41.9" stroke="rgb(132,24,48)" stroke-opacity="0.45" stroke-width="0.7"/>
<path d="M33.6 38.7L30.7 37.4M43.7 54.5L43.4 58.8" stroke="rgb(168,84,108)" stroke-opacity="0.45" stroke-width="0.7"/>
<path d="M45.0 27.4L45.0 24.8" stroke="rgb(180,120,108)" stroke-opacity="0.45" stroke-width="0.7"/>
<path d="M22.6 43.4L19.5 43.4" stroke="rgb(120,96,72)" stroke-opacity="0.45" stroke-width="0.7"/>
<path d="M29.8 30.3L26.8 27.4" stroke="rgb(168,132,120)" stroke-opacity="0.45" stroke-width="0.7"/>
<path d="M54.8 45.7L61.6 47.0" stroke="rgb(168,96,96)" stroke-opacity="0.45" stroke-width="0.7"/>
<path d="M28.9 52.4h.1M58.1 54.7h.1M43.0 24.6h.1M57.3 31.1h.1M61.4 34.3h.1M32.1 57.9h.1M26.5 48.5h.1" stroke="rgb(195,135,135)" stroke-opacity="0.5" stroke-width="1.1" stroke-linecap="round"/>
<path d="M54.6 22.6h.1M58.0 24.5h.1M26.4 28.8h.1M68.2 45.9h.1M65.6 53.1h.1M69.6 42.6h.1M57.9 63.3h.1M68.0 44.0h.1" stroke="rgb(165,150,120)" stroke-opacity="0.5" stroke-width="1.1" stroke-linecap="round"/>
<path d="M34.4 25.9h.1M39.5 23.9h.1M65.6 46.0h.1M57.1 28.4h.1M55.5 26.5h.1M51.8 26.4h.1M62.9 38.4h.1M66.4 40.6h.1M49.9 24.6h.1M29.0 57.7h.1M29.4 30.3h.1M26.3 34.5h.1" stroke="rgb(135,90,75)" stroke-opacity="0.5" stroke-width="1.1" stroke-linecap="round"/>
<path d="M36.4 68.5h.1M38.1 18.8h.1M69.7 56.2h.1M58.4 64.8h.1M70.3 33.9h.1M19.0 43.9h.1M71.8 40.6h.1M20.4 34.3h.1M29.5 64.6h.1M58.4 63.9h.1M55.9 20.2h.1M39.5 68.9h.1M33.6 21.5h.1M69.3 50.4h.1M49.0 16.1h.1M70.2 32.5h.1M64.4 28.9h.1" stroke="rgb(165,165,135)" stroke-opacity="0.5" stroke-width="1.1" stroke-linecap="round"/>
<path d="M53.3 66.7h.1M19.2 40.2h.1M66.0 32.1h.1M61.2 61.6h.1" stroke="rgb(120,105,90)" stroke-opacity="0.5" stroke-width="1.1" stroke-linecap="round"/>
<path d="M34.1 47.4h.1M54.8 44.8h.1M49.0 33.5h.1M52.6 54.1h.1M33.4 47.4h.1M45.6 55.7h.1M49.8 50.8h.1M35.0 51.2h.1" stroke="rgb(135,45,60)" stroke-opacity="0.5" stroke-width="1.1" stroke-linecap="round"/>
<path d="M62.7 26.0h.1M58.8 20.2h.1M20.4 34.3h.1M66.0 29.6h.1M43.3 69.8h.1M17.6 45.0h.1M20.8 57.6h.1" stroke="rgb(120,120,90)" stroke-opacity="0.5" stroke-width="1.1" stroke-linecap="round"/>
<path d="M30.0 63.2h.1M49.7 19.9h.1M55.7 22.5h.1M28.9 25.0h.1M32.9 65.2h.1M39.3 67.4h.1M22.4 53.9h.1M54.9 20.7h.1" stroke="rgb(180,165,135)" stroke-opacity="0.5" stroke-width="1.1" stroke-linecap="round"/>
<path d="M42.8 39.4h.1" stroke="rgb(210,165,180)" stroke-opacity="0.5" stroke-width="1.1" stroke-linecap="round"/>
<path d="M65.2 53.6h.1M39.7 67.3h.1M68.2 41.8h.1M68.5 48.9h.1M67.3 48.9h.1M63.2 60.1h.1" stroke="rgb(120,105,75)" stroke-opacity="0.5" stroke-width="1.1" stroke-linecap="round"/>
<path d="M29.6 22.8h.1M47.1 69.3h.1M18.0 36.2h.1M23.8 62.2h.1" stroke="rgb(105,105,75)" stroke-opacity="0.5" stroke-width="1.1" stroke-linecap="round"/>
<path d="M39.3 26.8h.1" stroke="rgb(195,135,120)" stroke-opacity="0.5" stroke-width="1.1" stroke-linecap="round"/>
<path d="M36.5 42.4h.1M47.5 54.5h.1M40.9 37.4h.1" stroke="rgb(135,30,60)" stroke-opacity="0.5" stroke-width="1.1" stroke-linecap="round"/>
<path d="M57.1 52.4h.1M28.9 48.0h.1" stroke="rgb(120,60,60)" stroke-opacity="0.5" stroke-width="1.1" stroke-linecap="round"/>
<path d="M46.9 15.8h.1M26.7 63.7h.1M63.9 64.1h.1M26.3 22.5h.1" stroke="rgb(150,165,135)" stroke-opacity="0.5" stroke-width="1.1" stroke-linecap="round"/>
<path d="M52.5 62.3h.1M42.2 23.2h.1M62.0 48.8h.1M63.0 50.5h.1M63.0 35.1h.1M62.9 40.3h.1M39.9 23.4h.1M26.4 32.6h.1M44.5 24.0h.1M33.1 28.1h.1M25.6 53.3h.1M25.9 32.9h.1M56.0 26.3h.1M54.7 27.0h.1M33.4 59.8h.1M33.1 58.3h.1" stroke="rgb(180,135,120)" stroke-opacity="0.5" stroke-width="1.1" stroke-linecap="round"/>
<path d="M63.9 43.0h.1M28.9 52.6h.1M58.6 49.9h.1M41.8 61.7h.1M28.6 36.4h.1M39.5 58.5h.1M31.8 54.4h.1M54.7 27.4h.1M63.3 46.4h.1M59.6 48.4h.1M30.3 34.6h.1" stroke="rgb(135,75,75)" stroke-opacity="0.5" stroke-width="1.1" stroke-linecap="round"/>
<path d="M33.6 58.5h.1M64.0 42.3h.1M60.7 35.6h.1M30.4 36.0h.1M53.3 57.1h.1M62.9 47.9h.1M31.0 54.9h.1M37.4 25.4h.1M29.2 41.3h.1M30.5 35.3h.1M31.1 57.2h.1M42.3 27.0h.1M26.3 42.7h.1M62.7 48.4h.1M43.1 62.8h.1M59.6 37.3h.1" stroke="rgb(180,120,120)" stroke-opacity="0.5" stroke-width="1.1" stroke-linecap="round"/>
<path d="M45.9 34.1h.1M36.2 44.1h.1M30.9 39.9h.1M51.4 48.1h.1M38.9 36.4h.1M55.6 38.3h.1M48.0 34.1h.1M35.5 43.3h.1M51.0 53.2h.1M54.5 38.1h.1M44.8 55.5h.1M47.3 56.5h.1" stroke="rgb(180,90,105)" stroke-opacity="0.5" stroke-width="1.1" stroke-linecap="round"/>
<path d="M33.0 68.3h.1M62.2 23.2h.1M68.0 54.6h.1M21.2 56.6h.1M22.9 62.1h.1M18.5 53.4h.1M16.8 49.0h.1" stroke="rgb(105,105,90)" stroke-opacity="0.5" stroke-width="1.1" stroke-linecap="round"/>
<path d="M22.5 44.5h.1" stroke="rgb(120,90,60)" stroke-opacity="0.5" stroke-width="1.1" stroke-linecap="round"/>
<path d="M30.6 27.6h.1M39.8 65.3h.1M45.3 21.5h.1M57.4 61.1h.1M41.8 20.3h.1M54.4 24.4h.1M65.5 52.6h.1" stroke="rgb(180,150,120)" stroke-opacity="0.5" stroke-width="1.1" stroke-linecap="round"/>
<path d="M47.1 22.7h.1M39.4 22.3h.1M27.2 27.3h.1M23.6 31.4h.1M60.4 29.2h.1M61.4 60.6h.1" stroke="rgb(135,105,90)" stroke-opacity="0.5" stroke-width="1.1" stroke-linecap="round"/>
<path d="M26.3 22.4h.1M70.5 38.9h.1" stroke="rgb(120,120,105)" stroke-opacity="0.5" stroke-width="1.1" stroke-linecap="round"/>
<path d="M36.3 32.7h.1M33.4 50.5h.1M59.0 48.2h.1M45.2 30.6h.1M36.6 56.8h.1" stroke="rgb(135,60,75)" stroke-opacity="0.5" stroke-width="1.1" stroke-linecap="round"/>
<path d="M58.9 53.2h.1M27.1 46.9h.1M61.3 39.9h.1M30.5 51.7h.1" stroke="rgb(195,120,120)" stroke-opacity="0.5" stroke-width="1.1" stroke-linecap="round"/>
<path d="M20.4 50.2h.1M54.1 20.7h.1M20.8 38.5h.1M44.3 19.6h.1M45.8 69.2h.1M67.6 35.3h.1" stroke="rgb(165,150,135)" stroke-opacity="0.5" stroke-width="1.1" stroke-linecap="round"/>
<path d="M70.3 42.0h.1M30.9 66.8h.1M69.4 53.8h.1M31.6 19.0h.1M39.4 70.9h.1M57.2 20.7h.1M38.6 69.9h.1" stroke="rgb(150,150,135)" stroke-opacity="0.5" stroke-width="1.1" stroke-linecap="round"/>
<path d="M39.2 33.0h.1M38.5 53.9h.1M31.3 40.4h.1M59.0 43.5h.1M58.0 42.9h.1M41.7 30.7h.1" stroke="rgb(195,105,120)" stroke-opacity="0.5" stroke-width="1.1" stroke-linecap="round"/>
<path d="M35.0 38.8h.1M34.2 40.8h.1M34.7 39.0h.1M45.7 33.1h.1M34.6 42.4h.1M50.5 52.2h.1" stroke="rgb(180,90,120)" stroke-opacity="0.5" stroke-width="1.1" stroke-linecap="round"/>
<path d="M26.6 31.6h.1M65.7 43.1h.1M37.1 24.0h.1M23.8 38.5h.1" stroke="rgb(195,150,135)" stroke-opacity="0.5" stroke-width="1.1" stroke-linecap="round"/>
<path d="M22.1 49.0h.1M34.6 23.5h.1M59.9 59.0h.1" stroke="rgb(135,105,75)" stroke-opacity="0.5" stroke-width="1.1" stroke-linecap="round"/>
<path d="M45.5 35.9h.1M49.5 54.4h.1M38.1 36.6h.1M41.6 36.0h.1M37.1 35.4h.1" stroke="rgb(165,75,105)" stroke-opacity="0.5" stroke-width="1.1" stroke-linecap="round"/>
<path d="M42.3 54.6h.1" stroke="rgb(120,30,60)" stroke-opacity="0.5" stroke-width="1.1" stroke-linecap="round"/>
<path d="M52.4 69.4h.1M23.6 58.9h.1M16.6 43.5h.1M72.2 48.2h.1M40.2 17.0h.1M63.9 23.5h.1M55.8 18.2h.1" stroke="rgb(165,165,150)" stroke-opacity="0.5" stroke-width="1.1" stroke-linecap="round"/>
<path d="M33.6 23.0h.1M36.0 65.3h.1M22.0 53.3h.1M31.4 25.0h.1M35.3 64.5h.1M25.4 30.0h.1M36.3 21.4h.1M51.8 65.4h.1M29.6 27.6h.1M58.5 25.7h.1" stroke="rgb(180,150,135)" stroke-opacity="0.5" stroke-width="1.1" stroke-linecap="round"/>
<path d="M45.2 48.0h.1" stroke="rgb(225,180,195)" stroke-opacity="0.5" stroke-width="1.1" stroke-linecap="round"/>
<path d="M37.1 64.0h.1M26.3 31.2h.1" stroke="rgb(165,135,120)" stroke-opacity="0.5" stroke-width="1.1" stroke-linecap="round"/>
<path d="M34.0 54.0h.1M44.8 57.8h.1M28.9 43.4h.1M39.8 28.4h.1M37.3 32.0h.1M41.4 60.0h.1M32.5 47.1h.1M49.6 31.4h.1M47.9 39.8h.1M57.5 46.8h.1M57.2 36.6h.1M58.6 46.2h.1M58.6 43.4h.1" stroke="rgb(180,105,120)" stroke-opacity="0.5" stroke-width="1.1" stroke-linecap="round"/>
<path d="M24.1 47.1h.1M37.8 24.4h.1M62.6 47.1h.1" stroke="rgb(120,75,60)" stroke-opacity="0.5" stroke-width="1.1" stroke-linecap="round"/>
<path d="M48.3 36.8h.1M41.0 34.0h.1M35.5 40.5h.1" stroke="rgb(120,30,45)" stroke-opacity="0.5" stroke-width="1.1" stroke-linecap="round"/>
<path d="M43.5 35.9h.1M35.9 46.3h.1M42.8 34.5h.1M36.0 39.8h.1M43.3 49.9h.1M51.3 41.9h.1M42.2 38.4h.1M49.8 44.5h.1" stroke="rgb(180,75,105)" stroke-opacity="0.5" stroke-width="1.1" stroke-linecap="round"/>
<path d="M57.2 38.4h.1M33.0 52.7h.1M28.6 45.0h.1M36.3 55.7h.1M34.1 57.5h.1" stroke="rgb(180,105,105)" stroke-opacity="0.5" stroke-width="1.1" stroke-linecap="round"/>
<path d="M26.8 36.0h.1" stroke="rgb(150,90,75)" stroke-opacity="0.5" stroke-width="1.1" stroke-linecap="round"/>
<path d="M24.6 53.8h.1M60.4 61.7h.1M57.6 61.1h.1" stroke="rgb(120,90,75)" stroke-opacity="0.5" stroke-width="1.1" stroke-linecap="round"/>
<path d="M42.2 40.1h.1" stroke="rgb(180,150,165)" stroke-opacity="0.5" stroke-width="1.1" stroke-linecap="round"/>
<path d="M36.2 69.5h.1M61.1 64.7h.1M16.9 42.9h.1M40.2 70.7h.1" stroke="rgb(105,120,90)" stroke-opacity="0.5" stroke-width="1.1" stroke-linecap="round"/>
<path d="M27.7 40.5h.1" stroke="rgb(195,120,135)" stroke-opacity="0.5" stroke-width="1.1" stroke-linecap="round"/>
<path d="M37.7 44.4h.1M39.8 39.6h.1" stroke="rgb(165,75,90)" stroke-opacity="0.5" stroke-width="1.1" stroke-linecap="round"/>
<path d="M43.2 56.1h.1M46.2 57.9h.1" stroke="rgb(165,90,105)" stroke-opacity="0.5" stroke-width="1.1" stroke-linecap="round"/>
<path d="M35.6 54.0h.1M31.5 36.1h.1" stroke="rgb(120,45,60)" stroke-opacity="0.5" stroke-width="1.1" stroke-linecap="round"/>
<path d="M26.6 41.8h.1M26.6 47.4h.1" stroke="rgb(180,120,105)" stroke-opacity="0.5" stroke-width="1.1" stroke-linecap="round"/>
<path d="M49.3 30.5h.1" stroke="rgb(135,60,60)" stroke-opacity="0.5" stroke-width="1.1" stroke-linecap="round"/>
<path d="M32.9 66.5h.1" stroke="rgb(180,165,150)" stroke-opacity="0.5" stroke-width="1.1" stroke-linecap="round"/>
<path d="M43.1 39.5h.1" stroke="rgb(165,135,150)" stroke-opacity="0.5" stroke-width="1.1" stroke-linecap="round"/>
<path d="M34.4 44.7h.1M47.6 33.7h.1" stroke="rgb(195,90,120)" stroke-opacity="0.5" stroke-width="1.1" stroke-linecap="round"/>
<path d="M43.7 48.7h.1" stroke="rgb(210,135,150)" stroke-opacity="0.5" stroke-width="1.1" stroke-linecap="round"/>
<path d="M50.0 52.6h.1" stroke="rgb(135,45,75)" stroke-opacity="0.5" stroke-width="1.1" stroke-linecap="round"/>
</g>
</svg>
<svg x="352" y="545.3" width="88.0" height="87.3" overflow="hidden">
<rect width="100%" height="100%" fill="rgb(25,133,200)"/>
<g filter="url(#soft)">
<radialGradient id="ag7" gradientUnits="userSpaceOnUse" cx="44.4" cy="43.2" r="43"><stop offset="0" stop-color="rgb(90,129,118)"/><stop offset="0.570" stop-color="rgb(87,127,115)"/><stop offset="0.814" stop-color="rgb(80,122,110)"/><stop offset="0.879" stop-color="rgb(72,109,99)"/><stop offset="1" stop-color="rgb(72,109,99)"/></radialGradient>
<linearGradient id="rg7" gradientUnits="userSpaceOnUse" x1="22.9" y1="0.2" x2="65.9" y2="86.2"><stop offset="0" stop-color="rgb(60,125,150)"/><stop offset="0.45" stop-color="rgb(95,140,160)"/><stop offset="0.75" stop-color="rgb(160,168,188)"/><stop offset="1" stop-color="rgb(185,188,205)"/></linearGradient>
<linearGradient id="lg7" gradientUnits="userSpaceOnUse" x1="22.9" y1="0.2" x2="65.9" y2="86.2"><stop offset="0" stop-color="rgb(100,145,158)"/><stop offset="0.5" stop-color="rgb(150,175,175)"/><stop offset="1" stop-color="rgb(215,222,215)"/></linearGradient>
<circle cx="44.4" cy="43.2" r="43" fill="url(#ag7)"/>
<circle cx="44.4" cy="43.2" r="40.70" fill="none" stroke="url(#rg7)" stroke-width="4.2"/>
<circle cx="44.4" cy="43.2" r="38.40" fill="none" stroke="url(#lg7)" stroke-width="1.4"/>
<circle cx="44.4" cy="43.2" r="42.65" fill="none" stroke="rgb(110,118,155)" stroke-width="0.8"/>
<radialGradient id="cg7" gradientUnits="userSpaceOnUse" cx="44.4" cy="43.2" r="22.79"><stop offset="0.000" stop-color="rgb(220,182,200)"/><stop offset="0.160" stop-color="rgb(212,170,190)"/><stop offset="0.208" stop-color="rgb(160,40,75)"/><stop offset="0.377" stop-color="rgb(170,80,92)"/><stop offset="0.547" stop-color="rgb(178,122,108)"/><stop offset="0.736" stop-color="rgb(175,152,130)"/><stop offset="0.877" stop-color="rgb(160,155,130)"/><stop offset="1" stop-color="rgb(160,155,130)" stop-opacity="0"/></radialGradient>
<circle cx="44.4" cy="43.2" r="22.79" fill="url(#cg7)"/>
<path d="M35.4 39.6L31.8 38.2M53.2 40.5L56.7 39.5M51.8 48.8L55.9 52.0M49.3 51.2L50.9 53.8M45.0 53.2L45.1 55.2M52.8 41.2L55.5 40.5M52.1 47.7L55.0 49.4" stroke="rgb(156,84,84)" stroke-opacity="0.45" stroke-width="0.7"/>
<path d="M35.1 52.9L31.5 56.7" stroke="rgb(204,168,156)" stroke-opacity="0.45" stroke-width="0.7"/>
<path d="M56.6 40.8L60.6 40.0M37.7 35.2L34.9 31.9M47.6 54.4L48.3 57.0M51.4 53.9L52.9 56.2M50.4 31.2L51.7 28.6" stroke="rgb(156,108,96)" stroke-opacity="0.45" stroke-width="0.7"/>
<path d="M51.5 42.7L54.0 42.5M47.5 48.4L50.0 52.6M44.7 49.8L44.8 52.4M38.2 40.1L35.8 38.9M49.4 39.7L52.9 37.3M47.5 36.4L48.6 33.8M45.3 37.7L46.0 33.5M50.6 46.8L52.5 47.9M46.9 38.1L48.9 34.0M48.9 37.3L49.9 35.9" stroke="rgb(156,60,72)" stroke-opacity="0.45" stroke-width="0.7"/>
<path d="M54.5 25.5L55.0 24.7M29.1 35.7L25.4 33.9M57.8 57.9L58.7 58.9M41.3 60.6L40.6 64.2M60.8 55.9L61.2 56.2M48.6 60.3L49.5 63.9M55.4 27.8L56.8 25.9M61.0 39.7L65.2 38.8M26.0 45.0L23.7 45.2M59.8 35.5L63.2 33.7M34.5 57.6L32.3 60.7M62.1 53.7L62.7 54.0M59.9 54.3L61.7 55.6M46.2 63.2L46.3 64.4M33.9 31.5L30.4 27.5" stroke="rgb(168,156,132)" stroke-opacity="0.45" stroke-width="0.7"/>
<path d="M37.7 61.5L37.1 63.2M48.6 59.7L49.6 63.8M44.6 25.8L44.7 21.9M36.6 60.2L35.6 62.6M34.4 26.9L33.3 25.0M60.9 48.9L64.5 50.2M48.1 58.9L48.6 61.2M27.8 29.6L27.9 29.7M46.6 22.0L46.6 22.0M32.2 30.0L30.5 28.1M38.1 63.7L38.2 63.6M36.3 59.9L35.1 62.3M26.7 47.5L23.7 48.2M40.8 25.1L40.2 22.4M48.6 24.7L49.1 22.4M55.2 57.1L56.7 59.0M49.0 27.5L50.4 22.8M62.6 35.0L63.8 34.4M41.1 26.6L40.3 22.3M54.6 57.8L56.6 60.6M36.8 58.6L35.8 60.8M53.4 29.0L55.7 25.3M38.1 59.8L37.3 62.0M54.1 27.3L55.5 25.0M56.7 58.5L57.7 59.8M28.1 38.4L25.9 37.7M56.6 32.9L60.1 29.9M54.6 61.1L54.9 61.7M61.5 41.0L65.5 40.5" stroke="rgb(156,144,120)" stroke-opacity="0.45" stroke-width="0.7"/>
<path d="M51.0 36.4L53.5 33.9M47.7 34.3L48.8 31.4M48.4 34.3L49.7 31.6M51.7 33.9L52.9 32.4M52.6 48.5L54.3 49.6M33.4 45.5L31.2 46.0M40.4 53.6L39.3 56.6" stroke="rgb(192,132,120)" stroke-opacity="0.45" stroke-width="0.7"/>
<path d="M33.3 30.7L31.1 28.3" stroke="rgb(180,156,144)" stroke-opacity="0.45" stroke-width="0.7"/>
<path d="M35.1 55.3L33.8 57.0M59.9 42.2L63.2 41.9M59.3 45.3L61.0 45.6M28.3 44.1L26.0 44.3M59.1 42.7L61.8 42.6M54.2 30.7L55.8 28.7M58.2 43.1L62.9 43.1M30.2 35.9L28.6 35.1M58.4 42.9L63.2 42.8M50.1 56.6L51.0 58.7M55.3 31.2L56.8 29.5M58.0 40.1L63.0 39.0M48.6 30.9L50.2 25.9M35.8 31.6L33.9 29.0M39.1 56.2L37.3 60.5M58.6 37.3L61.6 36.0" stroke="rgb(156,132,108)" stroke-opacity="0.45" stroke-width="0.7"/>
<path d="M41.7 39.2L40.4 37.3" stroke="rgb(180,72,108)" stroke-opacity="0.45" stroke-width="0.7"/>
<path d="M40.6 36.6L38.4 32.8M35.8 41.1L34.1 40.7M50.3 48.5L51.6 49.7M39.5 48.8L37.5 51.1M48.2 37.2L50.6 33.6M53.3 44.0L56.0 44.2" stroke="rgb(192,108,120)" stroke-opacity="0.45" stroke-width="0.7"/>
<path d="M24.5 45.0L23.2 45.1M28.2 30.0L27.9 29.7" stroke="rgb(168,168,132)" stroke-opacity="0.45" stroke-width="0.7"/>
<path d="M45.0 36.3L45.1 34.4M48.4 46.9L50.9 49.1M39.5 41.5L35.9 40.4M49.9 44.4L54.3 45.4" stroke="rgb(180,84,108)" stroke-opacity="0.45" stroke-width="0.7"/>
<path d="M56.1 33.8L60.0 30.7M31.1 49.8L26.6 52.1M30.4 52.4L28.3 53.8" stroke="rgb(144,132,108)" stroke-opacity="0.45" stroke-width="0.7"/>
<path d="M41.6 50.5L40.8 52.5M49.9 37.4L53.1 34.0M46.7 35.9L48.2 31.0M51.6 46.1L53.3 46.8M37.6 43.4L33.8 43.5M40.7 50.0L38.8 53.3" stroke="rgb(156,72,84)" stroke-opacity="0.45" stroke-width="0.7"/>
<path d="M57.1 48.9L59.5 50.0M58.0 48.0L61.3 49.1M38.0 57.0L37.2 58.6M50.0 30.1L51.8 25.8M30.5 49.2L27.9 50.3M53.7 33.8L57.0 30.6M39.4 57.2L37.9 61.4M48.5 56.9L49.5 60.2M58.9 39.9L61.2 39.4" stroke="rgb(192,168,144)" stroke-opacity="0.45" stroke-width="0.7"/>
<path d="M49.9 44.2L55.1 45.2M48.5 45.1L52.6 47.0" stroke="rgb(144,48,72)" stroke-opacity="0.45" stroke-width="0.7"/>
<path d="M32.8 38.4L30.8 37.5M53.6 35.4L55.7 33.6M56.2 47.1L58.1 47.7M49.8 33.2L50.8 31.3M36.1 51.9L33.1 55.1M32.9 44.6L29.3 45.0M53.3 50.7L55.9 52.9M54.7 49.3L57.9 51.2M34.4 38.0L30.3 35.9" stroke="rgb(192,144,132)" stroke-opacity="0.45" stroke-width="0.7"/>
<path d="M44.6 48.6L44.8 52.2M48.1 45.9L50.9 47.9M41.5 39.0L39.5 35.9M48.9 43.0L52.9 42.8M44.0 49.1L43.8 51.4" stroke="rgb(156,48,72)" stroke-opacity="0.45" stroke-width="0.7"/>
<path d="M48.2 47.1L51.6 50.6M44.1 48.7L43.9 52.3M49.5 38.9L51.4 37.3M48.4 46.8L51.0 49.2M50.1 44.1L52.7 44.5" stroke="rgb(144,48,60)" stroke-opacity="0.45" stroke-width="0.7"/>
<path d="M33.6 35.2L30.9 33.2M51.7 31.4L53.2 29.0M34.7 34.3L32.0 31.9M31.0 47.6L27.7 48.7M57.3 48.5L59.3 49.4M55.4 37.5L58.9 35.8M36.4 53.3L34.5 55.6M33.1 35.7L30.4 33.9M50.3 53.1L52.7 57.2M58.7 41.7L61.6 41.4M50.5 31.5L52.0 28.7M53.4 53.4L55.1 55.4M54.6 50.5L57.9 52.9" stroke="rgb(192,156,132)" stroke-opacity="0.45" stroke-width="0.7"/>
<path d="M41.2 41.0L38.4 39.1M41.2 42.0L36.5 40.2M48.4 41.8L52.6 40.4M48.0 44.7L52.7 46.6M49.2 46.3L51.2 47.6M40.8 41.7L36.1 39.8M44.1 39.5L43.6 34.2M42.8 48.1L42.1 50.4M47.7 39.7L49.9 37.4M42.6 48.4L41.6 51.2M48.6 41.2L51.3 40.0M39.7 40.2L38.3 39.3" stroke="rgb(144,36,60)" stroke-opacity="0.45" stroke-width="0.7"/>
<path d="M28.2 53.6L26.5 54.7M54.4 61.5L54.6 61.9M37.7 23.2L37.6 23.0M28.0 53.6L26.4 54.6M23.8 49.4L24.0 49.3M63.6 46.8L65.3 47.1M47.8 64.1L47.9 64.2M24.7 46.3L23.4 46.5M42.8 64.2L42.8 64.4" stroke="rgb(144,144,120)" stroke-opacity="0.45" stroke-width="0.7"/>
<path d="M55.5 32.2L58.5 29.2M35.3 29.2L34.2 27.5M31.0 33.0L28.1 30.7M52.2 27.4L53.4 24.9M27.6 44.0L24.5 44.1M49.4 59.7L50.6 63.6M60.8 48.1L63.5 48.9" stroke="rgb(180,168,144)" stroke-opacity="0.45" stroke-width="0.7"/>
<path d="M33.7 45.2L29.1 46.0M33.8 46.8L30.1 48.0M49.0 53.5L50.1 56.2M35.0 50.4L32.1 52.5M46.9 54.7L47.3 56.7M34.7 37.7L32.5 36.5M44.5 55.1L44.5 57.0" stroke="rgb(156,108,84)" stroke-opacity="0.45" stroke-width="0.7"/>
<path d="M46.1 35.9L46.9 32.2M38.4 44.4L33.5 45.5M37.0 46.7L34.4 47.9M37.2 38.8L34.8 37.4" stroke="rgb(156,72,72)" stroke-opacity="0.45" stroke-width="0.7"/>
<path d="M48.6 41.7L51.2 40.8" stroke="rgb(156,36,72)" stroke-opacity="0.45" stroke-width="0.7"/>
<path d="M49.8 24.5L50.3 22.8M40.7 62.6L40.4 64.1M65.2 44.8L65.6 44.8M24.2 49.4L24.1 49.4M28.9 52.6L26.5 54.1M35.1 25.7L34.4 24.4M49.0 24.6L49.5 22.5M29.3 56.0L28.2 57.0M31.6 32.0L28.4 29.2M25.9 45.8L23.9 46.1M44.3 24.0L44.3 22.0M36.2 27.0L35.4 25.5M27.9 49.3L24.6 50.5M28.7 36.4L24.9 34.8M62.8 52.3L63.5 52.7" stroke="rgb(168,168,144)" stroke-opacity="0.45" stroke-width="0.7"/>
<path d="M59.4 40.8L61.3 40.5M32.3 49.7L30.0 50.9M49.6 55.5L51.6 60.1M37.6 54.6L36.0 57.3M52.7 33.1L54.0 31.5M44.1 56.3L44.1 60.6M34.0 49.1L29.4 51.8" stroke="rgb(156,120,96)" stroke-opacity="0.45" stroke-width="0.7"/>
<path d="M57.0 51.1L59.6 52.8M42.1 55.6L41.3 60.3M58.1 41.6L59.8 41.4M38.0 56.0L36.4 59.0" stroke="rgb(156,120,108)" stroke-opacity="0.45" stroke-width="0.7"/>
<path d="M35.1 34.8L33.5 33.3M49.7 52.7L52.0 56.8M51.2 53.5L52.9 56.1M32.2 41.5L29.7 41.1M49.1 53.8L50.5 57.0" stroke="rgb(204,156,132)" stroke-opacity="0.45" stroke-width="0.7"/>
<path d="M44.2 33.1L44.1 28.2M47.8 52.9L49.3 57.3M38.6 50.3L35.4 54.1M55.3 43.3L57.5 43.3" stroke="rgb(168,108,96)" stroke-opacity="0.45" stroke-width="0.7"/>
<path d="M39.7 49.5L36.7 53.6M47.1 33.2L47.8 30.7M51.4 49.9L54.2 52.7M48.5 35.6L50.3 32.4M52.4 44.0L57.3 44.4M35.6 45.5L30.8 46.8" stroke="rgb(192,120,120)" stroke-opacity="0.45" stroke-width="0.7"/>
<path d="M46.2 40.8L49.1 36.8M42.0 44.5L37.7 47.0M46.4 45.0L49.3 47.7M41.3 41.6L36.8 39.4" stroke="rgb(180,60,96)" stroke-opacity="0.45" stroke-width="0.7"/>
<path d="M41.9 45.2L38.4 48.1M44.0 45.8L43.2 50.5" stroke="rgb(132,24,48)" stroke-opacity="0.45" stroke-width="0.7"/>
<path d="M52.5 49.7L54.9 51.6M45.3 31.9L45.4 30.1M41.0 52.2L40.1 54.6M48.5 53.7L49.8 57.1M34.2 40.8L31.7 40.2M35.0 43.1L29.8 43.0M50.7 50.5L52.7 52.7M54.8 48.7L56.3 49.5M41.8 32.8L41.0 29.4M34.3 43.1L30.5 43.0" stroke="rgb(156,96,84)" stroke-opacity="0.45" stroke-width="0.7"/>
<path d="M45.9 39.2L46.8 36.7M43.7 39.3L43.0 35.2M42.3 39.7L39.7 35.2M44.9 39.6L45.5 34.8M39.8 44.4L36.6 45.3M41.2 41.8L36.7 39.9" stroke="rgb(180,72,96)" stroke-opacity="0.45" stroke-width="0.7"/>
<path d="M41.0 45.4L38.0 47.3M43.1 39.8L42.0 37.0M40.2 40.3L38.6 39.2" stroke="rgb(192,72,108)" stroke-opacity="0.45" stroke-width="0.7"/>
<path d="M50.9 44.3L53.6 44.8M45.6 50.1L46.0 52.5" stroke="rgb(180,84,96)" stroke-opacity="0.45" stroke-width="0.7"/>
<path d="M41.2 58.4L40.7 60.7" stroke="rgb(204,180,156)" stroke-opacity="0.45" stroke-width="0.7"/>
<path d="M46.9 50.5L48.0 53.9" stroke="rgb(180,108,108)" stroke-opacity="0.45" stroke-width="0.7"/>
<path d="M34.5 57.4L33.4 59.0" stroke="rgb(180,156,132)" stroke-opacity="0.45" stroke-width="0.7"/>
<path d="M46.2 31.6L47.0 26.4M52.3 32.5L53.4 31.0" stroke="rgb(204,156,144)" stroke-opacity="0.45" stroke-width="0.7"/>
<path d="M37.2 32.3L36.0 30.4M40.5 31.1L39.6 28.5" stroke="rgb(168,120,108)" stroke-opacity="0.45" stroke-width="0.7"/>
<path d="M28.8 38.8L24.9 37.7M28.0 46.1L25.7 46.5" stroke="rgb(192,180,156)" stroke-opacity="0.45" stroke-width="0.7"/>
<path d="M48.8 42.5L53.1 41.8M41.3 38.8L39.2 35.8" stroke="rgb(192,84,108)" stroke-opacity="0.45" stroke-width="0.7"/>
<path d="M39.5 51.4L37.5 54.9M36.7 39.2L32.4 37.0M37.1 50.3L35.3 52.1" stroke="rgb(204,132,132)" stroke-opacity="0.45" stroke-width="0.7"/>
<path d="M42.2 35.6L41.1 32.0" stroke="rgb(192,108,108)" stroke-opacity="0.45" stroke-width="0.7"/>
<path d="M45.5 49.1L46.3 53.3" stroke="rgb(156,60,84)" stroke-opacity="0.45" stroke-width="0.7"/>
<path d="M38.1 34.8L35.7 31.6M51.9 49.6L55.7 52.9" stroke="rgb(204,144,132)" stroke-opacity="0.45" stroke-width="0.7"/>
<path d="M43.9 49.3L43.6 53.7M45.6 48.9L46.6 53.5" stroke="rgb(180,96,108)" stroke-opacity="0.45" stroke-width="0.7"/>
<path d="M46.1 50.1L47.0 53.9M50.9 40.6L54.8 39.1" stroke="rgb(144,60,72)" stroke-opacity="0.45" stroke-width="0.7"/>
<path d="M42.0 42.4L39.7 41.6" stroke="rgb(216,168,192)" stroke-opacity="0.45" stroke-width="0.7"/>
<path d="M50.6 45.4L54.2 46.6M50.9 44.9L53.0 45.5M37.8 44.2L35.0 44.6" stroke="rgb(192,96,108)" stroke-opacity="0.45" stroke-width="0.7"/>
<path d="M47.8 29.8L48.3 27.7M57.1 46.5L62.2 47.9" stroke="rgb(168,132,108)" stroke-opacity="0.45" stroke-width="0.7"/>
<path d="M41.5 43.3L38.5 43.4" stroke="rgb(204,108,132)" stroke-opacity="0.45" stroke-width="0.7"/>
<path d="M43.5 46.1L43.0 47.9" stroke="rgb(180,120,144)" stroke-opacity="0.45" stroke-width="0.7"/>
<path d="M47.3 44.3L52.3 46.2" stroke="rgb(132,24,60)" stroke-opacity="0.45" stroke-width="0.7"/>
<path d="M50.6 31.3L53.0 26.8" stroke="rgb(204,168,144)" stroke-opacity="0.45" stroke-width="0.7"/>
<path d="M46.2 46.2L48.1 49.6" stroke="rgb(144,24,60)" stroke-opacity="0.45" stroke-width="0.7"/>
<path d="M55.1 45.0L59.2 45.6" stroke="rgb(192,144,120)" stroke-opacity="0.45" stroke-width="0.7"/>
<path d="M29.5 45.6L26.8 46.1" stroke="rgb(168,132,120)" stroke-opacity="0.45" stroke-width="0.7"/>
<path d="M59.3 46.0L62.2 46.6" stroke="rgb(192,156,144)" stroke-opacity="0.45" stroke-width="0.7"/>
<path d="M46.0 45.8L47.2 47.8" stroke="rgb(204,120,144)" stroke-opacity="0.45" stroke-width="0.7"/>
<path d="M52.7 53.3h.1M52.5 55.1h.1M52.1 30.9h.1M55.9 47.5h.1M32.1 36.5h.1M57.6 42.0h.1M32.9 49.0h.1" stroke="rgb(195,150,135)" stroke-opacity="0.5" stroke-width="1.1" stroke-linecap="round"/>
<path d="M51.9 62.5h.1M43.8 22.9h.1M39.9 25.1h.1" stroke="rgb(195,195,165)" stroke-opacity="0.5" stroke-width="1.1" stroke-linecap="round"/>
<path d="M25.7 41.9h.1M51.6 27.1h.1M60.4 50.1h.1M45.3 60.2h.1M34.1 60.0h.1" stroke="rgb(135,120,105)" stroke-opacity="0.5" stroke-width="1.1" stroke-linecap="round"/>
<path d="M45.7 57.5h.1M40.4 29.5h.1M31.0 45.7h.1M40.4 28.6h.1M45.4 28.1h.1M57.5 37.5h.1M32.9 36.4h.1M45.9 57.8h.1M40.3 30.8h.1M59.8 46.1h.1" stroke="rgb(210,165,150)" stroke-opacity="0.5" stroke-width="1.1" stroke-linecap="round"/>
<path d="M33.5 34.9h.1" stroke="rgb(210,165,135)" stroke-opacity="0.5" stroke-width="1.1" stroke-linecap="round"/>
<path d="M48.8 51.4h.1M36.8 47.7h.1" stroke="rgb(180,105,105)" stroke-opacity="0.5" stroke-width="1.1" stroke-linecap="round"/>
<path d="M34.4 60.8h.1M32.0 57.3h.1M55.5 28.8h.1M26.8 33.1h.1M45.2 61.5h.1M56.2 26.8h.1M27.7 51.4h.1M30.5 30.3h.1" stroke="rgb(180,165,150)" stroke-opacity="0.5" stroke-width="1.1" stroke-linecap="round"/>
<path d="M31.4 35.6h.1M31.8 33.9h.1M29.8 44.8h.1" stroke="rgb(195,165,135)" stroke-opacity="0.5" stroke-width="1.1" stroke-linecap="round"/>
<path d="M35.5 55.7h.1M57.2 51.1h.1M36.2 56.6h.1M42.4 58.9h.1M50.8 57.8h.1M31.3 33.3h.1M52.5 56.6h.1" stroke="rgb(210,180,150)" stroke-opacity="0.5" stroke-width="1.1" stroke-linecap="round"/>
<path d="M45.4 49.6h.1M40.0 49.6h.1M41.2 37.9h.1M37.4 39.3h.1M45.3 36.4h.1" stroke="rgb(195,90,105)" stroke-opacity="0.5" stroke-width="1.1" stroke-linecap="round"/>
<path d="M36.6 56.2h.1M54.0 51.5h.1M56.8 50.9h.1M47.4 55.5h.1" stroke="rgb(150,105,90)" stroke-opacity="0.5" stroke-width="1.1" stroke-linecap="round"/>
<path d="M36.2 24.6h.1M40.3 23.1h.1M62.7 50.6h.1M25.5 50.3h.1M26.6 53.4h.1M25.1 35.6h.1M35.8 24.8h.1M33.1 25.9h.1M65.3 43.7h.1M55.4 60.9h.1M64.7 39.8h.1" stroke="rgb(180,180,150)" stroke-opacity="0.5" stroke-width="1.1" stroke-linecap="round"/>
<path d="M37.0 52.2h.1M50.1 54.5h.1M42.3 31.8h.1M44.4 55.2h.1M55.6 44.8h.1" stroke="rgb(195,135,120)" stroke-opacity="0.5" stroke-width="1.1" stroke-linecap="round"/>
<path d="M48.6 43.0h.1" stroke="rgb(150,75,105)" stroke-opacity="0.5" stroke-width="1.1" stroke-linecap="round"/>
<path d="M52.8 28.4h.1" stroke="rgb(135,120,90)" stroke-opacity="0.5" stroke-width="1.1" stroke-linecap="round"/>
<path d="M33.8 47.5h.1M44.0 32.6h.1M53.8 39.4h.1M34.0 39.6h.1M38.7 34.4h.1" stroke="rgb(210,135,135)" stroke-opacity="0.5" stroke-width="1.1" stroke-linecap="round"/>
<path d="M51.4 61.6h.1M27.0 31.6h.1M58.8 55.5h.1" stroke="rgb(135,135,105)" stroke-opacity="0.5" stroke-width="1.1" stroke-linecap="round"/>
<path d="M39.1 27.1h.1M28.8 49.7h.1M45.2 25.9h.1M28.1 45.2h.1M44.2 27.3h.1M32.4 55.3h.1" stroke="rgb(210,180,165)" stroke-opacity="0.5" stroke-width="1.1" stroke-linecap="round"/>
<path d="M27.2 41.2h.1M52.4 59.4h.1M25.6 47.2h.1" stroke="rgb(150,135,105)" stroke-opacity="0.5" stroke-width="1.1" stroke-linecap="round"/>
<path d="M28.5 37.0h.1M56.8 56.5h.1M52.3 58.1h.1M43.2 61.6h.1M35.3 27.7h.1M54.2 59.3h.1" stroke="rgb(195,180,150)" stroke-opacity="0.5" stroke-width="1.1" stroke-linecap="round"/>
<path d="M57.0 35.8h.1M54.5 55.0h.1" stroke="rgb(165,120,105)" stroke-opacity="0.5" stroke-width="1.1" stroke-linecap="round"/>
<path d="M58.7 37.2h.1M37.7 28.1h.1" stroke="rgb(165,135,105)" stroke-opacity="0.5" stroke-width="1.1" stroke-linecap="round"/>
<path d="M37.7 40.9h.1M38.9 44.2h.1M43.7 48.3h.1M51.4 43.4h.1" stroke="rgb(180,75,105)" stroke-opacity="0.5" stroke-width="1.1" stroke-linecap="round"/>
<path d="M41.4 63.3h.1M30.0 32.8h.1M48.0 63.2h.1M25.8 43.9h.1M26.4 34.4h.1M30.1 29.2h.1M62.2 35.2h.1M24.7 45.9h.1M39.5 60.6h.1" stroke="rgb(195,180,165)" stroke-opacity="0.5" stroke-width="1.1" stroke-linecap="round"/>
<path d="M29.4 48.9h.1M28.7 38.6h.1" stroke="rgb(195,165,150)" stroke-opacity="0.5" stroke-width="1.1" stroke-linecap="round"/>
<path d="M36.2 49.4h.1M48.4 34.5h.1M39.5 51.5h.1M54.8 43.5h.1M34.7 44.9h.1M39.3 35.3h.1M53.4 46.1h.1M36.0 48.3h.1" stroke="rgb(195,120,120)" stroke-opacity="0.5" stroke-width="1.1" stroke-linecap="round"/>
<path d="M40.6 37.1h.1" stroke="rgb(135,45,60)" stroke-opacity="0.5" stroke-width="1.1" stroke-linecap="round"/>
<path d="M43.4 39.8h.1" stroke="rgb(195,150,165)" stroke-opacity="0.5" stroke-width="1.1" stroke-linecap="round"/>
<path d="M52.7 39.8h.1M39.1 36.9h.1M43.5 50.7h.1M50.2 49.2h.1M51.7 45.5h.1M37.2 46.5h.1" stroke="rgb(195,105,120)" stroke-opacity="0.5" stroke-width="1.1" stroke-linecap="round"/>
<path d="M43.1 23.6h.1M53.4 25.3h.1M63.5 50.5h.1" stroke="rgb(150,135,120)" stroke-opacity="0.5" stroke-width="1.1" stroke-linecap="round"/>
<path d="M51.2 50.1h.1" stroke="rgb(150,60,75)" stroke-opacity="0.5" stroke-width="1.1" stroke-linecap="round"/>
<path d="M40.1 36.0h.1" stroke="rgb(180,90,105)" stroke-opacity="0.5" stroke-width="1.1" stroke-linecap="round"/>
<path d="M38.8 47.4h.1" stroke="rgb(135,30,45)" stroke-opacity="0.5" stroke-width="1.1" stroke-linecap="round"/>
<path d="M43.3 49.4h.1" stroke="rgb(195,75,105)" stroke-opacity="0.5" stroke-width="1.1" stroke-linecap="round"/>
<path d="M56.5 44.3h.1M50.3 52.9h.1" stroke="rgb(195,135,135)" stroke-opacity="0.5" stroke-width="1.1" stroke-linecap="round"/>
<path d="M58.9 48.3h.1M48.8 27.2h.1M60.4 44.3h.1M60.0 47.7h.1M29.1 48.4h.1" stroke="rgb(150,120,105)" stroke-opacity="0.5" stroke-width="1.1" stroke-linecap="round"/>
<path d="M58.7 45.9h.1" stroke="rgb(150,120,90)" stroke-opacity="0.5" stroke-width="1.1" stroke-linecap="round"/>
<path d="M40.9 44.9h.1" stroke="rgb(180,120,135)" stroke-opacity="0.5" stroke-width="1.1" stroke-linecap="round"/>
<path d="M53.0 37.8h.1M52.7 37.1h.1M46.5 53.3h.1" stroke="rgb(150,75,75)" stroke-opacity="0.5" stroke-width="1.1" stroke-linecap="round"/>
<path d="M50.6 45.9h.1" stroke="rgb(150,45,60)" stroke-opacity="0.5" stroke-width="1.1" stroke-linecap="round"/>
<path d="M42.8 33.9h.1" stroke="rgb(210,120,135)" stroke-opacity="0.5" stroke-width="1.1" stroke-linecap="round"/>
<path d="M40.0 42.4h.1" stroke="rgb(195,90,135)" stroke-opacity="0.5" stroke-width="1.1" stroke-linecap="round"/>
<path d="M52.8 43.7h.1" stroke="rgb(210,105,120)" stroke-opacity="0.5" stroke-width="1.1" stroke-linecap="round"/>
<path d="M43.6 37.7h.1" stroke="rgb(180,60,90)" stroke-opacity="0.5" stroke-width="1.1" stroke-linecap="round"/>
<path d="M42.3 38.3h.1" stroke="rgb(150,30,60)" stroke-opacity="0.5" stroke-width="1.1" stroke-linecap="round"/>
<path d="M37.8 33.7h.1M53.7 33.6h.1" stroke="rgb(150,90,75)" stroke-opacity="0.5" stroke-width="1.1" stroke-linecap="round"/>
<path d="M40.4 32.2h.1" stroke="rgb(150,90,90)" stroke-opacity="0.5" stroke-width="1.1" stroke-linecap="round"/>
<path d="M52.4 39.0h.1" stroke="rgb(135,60,60)" stroke-opacity="0.5" stroke-width="1.1" stroke-linecap="round"/>
<path d="M43.5 39.0h.1" stroke="rgb(195,105,135)" stroke-opacity="0.5" stroke-width="1.1" stroke-linecap="round"/>
</g>
</svg>
</svg>
</body></html>
